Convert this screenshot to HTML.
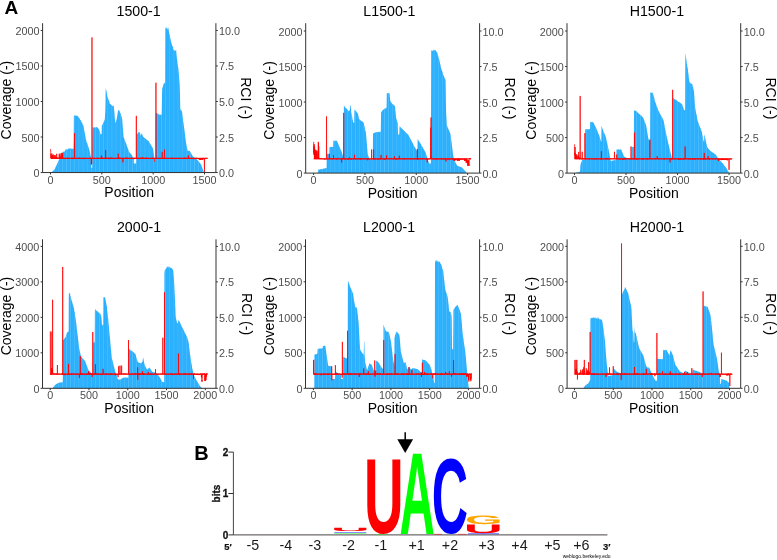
<!DOCTYPE html>
<html lang="en"><head><meta charset="utf-8"><title>Coverage and RCI profiles</title>
<style>html,body{margin:0;padding:0;background:#fff}svg{display:block;will-change:transform}text{font-family:"Liberation Sans",Arial,Helvetica,sans-serif}</style></head>
<body>
<svg width="777" height="560" viewBox="0 0 777 560">
<defs><pattern id="stripe" width="4.13" height="8" patternUnits="userSpaceOnUse"><rect x="0" y="0" width="0.7" height="8" fill="#fff" opacity="0.24"/><rect x="1.15" y="0" width="0.3" height="8" fill="#fff" opacity="0.08"/><rect x="2.1" y="0" width="0.6" height="8" fill="#fff" opacity="0.16"/><rect x="3.2" y="0" width="0.35" height="8" fill="#fff" opacity="0.1"/></pattern></defs>
<rect width="777" height="560" fill="#fff"/>
<text x="4.6" y="13.7" font-size="19" font-weight="bold">A</text>
<text x="194.2" y="459.8" font-size="20" font-weight="bold">B</text>
<g>
<path d="M51.3 172.6L51.3 172.6L51.5 172.3L51.7 172.1L51.9 172L52.1 171.7L52.3 171.5L52.6 171.3L52.8 171.2L53 171L53.2 170.7L53.4 170.6L53.6 170.3L53.8 170.2L54 169.9L54.2 169.7L54.4 169.6L54.6 169.4L54.8 168.9L55 168.5L55.2 168L55.4 167.5L55.6 167.1L55.8 166.7L56 166.2L56.2 165.8L56.5 165.3L56.7 164.9L56.9 164.4L57.1 164L57.3 163.5L57.5 163.1L57.7 162.7L57.9 162.2L58.1 161.7L58.3 161.3L58.5 160.9L58.7 160.3L58.9 160.1L59.1 159.6L59.3 159.1L59.5 158.7L59.7 158.3L59.9 157.8L60.2 157.5L60.4 156.9L60.6 156.7L60.8 156.3L61 155.7L61.2 155.5L61.4 154.8L61.6 154.6L61.8 154.2L62 153.8L62.2 153.4L62.4 152.9L62.6 152.4L62.8 152.2L63 151.7L63.2 151.8L63.4 151.8L63.6 151.7L63.8 151.6L64.1 151.5L64.3 151.4L64.5 151.5L64.7 151.4L64.9 151.2L65.1 150.7L65.3 150.1L65.5 149.9L65.7 149.5L65.9 148.7L66.1 148.9L66.3 149.1L66.5 148.9L66.7 149.4L66.9 149.4L67.1 149.8L67.3 149.7L67.5 149.8L67.7 149.3L68 149L68.2 149L68.4 148.4L68.6 148.3L68.8 148.4L69 148.4L69.2 148.4L69.4 148.5L69.6 148.6L69.8 148.7L70 148.5L70.2 148.3L70.4 148.6L70.6 148.3L70.8 148.6L71 148.6L71.2 148.6L71.4 148.6L71.6 148.9L71.9 148.8L72.1 148.8L72.3 149L72.5 148.7L72.7 148.7L72.9 148.8L73.1 148.7L73.3 148.7L73.5 148.7L73.7 137.7L73.9 115.7L74.1 115.3L74.3 115.5L74.5 115.7L74.7 115.5L74.9 115.8L75.1 115L75.3 115.3L75.6 116.1L75.8 115.6L76 116L76.2 115L76.4 116L76.6 115.9L76.8 115.7L77 116.1L77.2 115.4L77.4 115.9L77.6 115.9L77.8 116.1L78 117L78.2 117.1L78.4 116.6L78.6 116.9L78.8 117.8L79 117.7L79.2 118.3L79.5 118.2L79.7 118.4L79.9 118.9L80.1 119.7L80.3 119.9L80.5 119.9L80.7 120.6L80.9 120.3L81.1 121.3L81.3 121.8L81.5 121.8L81.7 122.3L81.9 122.8L82.1 122.5L82.3 123.5L82.5 123.7L82.7 124.2L82.9 124.7L83.1 125.2L83.4 125.3L83.6 126.9L83.8 127.6L84 129L84.2 130L84.4 131.2L84.6 132L84.8 133.5L85 133.9L85.2 135.6L85.4 136.4L85.6 137.4L85.8 139L86 139.7L86.2 140.5L86.4 141.4L86.6 141.7L86.8 142.5L87 143L87.3 143.3L87.5 144.1L87.7 144.8L87.9 145.5L88.1 146.2L88.3 146.7L88.5 147.3L88.7 147.8L88.9 148.6L89.1 149L89.3 149.8L89.5 150.4L89.7 151.3L89.9 152.2L90.1 153.4L90.3 154.3L90.5 155.6L90.7 156.6L91 157.6L91.2 161.6L91.4 168.1L91.6 168.1L91.8 168.1L92 168.2L92.2 168.1L92.4 140.9L92.6 127.6L92.8 127.3L93 127.5L93.2 127.4L93.4 127.1L93.6 127.1L93.8 127.8L94 127.4L94.2 127.5L94.4 127.3L94.6 127.5L94.9 127.3L95.1 127.8L95.3 127.3L95.5 127.6L95.7 127.3L95.9 127.5L96.1 127.2L96.3 127.1L96.5 127.6L96.7 126.7L96.9 127.3L97.1 127.4L97.3 127.5L97.5 127.8L97.7 127.6L97.9 127.8L98.1 127.9L98.3 128.6L98.5 129L98.8 129.1L99 129.6L99.2 130L99.4 130.2L99.6 131L99.8 131.3L100 132L100.2 133.3L100.4 133.6L100.6 134.2L100.8 134.2L101 134.5L101.2 134.4L101.4 134L101.6 134L101.8 125.8L102 125.9L102.2 124.8L102.4 124.8L102.7 124.4L102.9 123.7L103.1 123.1L103.3 122.9L103.5 122.6L103.7 121.9L103.9 121.1L104.1 121.5L104.3 120.8L104.5 119.7L104.7 119.9L104.9 117.7L105.1 113.9L105.3 111.6L105.5 103.1L105.7 87.7L105.9 88.9L106.1 89.8L106.4 90.7L106.6 91.3L106.8 93.1L107 94L107.2 95.9L107.4 96.8L107.6 96.8L107.8 97.3L108 99.1L108.2 98.6L108.4 99.6L108.6 99.9L108.8 100.4L109 100.2L109.2 101L109.4 102.1L109.6 103.1L109.8 103.8L110 104.1L110.3 104L110.5 104.4L110.7 104.8L110.9 104.1L111.1 105.1L111.3 104.6L111.5 105.4L111.7 105.1L111.9 105.6L112.1 105.4L112.3 105.9L112.5 106.3L112.7 105.7L112.9 106.1L113.1 106.1L113.3 105.2L113.5 105.2L113.7 105.9L113.9 108.2L114.2 110L114.4 112.7L114.6 114.5L114.8 117.6L115 120.2L115.2 123.4L115.4 122.8L115.6 122L115.8 121.4L116 121.3L116.2 120.6L116.4 119.7L116.6 119.6L116.8 118.4L117 117.1L117.2 116L117.4 115.2L117.6 113.4L117.8 111.9L118.1 111.1L118.3 110L118.5 109.8L118.7 109.9L118.9 110.2L119.1 110.5L119.3 110.7L119.5 111L119.7 111.2L119.9 112.2L120.1 112.9L120.3 112.9L120.5 112.8L120.7 113.2L120.9 115.2L121.1 115.3L121.3 116.1L121.5 116.7L121.8 117.4L122 118.6L122.2 119.4L122.4 121.9L122.6 124.3L122.8 127.4L123 129.6L123.2 132.2L123.4 134.5L123.6 137L123.8 137.6L124 138L124.2 138.7L124.4 139L124.6 139.8L124.8 140.3L125 141L125.2 141.4L125.4 141.8L125.7 142.5L125.9 143.1L126.1 143.5L126.3 144L126.5 144.8L126.7 145.2L126.9 146.1L127.1 146.3L127.3 147.1L127.5 147.4L127.7 148.3L127.9 148.6L128.1 149.3L128.3 149.7L128.5 150.3L128.7 150.5L128.9 151.3L129.1 152L129.3 152.1L129.6 152.5L129.8 152.8L130 152.8L130.2 153.3L130.4 153.4L130.6 153.6L130.8 153.8L131 154.2L131.2 154.3L131.4 154.6L131.6 154.9L131.8 155.1L132 155.4L132.2 155.8L132.4 156.3L132.6 156.9L132.8 156.8L133 157L133.2 157.2L133.5 157.2L133.7 157.3L133.9 163.5L134.1 163.5L134.3 163.5L134.5 163.4L134.7 163.5L134.9 163.4L135.1 163.6L135.3 163.4L135.5 163.5L135.7 163.5L135.9 163.4L136.1 163.5L136.3 153.8L136.5 144L136.7 134.2L136.9 134.4L137.2 133.8L137.4 133.9L137.6 133.8L137.8 133L138 133.2L138.2 132.8L138.4 132.4L138.6 132L138.8 132.1L139 132L139.2 131.8L139.4 131.8L139.6 132.2L139.8 133.3L140 133.5L140.2 133.8L140.4 134.4L140.6 135.4L140.8 135.4L141.1 134.9L141.3 134.4L141.5 133.7L141.7 132.9L141.9 133.4L142.1 133.7L142.3 134.6L142.5 135.3L142.7 135.8L142.9 136.2L143.1 137.1L143.3 136.7L143.5 137.1L143.7 137.1L143.9 137.3L144.1 137.6L144.3 137.8L144.5 138.1L144.7 138.2L145 138.3L145.2 138.3L145.4 138.4L145.6 138.5L145.8 139.1L146 139.1L146.2 139.2L146.4 139.4L146.6 139.4L146.8 139.8L147 139.7L147.2 140.1L147.4 140.3L147.6 140.7L147.8 140.5L148 140.5L148.2 140.8L148.4 141.1L148.6 141.1L148.9 141.5L149.1 141.6L149.3 142.4L149.5 142.5L149.7 143.1L149.9 143.2L150.1 143.7L150.3 143.9L150.5 144.1L150.7 144.6L150.9 144.9L151.1 145.3L151.3 145.5L151.5 145.8L151.7 146.5L151.9 146.5L152.1 146.9L152.3 147.2L152.6 147.7L152.8 148.2L153 148.3L153.2 149.7L153.4 150.9L153.6 152.5L153.8 153.5L154 154.8L154.2 156.5L154.4 158.8L154.6 161.1L154.8 162.2L155 162.3L155.2 162L155.4 162.1L155.6 162.2L155.8 113.2L156 113L156.2 112.9L156.5 113.1L156.7 113.1L156.9 113L157.1 113.6L157.3 113.5L157.5 113.6L157.7 113.6L157.9 113.6L158.1 114.4L158.3 113.9L158.5 113.5L158.7 114.2L158.9 114.4L159.1 114.5L159.3 114.1L159.5 114.9L159.7 114.4L159.9 115.5L160.1 114.2L160.4 114.8L160.6 114.4L160.8 115.1L161 114.9L161.2 114.4L161.4 115.5L161.6 115L161.8 109.4L162 96.4L162.2 88.2L162.4 87.9L162.6 87.6L162.8 86.8L163 86.5L163.2 85.6L163.4 84.8L163.6 84.1L163.8 84L164 83.1L164.3 82.8L164.5 82.7L164.7 83L164.9 83.8L165.1 82.5L165.3 27.8L165.5 28.9L165.7 27.2L165.9 27.8L166.1 28.8L166.3 27.3L166.5 27.4L166.7 27.1L166.9 28.9L167.1 27.7L167.3 28.7L167.5 30.3L167.7 28.6L168 28.5L168.2 26.7L168.4 29L168.6 29.1L168.8 31.4L169 31.3L169.2 33.7L169.4 33L169.6 35.6L169.8 34.7L170 36.6L170.2 37.9L170.4 39.1L170.6 38.7L170.8 40.8L171 40.9L171.2 42.4L171.4 42.8L171.6 43.6L171.9 44.6L172.1 45.5L172.3 46.3L172.5 45.8L172.7 46.6L172.9 46.2L173.1 47.9L173.3 49.7L173.5 48.4L173.7 50.6L173.9 49.8L174.1 50.6L174.3 49.8L174.5 50.5L174.7 51L174.9 51L175.1 51.1L175.3 51L175.5 49.3L175.8 50.5L176 50.5L176.2 49.9L176.4 53.4L176.6 55.3L176.8 57.4L177 59.5L177.2 59.5L177.4 62.1L177.6 64L177.8 64.9L178 66.5L178.2 68.1L178.4 68.6L178.6 71.3L178.8 73.1L179 75.4L179.2 77.9L179.4 81.3L179.7 85L179.9 90.9L180.1 99.5L180.3 108.6L180.5 109.5L180.7 110.2L180.9 109.9L181.1 109.6L181.3 110.4L181.5 111.1L181.7 111.2L181.9 111.1L182.1 112.1L182.3 113.9L182.5 115.4L182.7 117.2L182.9 118.7L183.1 120.7L183.4 122.3L183.6 123.7L183.8 125.3L184 127L184.2 128.2L184.4 129.8L184.6 131.2L184.8 133.1L185 134.8L185.2 136.4L185.4 138.2L185.6 139.4L185.8 141.2L186 142.4L186.2 143.5L186.4 144.5L186.6 145.5L186.8 146.7L187 147.7L187.3 148.8L187.5 149.8L187.7 150.8L187.9 151.1L188.1 151.1L188.3 151L188.5 150.9L188.7 150.9L188.9 150.5L189.1 150.7L189.3 150.5L189.5 150.8L189.7 150.9L189.9 151.2L190.1 151.5L190.3 152L190.5 152.2L190.7 152.8L190.9 153L191.2 153.4L191.4 153.5L191.6 154L191.8 154.2L192 154.9L192.2 155.2L192.4 155.4L192.6 155.9L192.8 156.1L193 156.6L193.2 156.6L193.4 156.9L193.6 157L193.8 157L194 157.3L194.2 157.4L194.4 157.6L194.6 157.7L194.8 157.7L195.1 158L195.3 158.2L195.5 158.3L195.7 158.6L195.9 158.6L196.1 158.8L196.3 158.9L196.5 159L196.7 159.2L196.9 159.5L197.1 159.6L197.3 159.8L197.5 159.9L197.7 160.2L197.9 160.4L198.1 160.7L198.3 160.9L198.5 161.3L198.8 161.7L199 161.8L199.2 162.1L199.4 162.3L199.6 162.7L199.8 163L200 163.1L200.2 163.4L200.4 163.7L200.6 164L200.8 164.3L201 164.5L201.2 164.9L201.4 165.4L201.6 166L201.8 166.6L202 167.2L202.2 167.8L202.4 168.3L202.7 168.9L202.9 169.4L203.1 170L203.3 170.6L203.5 171.2L203.7 171.7L203.9 172.3L203.9 172.6Z" fill="#1FACFE"/>
<path d="M51.3 172.6L51.3 172.6L51.5 172.3L51.7 172.1L51.9 172L52.1 171.7L52.3 171.5L52.6 171.3L52.8 171.2L53 171L53.2 170.7L53.4 170.6L53.6 170.3L53.8 170.2L54 169.9L54.2 169.7L54.4 169.6L54.6 169.4L54.8 168.9L55 168.5L55.2 168L55.4 167.5L55.6 167.1L55.8 166.7L56 166.2L56.2 165.8L56.5 165.3L56.7 164.9L56.9 164.4L57.1 164L57.3 163.5L57.5 163.1L57.7 162.7L57.9 162.2L58.1 161.7L58.3 161.3L58.5 160.9L58.7 160.3L58.9 160.1L59.1 159.6L59.3 159.1L59.5 158.7L59.7 158.3L59.9 157.8L60.2 157.5L60.4 156.9L60.6 156.7L60.8 156.3L61 155.7L61.2 155.5L61.4 154.8L61.6 154.6L61.8 154.2L62 153.8L62.2 153.4L62.4 152.9L62.6 152.4L62.8 152.2L63 151.7L63.2 151.8L63.4 151.8L63.6 151.7L63.8 151.6L64.1 151.5L64.3 151.4L64.5 151.5L64.7 151.4L64.9 151.2L65.1 150.7L65.3 150.1L65.5 149.9L65.7 149.5L65.9 148.7L66.1 148.9L66.3 149.1L66.5 148.9L66.7 149.4L66.9 149.4L67.1 149.8L67.3 149.7L67.5 149.8L67.7 149.3L68 149L68.2 149L68.4 148.4L68.6 148.3L68.8 148.4L69 148.4L69.2 148.4L69.4 148.5L69.6 148.6L69.8 148.7L70 148.5L70.2 148.3L70.4 148.6L70.6 148.3L70.8 148.6L71 148.6L71.2 148.6L71.4 148.6L71.6 148.9L71.9 148.8L72.1 148.8L72.3 149L72.5 148.7L72.7 148.7L72.9 148.8L73.1 148.7L73.3 148.7L73.5 148.7L73.7 137.7L73.9 115.7L74.1 115.3L74.3 115.5L74.5 115.7L74.7 115.5L74.9 115.8L75.1 115L75.3 115.3L75.6 116.1L75.8 115.6L76 116L76.2 115L76.4 116L76.6 115.9L76.8 115.7L77 116.1L77.2 115.4L77.4 115.9L77.6 115.9L77.8 116.1L78 117L78.2 117.1L78.4 116.6L78.6 116.9L78.8 117.8L79 117.7L79.2 118.3L79.5 118.2L79.7 118.4L79.9 118.9L80.1 119.7L80.3 119.9L80.5 119.9L80.7 120.6L80.9 120.3L81.1 121.3L81.3 121.8L81.5 121.8L81.7 122.3L81.9 122.8L82.1 122.5L82.3 123.5L82.5 123.7L82.7 124.2L82.9 124.7L83.1 125.2L83.4 125.3L83.6 126.9L83.8 127.6L84 129L84.2 130L84.4 131.2L84.6 132L84.8 133.5L85 133.9L85.2 135.6L85.4 136.4L85.6 137.4L85.8 139L86 139.7L86.2 140.5L86.4 141.4L86.6 141.7L86.8 142.5L87 143L87.3 143.3L87.5 144.1L87.7 144.8L87.9 145.5L88.1 146.2L88.3 146.7L88.5 147.3L88.7 147.8L88.9 148.6L89.1 149L89.3 149.8L89.5 150.4L89.7 151.3L89.9 152.2L90.1 153.4L90.3 154.3L90.5 155.6L90.7 156.6L91 157.6L91.2 161.6L91.4 168.1L91.6 168.1L91.8 168.1L92 168.2L92.2 168.1L92.4 140.9L92.6 127.6L92.8 127.3L93 127.5L93.2 127.4L93.4 127.1L93.6 127.1L93.8 127.8L94 127.4L94.2 127.5L94.4 127.3L94.6 127.5L94.9 127.3L95.1 127.8L95.3 127.3L95.5 127.6L95.7 127.3L95.9 127.5L96.1 127.2L96.3 127.1L96.5 127.6L96.7 126.7L96.9 127.3L97.1 127.4L97.3 127.5L97.5 127.8L97.7 127.6L97.9 127.8L98.1 127.9L98.3 128.6L98.5 129L98.8 129.1L99 129.6L99.2 130L99.4 130.2L99.6 131L99.8 131.3L100 132L100.2 133.3L100.4 133.6L100.6 134.2L100.8 134.2L101 134.5L101.2 134.4L101.4 134L101.6 134L101.8 125.8L102 125.9L102.2 124.8L102.4 124.8L102.7 124.4L102.9 123.7L103.1 123.1L103.3 122.9L103.5 122.6L103.7 121.9L103.9 121.1L104.1 121.5L104.3 120.8L104.5 119.7L104.7 119.9L104.9 117.7L105.1 113.9L105.3 111.6L105.5 103.1L105.7 87.7L105.9 88.9L106.1 89.8L106.4 90.7L106.6 91.3L106.8 93.1L107 94L107.2 95.9L107.4 96.8L107.6 96.8L107.8 97.3L108 99.1L108.2 98.6L108.4 99.6L108.6 99.9L108.8 100.4L109 100.2L109.2 101L109.4 102.1L109.6 103.1L109.8 103.8L110 104.1L110.3 104L110.5 104.4L110.7 104.8L110.9 104.1L111.1 105.1L111.3 104.6L111.5 105.4L111.7 105.1L111.9 105.6L112.1 105.4L112.3 105.9L112.5 106.3L112.7 105.7L112.9 106.1L113.1 106.1L113.3 105.2L113.5 105.2L113.7 105.9L113.9 108.2L114.2 110L114.4 112.7L114.6 114.5L114.8 117.6L115 120.2L115.2 123.4L115.4 122.8L115.6 122L115.8 121.4L116 121.3L116.2 120.6L116.4 119.7L116.6 119.6L116.8 118.4L117 117.1L117.2 116L117.4 115.2L117.6 113.4L117.8 111.9L118.1 111.1L118.3 110L118.5 109.8L118.7 109.9L118.9 110.2L119.1 110.5L119.3 110.7L119.5 111L119.7 111.2L119.9 112.2L120.1 112.9L120.3 112.9L120.5 112.8L120.7 113.2L120.9 115.2L121.1 115.3L121.3 116.1L121.5 116.7L121.8 117.4L122 118.6L122.2 119.4L122.4 121.9L122.6 124.3L122.8 127.4L123 129.6L123.2 132.2L123.4 134.5L123.6 137L123.8 137.6L124 138L124.2 138.7L124.4 139L124.6 139.8L124.8 140.3L125 141L125.2 141.4L125.4 141.8L125.7 142.5L125.9 143.1L126.1 143.5L126.3 144L126.5 144.8L126.7 145.2L126.9 146.1L127.1 146.3L127.3 147.1L127.5 147.4L127.7 148.3L127.9 148.6L128.1 149.3L128.3 149.7L128.5 150.3L128.7 150.5L128.9 151.3L129.1 152L129.3 152.1L129.6 152.5L129.8 152.8L130 152.8L130.2 153.3L130.4 153.4L130.6 153.6L130.8 153.8L131 154.2L131.2 154.3L131.4 154.6L131.6 154.9L131.8 155.1L132 155.4L132.2 155.8L132.4 156.3L132.6 156.9L132.8 156.8L133 157L133.2 157.2L133.5 157.2L133.7 157.3L133.9 163.5L134.1 163.5L134.3 163.5L134.5 163.4L134.7 163.5L134.9 163.4L135.1 163.6L135.3 163.4L135.5 163.5L135.7 163.5L135.9 163.4L136.1 163.5L136.3 153.8L136.5 144L136.7 134.2L136.9 134.4L137.2 133.8L137.4 133.9L137.6 133.8L137.8 133L138 133.2L138.2 132.8L138.4 132.4L138.6 132L138.8 132.1L139 132L139.2 131.8L139.4 131.8L139.6 132.2L139.8 133.3L140 133.5L140.2 133.8L140.4 134.4L140.6 135.4L140.8 135.4L141.1 134.9L141.3 134.4L141.5 133.7L141.7 132.9L141.9 133.4L142.1 133.7L142.3 134.6L142.5 135.3L142.7 135.8L142.9 136.2L143.1 137.1L143.3 136.7L143.5 137.1L143.7 137.1L143.9 137.3L144.1 137.6L144.3 137.8L144.5 138.1L144.7 138.2L145 138.3L145.2 138.3L145.4 138.4L145.6 138.5L145.8 139.1L146 139.1L146.2 139.2L146.4 139.4L146.6 139.4L146.8 139.8L147 139.7L147.2 140.1L147.4 140.3L147.6 140.7L147.8 140.5L148 140.5L148.2 140.8L148.4 141.1L148.6 141.1L148.9 141.5L149.1 141.6L149.3 142.4L149.5 142.5L149.7 143.1L149.9 143.2L150.1 143.7L150.3 143.9L150.5 144.1L150.7 144.6L150.9 144.9L151.1 145.3L151.3 145.5L151.5 145.8L151.7 146.5L151.9 146.5L152.1 146.9L152.3 147.2L152.6 147.7L152.8 148.2L153 148.3L153.2 149.7L153.4 150.9L153.6 152.5L153.8 153.5L154 154.8L154.2 156.5L154.4 158.8L154.6 161.1L154.8 162.2L155 162.3L155.2 162L155.4 162.1L155.6 162.2L155.8 113.2L156 113L156.2 112.9L156.5 113.1L156.7 113.1L156.9 113L157.1 113.6L157.3 113.5L157.5 113.6L157.7 113.6L157.9 113.6L158.1 114.4L158.3 113.9L158.5 113.5L158.7 114.2L158.9 114.4L159.1 114.5L159.3 114.1L159.5 114.9L159.7 114.4L159.9 115.5L160.1 114.2L160.4 114.8L160.6 114.4L160.8 115.1L161 114.9L161.2 114.4L161.4 115.5L161.6 115L161.8 109.4L162 96.4L162.2 88.2L162.4 87.9L162.6 87.6L162.8 86.8L163 86.5L163.2 85.6L163.4 84.8L163.6 84.1L163.8 84L164 83.1L164.3 82.8L164.5 82.7L164.7 83L164.9 83.8L165.1 82.5L165.3 27.8L165.5 28.9L165.7 27.2L165.9 27.8L166.1 28.8L166.3 27.3L166.5 27.4L166.7 27.1L166.9 28.9L167.1 27.7L167.3 28.7L167.5 30.3L167.7 28.6L168 28.5L168.2 26.7L168.4 29L168.6 29.1L168.8 31.4L169 31.3L169.2 33.7L169.4 33L169.6 35.6L169.8 34.7L170 36.6L170.2 37.9L170.4 39.1L170.6 38.7L170.8 40.8L171 40.9L171.2 42.4L171.4 42.8L171.6 43.6L171.9 44.6L172.1 45.5L172.3 46.3L172.5 45.8L172.7 46.6L172.9 46.2L173.1 47.9L173.3 49.7L173.5 48.4L173.7 50.6L173.9 49.8L174.1 50.6L174.3 49.8L174.5 50.5L174.7 51L174.9 51L175.1 51.1L175.3 51L175.5 49.3L175.8 50.5L176 50.5L176.2 49.9L176.4 53.4L176.6 55.3L176.8 57.4L177 59.5L177.2 59.5L177.4 62.1L177.6 64L177.8 64.9L178 66.5L178.2 68.1L178.4 68.6L178.6 71.3L178.8 73.1L179 75.4L179.2 77.9L179.4 81.3L179.7 85L179.9 90.9L180.1 99.5L180.3 108.6L180.5 109.5L180.7 110.2L180.9 109.9L181.1 109.6L181.3 110.4L181.5 111.1L181.7 111.2L181.9 111.1L182.1 112.1L182.3 113.9L182.5 115.4L182.7 117.2L182.9 118.7L183.1 120.7L183.4 122.3L183.6 123.7L183.8 125.3L184 127L184.2 128.2L184.4 129.8L184.6 131.2L184.8 133.1L185 134.8L185.2 136.4L185.4 138.2L185.6 139.4L185.8 141.2L186 142.4L186.2 143.5L186.4 144.5L186.6 145.5L186.8 146.7L187 147.7L187.3 148.8L187.5 149.8L187.7 150.8L187.9 151.1L188.1 151.1L188.3 151L188.5 150.9L188.7 150.9L188.9 150.5L189.1 150.7L189.3 150.5L189.5 150.8L189.7 150.9L189.9 151.2L190.1 151.5L190.3 152L190.5 152.2L190.7 152.8L190.9 153L191.2 153.4L191.4 153.5L191.6 154L191.8 154.2L192 154.9L192.2 155.2L192.4 155.4L192.6 155.9L192.8 156.1L193 156.6L193.2 156.6L193.4 156.9L193.6 157L193.8 157L194 157.3L194.2 157.4L194.4 157.6L194.6 157.7L194.8 157.7L195.1 158L195.3 158.2L195.5 158.3L195.7 158.6L195.9 158.6L196.1 158.8L196.3 158.9L196.5 159L196.7 159.2L196.9 159.5L197.1 159.6L197.3 159.8L197.5 159.9L197.7 160.2L197.9 160.4L198.1 160.7L198.3 160.9L198.5 161.3L198.8 161.7L199 161.8L199.2 162.1L199.4 162.3L199.6 162.7L199.8 163L200 163.1L200.2 163.4L200.4 163.7L200.6 164L200.8 164.3L201 164.5L201.2 164.9L201.4 165.4L201.6 166L201.8 166.6L202 167.2L202.2 167.8L202.4 168.3L202.7 168.9L202.9 169.4L203.1 170L203.3 170.6L203.5 171.2L203.7 171.7L203.9 172.3L203.9 172.6Z" fill="url(#stripe)"/>
<polyline points="50.6,148.96 50.71,152.46 50.81,158.01 50.91,156.06 51.01,155.05 51.12,153.78 51.22,158.34 51.32,158.34 51.42,156.62 51.53,158.21 51.63,158.34 51.73,156.44 51.83,153.52 51.94,156.95 52.04,156.22 52.14,158.34 52.25,158.34 52.35,157.83 52.45,158.34 52.55,154.97 52.66,158.34 52.76,158.34 52.86,158.33 52.96,156.47 53.07,158.34 53.17,157.94 53.27,154.51 53.37,158.34 53.89,158.34 53.99,158.16 54.09,157.54 54.2,158.47 54.3,158.34 54.61,158.34 54.71,155.09 54.81,158.34 55.02,158.34 55.12,158.88 55.22,155.33 55.33,158.34 55.43,158.08 55.53,158.34 55.63,158.34 55.74,158.85 55.84,158.34 55.94,158.34 56.04,157.26 56.15,158.46 56.25,158.34 56.35,158.34 56.45,158.72 56.56,156.73 56.66,153.79 56.76,158.28 56.87,158.34 56.97,157.89 57.07,158.35 57.17,158.34 57.28,158.64 57.38,158.34 57.48,157.57 57.58,158.19 57.69,158.34 57.79,157.96 57.89,158.34 57.99,158.6 58.1,158.34 58.2,158.34 58.3,158.1 58.41,158.14 58.51,158.35 58.61,157.82 58.71,158.34 58.92,158.34 59.02,158.19 59.12,158.34 59.23,154.08 59.33,158.17 59.43,158.34 59.64,158.34 59.74,155.34 59.84,155.54 59.95,158.34 60.05,153.32 60.15,158.34 60.25,157.07 60.36,158.34 60.87,158.34 60.97,158.94 61.07,158.34 61.18,158.34 61.28,158.24 61.38,158.34 61.59,158.34 61.69,152.85 61.79,158.34 61.9,158.34 62,158.39 62.1,158.29 62.2,158.34 62.31,154.45 62.41,158.34 62.51,158.34 62.61,152.94 62.72,158.34 64.46,158.34 64.57,158.49 64.67,158.26 64.77,158.79 64.87,158.34 64.98,158.85 65.08,158.34 65.8,158.34 65.9,158.59 66,158.28 66.11,158.34 67.23,158.34 67.34,157.73 67.44,158.16 67.54,158.34 68.57,158.34 68.67,157.92 68.77,158.75 68.88,158.34 69.29,158.34 69.39,158.4 69.49,158.34 69.7,158.34 69.8,158.39 69.9,158.34 70.01,158.82 70.11,158.34 70.62,158.34 70.73,158.38 70.83,158.53 70.93,158.34 71.96,158.34 72.06,157.61 72.16,158.34 72.37,158.34 72.47,158.53 72.57,158.32 72.68,159 72.78,158.34 72.88,158.34 72.98,158.51 73.09,159.11 73.19,158.34 73.5,158.34 73.6,158.11 73.7,157.91 73.81,158.84 73.91,158.34 74.01,158.45 74.11,158.23 74.22,158.34 74.32,158.34 74.42,157.94 74.52,133.19 74.63,154.57 74.73,158.72 74.83,158.12 74.93,158.34 75.65,158.34 75.76,158.86 75.86,158.34 75.96,158.49 76.06,158.34 76.27,158.34 76.37,158.26 76.47,158.34 76.58,158.09 76.68,158.34 77.4,158.34 77.5,158.54 77.6,158.34 78.01,158.34 78.12,158.49 78.22,158.34 78.73,158.34 78.84,157.95 78.94,158.34 79.04,157.9 79.14,158.34 79.25,158.34 79.35,157.81 79.45,158.33 79.55,157.79 79.66,158.34 79.86,158.34 79.97,158.59 80.07,158.34 80.17,158.49 80.27,158.34 80.68,158.34 80.79,158.59 80.89,158.34 80.99,158.47 81.09,158.3 81.2,158.94 81.3,158.34 81.4,158.34 81.51,158.65 81.61,158.34 82.63,158.34 82.74,158.34 82.84,158.34 83.05,158.34 83.15,158.79 83.25,157.95 83.35,158.34 83.46,158.34 83.56,159.11 83.66,158.64 83.76,158.34 83.87,158.34 83.97,157.82 84.07,158.34 84.17,158.34 84.28,158.14 84.38,158.34 84.59,158.34 84.69,158.26 84.79,158.07 84.89,158.34 85,158.02 85.1,158.34 85.51,158.34 85.61,158.53 85.71,158.34 85.82,158.43 85.92,158.54 86.02,158.34 86.13,158.34 86.23,158.02 86.33,158.34 87.15,158.34 87.25,158.66 87.36,158.34 87.46,158.23 87.56,158.34 88.08,158.34 88.18,158.85 88.28,158.65 88.38,158.27 88.49,158.02 88.59,158.34 89,158.34 89.1,158.62 89.21,158.34 89.62,158.34 89.72,158.37 89.82,158.64 89.92,158.6 90.03,158.34 90.13,158.32 90.23,157.96 90.33,158.34 90.44,157.67 90.54,158.34 90.64,158.34 90.75,158.33 90.85,158.34 91.26,158.34 91.36,164.59 91.46,158.67 91.57,159.08 91.67,164.02 91.77,158.75 91.87,158.34 91.98,37.41 92.08,140.2 92.18,158.34 92.7,158.34 92.8,157.98 92.9,158.25 93,158.34 93.11,158.22 93.21,158.34 93.31,158.34 93.41,158.65 93.52,158.34 93.72,158.34 93.83,158.43 93.93,158.18 94.03,158.34 94.13,158.24 94.24,158.24 94.34,158.34 94.44,158.2 94.54,158.34 94.85,158.34 94.95,158.02 95.06,158.87 95.16,158.34 95.26,158.34 95.37,158.42 95.47,158.67 95.57,158.34 95.78,158.34 95.88,158.19 95.98,158.34 96.08,158.51 96.19,158.34 96.8,158.34 96.91,158.36 97.01,158.34 97.11,157.85 97.21,158.34 97.32,158.55 97.42,158.34 97.73,158.34 97.83,158.09 97.93,158.54 98.03,158.4 98.14,158.34 98.34,158.34 98.45,158.26 98.55,157.97 98.65,158.64 98.75,158.34 98.86,158.97 98.96,158.34 99.06,158.61 99.16,158.34 99.27,159.06 99.37,158.34 100.19,158.34 100.29,157.76 100.4,157.93 100.5,158.34 100.81,158.34 100.91,157.97 101.01,158.34 101.32,158.34 101.42,155.5 101.53,158.34 101.63,157.97 101.73,158.12 101.83,158.34 101.94,158.34 102.04,158.07 102.14,158.34 102.24,158.65 102.35,158.34 102.45,157.37 102.55,158.04 102.65,158.34 102.76,158.6 102.86,158.34 103.37,158.34 103.48,158.62 103.58,158.34 103.68,158.32 103.78,158.43 103.89,158.34 103.99,158.34 104.09,157.88 104.19,158.2 104.3,158.34 105.02,158.34 105.12,158.16 105.22,158.34 105.43,158.34 105.53,158.83 105.63,150.1 105.73,158.34 106.04,158.34 106.15,157.6 106.25,158.34 106.35,158.05 106.45,158.34 106.66,158.34 106.76,158.83 106.86,158.34 106.97,158.34 107.07,158.32 107.17,158.34 107.69,158.34 107.79,158.05 107.89,158.34 107.99,158.34 108.1,158.01 108.2,158.34 108.3,158.34 108.4,158.56 108.51,158.43 108.61,158.11 108.71,157.61 108.81,158.34 109.02,158.34 109.12,158.89 109.23,159.19 109.33,158.34 109.43,158.34 109.53,158.22 109.64,158.34 109.74,158.61 109.84,158.61 109.94,158.34 110.05,158.94 110.15,158.34 110.25,158.34 110.35,158.63 110.46,158.34 110.56,158.34 110.66,158.11 110.77,157.91 110.87,158.34 110.97,157.87 111.07,158.34 111.18,157.61 111.28,158.34 111.79,158.34 111.89,158.23 112,157.74 112.1,158.34 112.92,158.34 113.02,158.65 113.13,158.34 113.23,158.34 113.33,158.31 113.43,158.34 113.95,158.34 114.05,158.18 114.15,158.1 114.26,158.34 114.46,158.34 114.56,158.66 114.67,158.34 115.18,158.34 115.28,158.56 115.39,158.45 115.49,158.34 116.62,158.34 116.72,157.94 116.82,158.34 117.03,158.34 117.13,158.22 117.23,158.34 117.44,158.34 117.54,158.15 117.64,157.94 117.75,158.34 118.16,158.34 118.26,153.65 118.36,158.34 118.47,157.68 118.57,158.34 118.67,158.34 118.77,158.71 118.88,158.62 118.98,158.34 119.08,158.53 119.18,158.34 119.29,158.37 119.39,158.34 119.7,158.34 119.8,157.62 119.9,158.34 120.42,158.34 120.52,158.28 120.62,158.34 120.72,158.34 120.83,158.69 120.93,158.34 121.03,158.74 121.13,158.34 121.34,158.34 121.44,157.91 121.55,158.34 121.75,158.34 121.85,158.11 121.96,158.34 122.78,158.34 122.88,162.32 122.98,158.34 123.29,158.34 123.39,158.53 123.5,158.34 123.8,158.34 123.91,158.45 124.01,158.34 125.96,158.34 126.06,157.56 126.17,158.34 126.78,158.34 126.88,158.65 126.99,158.34 127.09,158.34 127.19,157.9 127.29,158.34 127.6,158.34 127.71,158.01 127.81,158.27 127.91,158.3 128.01,158.54 128.12,158.34 128.22,158.34 128.32,158.69 128.42,158.34 128.63,158.34 128.73,157.95 128.83,158.34 128.94,158.34 129.04,158.93 129.14,158.34 129.35,158.34 129.45,158.03 129.55,158.34 129.66,158.19 129.76,158.02 129.86,158.12 129.96,158.34 130.37,158.34 130.48,158.73 130.58,158.34 130.68,158.34 130.79,158.21 130.89,158.34 131.3,158.34 131.4,158.78 131.5,158.34 131.81,158.34 131.91,157.76 132.02,158.34 132.63,158.34 132.74,158.05 132.84,158.34 133.45,158.34 133.56,158.23 133.66,158.34 133.76,158.15 133.87,158.34 133.97,158.34 134.07,159.19 134.17,158.34 134.28,158.34 134.38,158.3 134.48,158.5 134.58,158.03 134.69,158.34 134.79,158.34 134.89,157.78 134.99,158.29 135.1,158.14 135.2,158.34 135.51,158.34 135.61,158.07 135.71,158.34 136.12,158.34 136.23,158.97 136.33,115.85 136.43,151.97 136.53,158.34 136.64,158.81 136.74,158.34 137.25,158.34 137.36,158.88 137.46,158.38 137.56,158.34 138.18,158.34 138.28,157.99 138.38,158.34 138.9,158.34 139,159.04 139.1,158.34 139.2,158.34 139.31,158.39 139.41,158.13 139.51,158.34 139.82,158.34 139.92,158 140.03,158.34 140.33,158.34 140.44,157.78 140.54,158.34 140.95,158.34 141.05,158.27 141.15,158.6 141.26,158.34 141.36,158.34 141.46,158.39 141.57,158.34 141.67,158.34 141.77,158.3 141.87,158.34 141.98,159.03 142.08,158.34 142.28,158.34 142.39,157.27 142.49,158.34 142.59,158.34 142.69,158.02 142.8,158.34 142.9,158.34 143,157.67 143.11,158.34 143.52,158.34 143.62,158.52 143.72,158.34 143.82,158.57 143.93,158.34 144.34,158.34 144.44,157.99 144.54,158.78 144.65,158.34 144.85,158.34 144.95,158.09 145.06,158.34 145.16,158.09 145.26,158.72 145.36,158.34 145.47,158.19 145.57,158.34 146.08,158.34 146.19,159.02 146.29,158.34 146.39,157.46 146.49,158.58 146.6,158.34 146.7,158.44 146.8,158.41 146.9,157.96 147.01,158.34 147.11,158.69 147.21,158.34 147.52,158.34 147.62,158.02 147.73,158.34 148.03,158.34 148.14,158.43 148.24,158.34 148.34,158.34 148.44,158.96 148.55,158.35 148.65,158.34 148.75,158.34 148.85,158.16 148.96,158.34 149.16,158.34 149.27,158.1 149.37,158.55 149.47,158.34 150.29,158.34 150.39,158.77 150.5,158.34 150.6,158.34 150.7,158.48 150.81,158.69 150.91,158.34 151.01,158.34 151.11,158.14 151.22,158.34 151.32,158.51 151.42,158.52 151.52,158.52 151.63,158.34 151.73,158.34 151.83,158.43 151.93,158.34 152.04,158.34 152.14,158.66 152.24,158.34 152.45,158.34 152.55,157.66 152.65,158.34 152.76,158.34 152.86,158.64 152.96,158.34 153.47,158.34 153.58,158.38 153.68,158.34 153.89,158.34 153.99,158.26 154.09,158.34 154.19,158.7 154.3,158.34 154.71,158.34 154.81,157.99 154.91,162.03 155.01,158.34 155.32,158.34 155.43,157.96 155.53,158.14 155.63,158.34 155.84,158.34 155.94,82.74 156.04,147 156.14,158.34 156.35,158.34 156.45,158.4 156.55,158.34 157.17,158.34 157.27,158.37 157.38,158.34 157.58,158.34 157.68,158.29 157.79,158.34 158.09,158.34 158.2,157.93 158.3,158.34 158.51,158.34 158.61,158.67 158.71,158.44 158.81,158.17 158.92,158.34 159.02,158.34 159.12,158.66 159.22,158.34 159.84,158.34 159.94,157.89 160.05,158.34 160.35,158.34 160.46,158.2 160.56,158.34 160.76,158.34 160.87,157.98 160.97,158.34 161.17,158.34 161.28,158 161.38,158.14 161.48,158.34 161.59,158.1 161.69,158.34 162.1,158.34 162.2,151.8 162.3,158.34 162.61,158.34 162.71,158.23 162.82,158.34 162.92,158.34 163.02,158.13 163.13,158.34 163.23,158.4 163.33,158.49 163.43,158.34 163.54,158.34 163.64,158.23 163.74,158.34 164.25,158.34 164.36,158.09 164.46,158.34 164.56,149.53 164.67,158.34 165.08,158.34 165.18,158.05 165.28,158.34 165.69,158.34 165.79,158.48 165.9,158.34 166,158.34 166.1,158.13 166.21,158.34 166.51,158.34 166.62,158.21 166.72,158.34 167.03,158.34 167.13,158.51 167.23,158.34 168.46,158.34 168.57,158.03 168.67,158.34 168.77,158.45 168.87,158.34 169.18,158.34 169.29,158.64 169.39,158.5 169.49,158.34 170.31,158.34 170.41,158.28 170.52,158.04 170.62,158.26 170.72,158.59 170.83,158.34 170.93,158.7 171.03,158.34 172.26,158.34 172.37,157.85 172.47,158.71 172.57,158.34 172.78,158.34 172.88,158.17 172.98,157.88 173.08,158.34 173.19,158.12 173.29,158.34 173.8,158.34 173.91,157.99 174.01,158.34 174.11,158.12 174.21,158.33 174.32,158.34 174.62,158.34 174.73,158.8 174.83,158.34 175.86,158.34 175.96,158.21 176.06,158.52 176.16,158.34 176.27,157.92 176.37,158.34 176.47,158.73 176.57,158.34 176.68,158.34 176.78,158.65 176.88,158.34 176.99,158.34 177.09,158.5 177.19,158.34 177.6,158.34 177.7,158.12 177.81,158.34 177.91,158.27 178.01,157.97 178.11,158.34 178.22,158.34 178.32,158.55 178.42,158.23 178.53,158.34 178.73,158.34 178.83,158.53 178.94,158.34 179.04,158.34 179.14,158.14 179.24,158.34 179.35,158.34 179.45,157.9 179.55,158.34 179.65,158.34 179.76,158.01 179.86,158.34 181.3,158.34 181.4,158.37 181.5,158.34 181.61,158.7 181.71,158.34 182.43,158.34 182.53,158.75 182.63,158.34 182.73,158.34 182.84,158.3 182.94,158.34 183.56,158.34 183.66,158.15 183.76,158.34 183.86,157.98 183.97,158.34 184.07,158.21 184.17,157.67 184.27,158.34 184.48,158.34 184.58,157.89 184.69,158.34 185.61,158.34 185.71,158.31 185.81,158.53 185.92,158.71 186.02,158.34 186.12,158.65 186.23,158.34 186.43,158.34 186.53,158.12 186.64,157.78 186.74,158.34 187.15,158.34 187.25,158.26 187.35,158.34 187.66,158.34 187.77,158.39 187.87,158.28 187.97,158.34 188.28,158.34 188.38,155.5 188.48,158.25 188.59,158.34 188.79,158.34 188.89,158.14 189,158.34 189.1,157.89 189.2,158.61 189.31,158.34 189.41,158.34 189.51,158.09 189.61,158.34 189.72,158.34 189.82,159.06 189.92,158.34 190.13,158.34 190.23,158.73 190.33,158.34 190.64,158.34 190.74,158.75 190.85,158.34 190.95,158.38 191.05,158.34 191.15,158.16 191.26,158.34 191.46,158.34 191.56,157.89 191.67,158.41 191.77,158.34 191.87,158.38 191.97,158.53 192.08,158.28 192.18,158.34 192.8,158.34 192.9,158.1 193,158.34 193.1,158.17 193.21,158.34 193.93,158.34 194.03,159.26 194.13,158.34 194.23,158.34 194.34,158.75 194.44,158.34 195.05,158.34 195.16,158.32 195.26,158.46 195.36,158.34 195.77,158.34 195.88,158.15 195.98,158.34 196.08,157.69 196.18,158.34 197.01,158.34 197.11,158.86 197.21,158.81 197.31,158.34 197.52,158.34 197.62,158.43 197.72,158.34 198.24,158.34 198.34,158.88 198.44,158.34 198.55,158.34 198.65,159.27 198.75,159.16 198.85,158.59 198.96,158.4 199.06,158.82 199.16,158.43 199.26,158.34 199.37,158.97 199.47,158.34 199.67,158.34 199.78,160.04 199.88,158.34 199.98,158.34 200.09,159.71 200.19,158.51 200.29,158.34 200.39,158.34 200.5,159.89 200.6,158.36 200.7,159.52 200.8,158.34 200.91,158.08 201.01,159.54 201.11,158.57 201.21,158.73 201.32,158.34 201.42,158.34 201.52,159.29 201.63,158.68 201.73,159.52 201.83,158.34 201.93,157.93 202.04,158.93 202.14,158.63 202.24,158.34 202.45,158.34 202.55,159.86 202.65,158.87 202.75,158.35 202.86,158.34 202.96,159.53 203.06,159.04 203.17,157.86 203.27,158.34 203.47,158.34 203.58,158.18 203.68,158.41 203.78,158.34 204.19,158.34 204.29,158.22 204.4,172.55 204.5,171.13 204.6,158.34 204.81,158.34 204.91,158.42 205.01,158.34 205.22,158.34 205.32,158.2 205.42,157.97 205.53,158.34 205.63,158.34 205.73,158.38 205.83,158.34 207.07,158.34 207.17,157.94 207.27,158.34 207.48,158.34 207.58,158.29" fill="none" stroke="#FF0000" stroke-width="0.75" stroke-linejoin="miter" stroke-miterlimit="2"/>
<path d="M50.6 158.34H207.58" fill="none" stroke="#FF0000" stroke-width="1.0"/>
<path d="M42.6 23.2V172.55H215.9V23.2M42.6 172.55h-1.9M42.6 137.03h-1.9M42.6 101.5h-1.9M42.6 65.97h-1.9M42.6 30.45h-1.9M215.9 172.55h1.9M215.9 137.03h1.9M215.9 101.5h1.9M215.9 65.97h1.9M215.9 30.45h1.9M50.5 172.55v1.9M101.83 172.55v1.9M153.17 172.55v1.9M204.5 172.55v1.9" fill="none" stroke="#333333" stroke-width="1"/>
<g font-size="10.8" fill="#4D4D4D"><text x="39.5" y="177.05" text-anchor="end">0</text><text x="39.5" y="141.53" text-anchor="end">500</text><text x="39.5" y="106" text-anchor="end">1000</text><text x="39.5" y="70.47" text-anchor="end">1500</text><text x="39.5" y="34.95" text-anchor="end">2000</text><text x="218.9" y="177.05">0.0</text><text x="218.9" y="141.53">2.5</text><text x="218.9" y="106">5.0</text><text x="218.9" y="70.47">7.5</text><text x="218.9" y="34.95">10.0</text><text x="50.5" y="183.55" text-anchor="middle">0</text><text x="101.83" y="183.55" text-anchor="middle">500</text><text x="153.17" y="183.55" text-anchor="middle">1000</text><text x="204.5" y="183.55" text-anchor="middle">1500</text></g>
<text x="116.56" y="15.9" font-size="14.2">1500-1</text>
<text x="129.25" y="197.25" font-size="14.0" text-anchor="middle">Position</text>
<text transform="translate(11.1 100.08) rotate(-90)" font-size="14.0" text-anchor="middle">Coverage (-)</text>
<text transform="translate(241.4 98.17) rotate(90)" font-size="14.0" text-anchor="middle">RCI (-)</text>
</g>
<g>
<path d="M317.8 173.1L317.8 173.1L318 169.8L318.2 169.8L318.4 169.7L318.6 169.7L318.8 169.6L319 169.6L319.2 169.5L319.5 169.5L319.7 169.4L319.9 169.4L320.1 169.4L320.3 169.3L320.5 169.3L320.7 169.3L320.9 169.2L321.1 169.2L321.3 169.1L321.5 169L321.7 169L321.9 169L322.1 168.9L322.3 168.9L322.5 168.9L322.7 168.8L322.9 168.8L323.1 168.7L323.4 168.7L323.6 168.6L323.8 168.6L324 168.5L324.2 168.5L324.4 168.5L324.6 168.4L324.8 168.4L325 168.3L325.2 168.3L325.4 168.2L325.6 168.2L325.8 168.1L326 168.1L326.2 168L326.4 167.9L326.6 167.8L326.8 154L327 154.1L327.3 154L327.5 153.9L327.7 153.7L327.9 154L328.1 153.9L328.3 153.8L328.5 153.7L328.7 153.7L328.9 153.6L329.1 153.5L329.3 153.7L329.5 146.9L329.7 147.3L329.9 147L330.1 147.1L330.3 146.8L330.5 147.1L330.7 147L331 146.9L331.2 146.9L331.4 147L331.6 146.7L331.8 147.1L332 147L332.2 146.9L332.4 147L332.6 147.1L332.8 146.7L333 146.7L333.2 147.1L333.4 140.6L333.6 140.6L333.8 140.9L334 140.6L334.2 141L334.4 140.9L334.6 140.8L334.9 140.7L335.1 140.7L335.3 140.7L335.5 140.9L335.7 140.5L335.9 140.7L336.1 140.9L336.3 140.9L336.5 140.5L336.7 140.7L336.9 140.9L337.1 141.3L337.3 141.6L337.5 142.5L337.7 142.8L337.9 143.1L338.1 143.8L338.3 143.9L338.5 144.8L338.8 145.3L339 145.7L339.2 146L339.4 146.6L339.6 147.1L339.8 147.5L340 148.1L340.2 148.4L340.4 148.8L340.6 149.4L340.8 150L341 150.3L341.2 150.8L341.4 151.2L341.6 151.7L341.8 152.3L342 152.7L342.2 153.5L342.4 154.2L342.7 155.2L342.9 155.9L343.1 156.8L343.3 157.8L343.5 158.4L343.7 141.3L343.9 105.2L344.1 106L344.3 105.6L344.5 106.3L344.7 107.1L344.9 106.9L345.1 107.2L345.3 107.2L345.5 108.2L345.7 108L345.9 108.3L346.1 108.3L346.4 108.5L346.6 108.7L346.8 108.8L347 109.3L347.2 109.2L347.4 109.8L347.6 110.1L347.8 110.1L348 110.3L348.2 110.9L348.4 110.2L348.6 111.4L348.8 111.5L349 110.5L349.2 110.6L349.4 110.6L349.6 110.8L349.8 109.9L350 107.3L350.3 105L350.5 104.8L350.7 106.5L350.9 107.9L351.1 110.4L351.3 112.4L351.5 113.4L351.7 114.9L351.9 116.3L352.1 116.2L352.3 117.7L352.5 119L352.7 120L352.9 120.6L353.1 121.9L353.3 122.5L353.5 122.6L353.7 123L353.9 122.8L354.2 123L354.4 108.7L354.6 109.9L354.8 110.3L355 110.6L355.2 110.1L355.4 111.1L355.6 110.6L355.8 110.9L356 111.3L356.2 110.7L356.4 111.9L356.6 111.8L356.8 112.6L357 112.7L357.2 112.5L357.4 113.2L357.6 113.2L357.8 113.2L358.1 114.4L358.3 115.5L358.5 116.3L358.7 117.9L358.9 118.3L359.1 119L359.3 118.9L359.5 119.4L359.7 119.7L359.9 119.8L360.1 120.2L360.3 119.9L360.5 120.1L360.7 120.6L360.9 121L361.1 120.7L361.3 120.6L361.5 121.2L361.8 121.2L362 121.3L362.2 121.3L362.4 121.6L362.6 122.1L362.8 121.8L363 122.3L363.2 122.3L363.4 122.3L363.6 123.1L363.8 123L364 124.4L364.2 125.3L364.4 125.8L364.6 126.8L364.8 128.2L365 129.2L365.2 130.2L365.4 131L365.7 131.5L365.9 132.7L366.1 134.7L366.3 137L366.5 139.6L366.7 141.9L366.9 144.2L367.1 146.9L367.3 149.1L367.5 151.5L367.7 154L367.9 154.7L368.1 155.2L368.3 155.9L368.5 156.5L368.7 156.8L368.9 157.6L369.1 158.1L369.3 158.6L369.6 158.9L369.8 158.9L370 158.9L370.2 158.9L370.4 159L370.6 159.1L370.8 159.3L371 159.2L371.2 159.3L371.4 159.3L371.6 159.3L371.8 159.2L372 159.3L372.2 159.4L372.4 159.6L372.6 159.5L372.8 159.6L373 133.8L373.2 133.5L373.5 133.5L373.7 133.3L373.9 133.1L374.1 133L374.3 132.8L374.5 133.3L374.7 132.8L374.9 132.5L375.1 132.5L375.3 132.5L375.5 132.8L375.7 132.1L375.9 132.3L376.1 132.4L376.3 131.8L376.5 132.3L376.7 132L376.9 132.1L377.2 132L377.4 132.5L377.6 132.1L377.8 132.2L378 131.9L378.2 131.5L378.4 131.7L378.6 131.8L378.8 132.3L379 132L379.2 132L379.4 132.3L379.6 131.9L379.8 131.8L380 131.9L380.2 131.7L380.4 131.6L380.6 132L380.8 131.5L381.1 112.5L381.3 112.1L381.5 111.8L381.7 111.7L381.9 111.8L382.1 110.8L382.3 110.3L382.5 110.4L382.7 110.3L382.9 110.2L383.1 109.7L383.3 109.5L383.5 109.5L383.7 109.4L383.9 109.7L384.1 108.8L384.3 108.2L384.5 108.6L384.7 109L385 108.7L385.2 108.8L385.4 108.9L385.6 107.7L385.8 108L386 107.8L386.2 108.6L386.4 107.6L386.6 107.5L386.8 92.6L387 93.6L387.2 93.7L387.4 92.7L387.6 93L387.8 93.4L388 93L388.2 92.6L388.4 93.2L388.6 93.2L388.9 93L389.1 93.1L389.3 93.5L389.5 93.4L389.7 94.3L389.9 97.6L390.1 99.8L390.3 101.3L390.5 101.9L390.7 101.1L390.9 101.2L391.1 102.6L391.3 102.4L391.5 102.7L391.7 103L391.9 103.5L392.1 103.7L392.3 103.9L392.6 103.8L392.8 104.3L393 104.3L393.2 104.4L393.4 104.7L393.6 105L393.8 105.3L394 105.2L394.2 105.3L394.4 105.9L394.6 105.8L394.8 105.4L395 106.2L395.2 108.1L395.4 110.8L395.6 112.2L395.8 114.4L396 116.9L396.2 118.4L396.5 119L396.7 119.8L396.9 120.6L397.1 120.8L397.3 121.9L397.5 122.3L397.7 122.7L397.9 129.1L398.1 134.4L398.3 134.4L398.5 134.8L398.7 134.5L398.9 134.4L399.1 134.6L399.3 134.2L399.5 128.6L399.7 126L399.9 126.1L400.1 126.9L400.4 126.7L400.6 127.1L400.8 127.7L401 127.8L401.2 127.9L401.4 128.4L401.6 128.2L401.8 128.4L402 128L402.2 128.8L402.4 128.7L402.6 129.1L402.8 129.6L403 129.9L403.2 130L403.4 130.2L403.6 130L403.8 130.2L404 130.8L404.3 131L404.5 131.3L404.7 131.4L404.9 131.5L405.1 131.8L405.3 131.9L405.5 132.3L405.7 132.1L405.9 132.5L406.1 132.9L406.3 132.7L406.5 133.5L406.7 133.4L406.9 133.3L407.1 133.5L407.3 133.8L407.5 134.2L407.7 134.2L408 134.5L408.2 134.6L408.4 135.2L408.6 135.2L408.8 136L409 136.4L409.2 136.6L409.4 137L409.6 137.1L409.8 137.8L410 138.1L410.2 138.7L410.4 139.1L410.6 139.3L410.8 139.6L411 139.6L411.2 140.6L411.4 140.5L411.6 141.2L411.9 141.4L412.1 142.2L412.3 142.3L412.5 142.7L412.7 143.2L412.9 143.6L413.1 143.9L413.3 144.3L413.5 144.9L413.7 145.2L413.9 145.6L414.1 146.2L414.3 146.4L414.5 146.5L414.7 146.9L414.9 147.4L415.1 147.6L415.3 148.1L415.5 148.5L415.8 148.7L416 149L416.2 149.6L416.4 149.8L416.6 150.2L416.8 150.6L417 150.9L417.2 151.1L417.4 151.2L417.6 139.1L417.8 139.5L418 139.8L418.2 139.8L418.4 140.1L418.6 141L418.8 141.3L419 141.4L419.2 141.5L419.4 141.8L419.7 142.2L419.9 142.8L420.1 142.5L420.3 143.2L420.5 143.4L420.7 143.8L420.9 144.2L421.1 144.4L421.3 144.7L421.5 145.5L421.7 146L421.9 146.1L422.1 146.3L422.3 146.7L422.5 147.1L422.7 147.3L422.9 147.7L423.1 148.3L423.4 148.8L423.6 149L423.8 149.2L424 149.8L424.2 149.9L424.4 150.3L424.6 150.5L424.8 151.2L425 151.8L425.2 151.7L425.4 152.3L425.6 152.6L425.8 152.8L426 153.7L426.2 154.5L426.4 155.1L426.6 155.7L426.8 156.5L427 157L427.3 158L427.5 158.6L427.7 159.4L427.9 159.8L428.1 160.6L428.3 161.3L428.5 161.9L428.7 162.5L428.9 162.8L429.1 163.4L429.3 163.4L429.5 163.5L429.7 163.4L429.9 163.4L430.1 163.5L430.3 163.5L430.5 163.4L430.7 163.5L430.9 163.4L431.2 50.7L431.4 50.4L431.6 50.5L431.8 50.4L432 49.9L432.2 51L432.4 50.6L432.6 51.1L432.8 50.6L433 50.9L433.2 50.2L433.4 50L433.6 49.2L433.8 50.7L434 49.6L434.2 50.7L434.4 50.8L434.6 50.1L434.8 49.8L435.1 49.8L435.3 50.2L435.5 50.4L435.7 49.4L435.9 51L436.1 51.5L436.3 51.6L436.5 52.2L436.7 52.1L436.9 51L437.1 53.2L437.3 51.4L437.5 54.2L437.7 53.5L437.9 56.5L438.1 54.7L438.3 57L438.5 57.3L438.8 58.2L439 59.2L439.2 59L439.4 60.1L439.6 61.6L439.8 62.2L440 62.8L440.2 64.4L440.4 64.6L440.6 65.4L440.8 67.1L441 68.1L441.2 68.1L441.4 69.4L441.6 69.5L441.8 70.5L442 70.6L442.2 71.4L442.4 71.5L442.7 72.6L442.9 73.6L443.1 74.7L443.3 75.4L443.5 75.1L443.7 75.3L443.9 76L444.1 77L444.3 77.7L444.5 77.3L444.7 78L444.9 79.2L445.1 77.9L445.3 80L445.5 79.5L445.7 86.9L445.9 101.5L446.1 111.6L446.3 116.3L446.6 120.7L446.8 125L447 125.8L447.2 125.7L447.4 126.6L447.6 127.2L447.8 127.7L448 128.2L448.2 128.4L448.4 129L448.6 129.5L448.8 130L449 130L449.2 131.2L449.4 131.4L449.6 131.7L449.8 132.2L450 132.7L450.2 133L450.5 134.1L450.7 135.7L450.9 137.4L451.1 138.6L451.3 140.4L451.5 142.1L451.7 143.1L451.9 145L452.1 146.7L452.3 148.4L452.5 150.1L452.7 151.8L452.9 153.5L453.1 155.2L453.3 156.1L453.5 157L453.7 157.8L453.9 158.8L454.2 159.8L454.4 160.5L454.6 160.8L454.8 161.2L455 161.6L455.2 161.9L455.4 162.3L455.6 162.7L455.8 163.1L456 163.5L456.2 163.8L456.4 164.3L456.6 164.6L456.8 165L457 165.3L457.2 165.7L457.4 165.7L457.6 165.8L457.8 165.9L458.1 166L458.3 166.1L458.5 166.2L458.7 166.3L458.9 166.3L459.1 166.4L459.3 166.5L459.5 166.5L459.7 166.6L459.9 166.7L460.1 166.7L460.3 166.9L460.5 166.9L460.7 167L460.9 167.1L461.1 167.2L461.3 167.1L461.5 167.3L461.7 167.4L462 167.6L462.2 167.8L462.4 168L462.6 168.2L462.8 168.4L463 168.6L463.2 168.9L463.4 169.1L463.6 169.3L463.8 169.5L464 169.7L464.2 170L464.4 170.2L464.6 170.4L464.8 170.6L465 170.9L465.2 171.1L465.4 171.3L465.6 171.5L465.9 171.8L466.1 172L466.3 172.2L466.5 172.4L466.7 172.7L466.9 172.9L467.1 173.1L467.1 173.1Z" fill="#1FACFE"/>
<path d="M317.8 173.1L317.8 173.1L318 169.8L318.2 169.8L318.4 169.7L318.6 169.7L318.8 169.6L319 169.6L319.2 169.5L319.5 169.5L319.7 169.4L319.9 169.4L320.1 169.4L320.3 169.3L320.5 169.3L320.7 169.3L320.9 169.2L321.1 169.2L321.3 169.1L321.5 169L321.7 169L321.9 169L322.1 168.9L322.3 168.9L322.5 168.9L322.7 168.8L322.9 168.8L323.1 168.7L323.4 168.7L323.6 168.6L323.8 168.6L324 168.5L324.2 168.5L324.4 168.5L324.6 168.4L324.8 168.4L325 168.3L325.2 168.3L325.4 168.2L325.6 168.2L325.8 168.1L326 168.1L326.2 168L326.4 167.9L326.6 167.8L326.8 154L327 154.1L327.3 154L327.5 153.9L327.7 153.7L327.9 154L328.1 153.9L328.3 153.8L328.5 153.7L328.7 153.7L328.9 153.6L329.1 153.5L329.3 153.7L329.5 146.9L329.7 147.3L329.9 147L330.1 147.1L330.3 146.8L330.5 147.1L330.7 147L331 146.9L331.2 146.9L331.4 147L331.6 146.7L331.8 147.1L332 147L332.2 146.9L332.4 147L332.6 147.1L332.8 146.7L333 146.7L333.2 147.1L333.4 140.6L333.6 140.6L333.8 140.9L334 140.6L334.2 141L334.4 140.9L334.6 140.8L334.9 140.7L335.1 140.7L335.3 140.7L335.5 140.9L335.7 140.5L335.9 140.7L336.1 140.9L336.3 140.9L336.5 140.5L336.7 140.7L336.9 140.9L337.1 141.3L337.3 141.6L337.5 142.5L337.7 142.8L337.9 143.1L338.1 143.8L338.3 143.9L338.5 144.8L338.8 145.3L339 145.7L339.2 146L339.4 146.6L339.6 147.1L339.8 147.5L340 148.1L340.2 148.4L340.4 148.8L340.6 149.4L340.8 150L341 150.3L341.2 150.8L341.4 151.2L341.6 151.7L341.8 152.3L342 152.7L342.2 153.5L342.4 154.2L342.7 155.2L342.9 155.9L343.1 156.8L343.3 157.8L343.5 158.4L343.7 141.3L343.9 105.2L344.1 106L344.3 105.6L344.5 106.3L344.7 107.1L344.9 106.9L345.1 107.2L345.3 107.2L345.5 108.2L345.7 108L345.9 108.3L346.1 108.3L346.4 108.5L346.6 108.7L346.8 108.8L347 109.3L347.2 109.2L347.4 109.8L347.6 110.1L347.8 110.1L348 110.3L348.2 110.9L348.4 110.2L348.6 111.4L348.8 111.5L349 110.5L349.2 110.6L349.4 110.6L349.6 110.8L349.8 109.9L350 107.3L350.3 105L350.5 104.8L350.7 106.5L350.9 107.9L351.1 110.4L351.3 112.4L351.5 113.4L351.7 114.9L351.9 116.3L352.1 116.2L352.3 117.7L352.5 119L352.7 120L352.9 120.6L353.1 121.9L353.3 122.5L353.5 122.6L353.7 123L353.9 122.8L354.2 123L354.4 108.7L354.6 109.9L354.8 110.3L355 110.6L355.2 110.1L355.4 111.1L355.6 110.6L355.8 110.9L356 111.3L356.2 110.7L356.4 111.9L356.6 111.8L356.8 112.6L357 112.7L357.2 112.5L357.4 113.2L357.6 113.2L357.8 113.2L358.1 114.4L358.3 115.5L358.5 116.3L358.7 117.9L358.9 118.3L359.1 119L359.3 118.9L359.5 119.4L359.7 119.7L359.9 119.8L360.1 120.2L360.3 119.9L360.5 120.1L360.7 120.6L360.9 121L361.1 120.7L361.3 120.6L361.5 121.2L361.8 121.2L362 121.3L362.2 121.3L362.4 121.6L362.6 122.1L362.8 121.8L363 122.3L363.2 122.3L363.4 122.3L363.6 123.1L363.8 123L364 124.4L364.2 125.3L364.4 125.8L364.6 126.8L364.8 128.2L365 129.2L365.2 130.2L365.4 131L365.7 131.5L365.9 132.7L366.1 134.7L366.3 137L366.5 139.6L366.7 141.9L366.9 144.2L367.1 146.9L367.3 149.1L367.5 151.5L367.7 154L367.9 154.7L368.1 155.2L368.3 155.9L368.5 156.5L368.7 156.8L368.9 157.6L369.1 158.1L369.3 158.6L369.6 158.9L369.8 158.9L370 158.9L370.2 158.9L370.4 159L370.6 159.1L370.8 159.3L371 159.2L371.2 159.3L371.4 159.3L371.6 159.3L371.8 159.2L372 159.3L372.2 159.4L372.4 159.6L372.6 159.5L372.8 159.6L373 133.8L373.2 133.5L373.5 133.5L373.7 133.3L373.9 133.1L374.1 133L374.3 132.8L374.5 133.3L374.7 132.8L374.9 132.5L375.1 132.5L375.3 132.5L375.5 132.8L375.7 132.1L375.9 132.3L376.1 132.4L376.3 131.8L376.5 132.3L376.7 132L376.9 132.1L377.2 132L377.4 132.5L377.6 132.1L377.8 132.2L378 131.9L378.2 131.5L378.4 131.7L378.6 131.8L378.8 132.3L379 132L379.2 132L379.4 132.3L379.6 131.9L379.8 131.8L380 131.9L380.2 131.7L380.4 131.6L380.6 132L380.8 131.5L381.1 112.5L381.3 112.1L381.5 111.8L381.7 111.7L381.9 111.8L382.1 110.8L382.3 110.3L382.5 110.4L382.7 110.3L382.9 110.2L383.1 109.7L383.3 109.5L383.5 109.5L383.7 109.4L383.9 109.7L384.1 108.8L384.3 108.2L384.5 108.6L384.7 109L385 108.7L385.2 108.8L385.4 108.9L385.6 107.7L385.8 108L386 107.8L386.2 108.6L386.4 107.6L386.6 107.5L386.8 92.6L387 93.6L387.2 93.7L387.4 92.7L387.6 93L387.8 93.4L388 93L388.2 92.6L388.4 93.2L388.6 93.2L388.9 93L389.1 93.1L389.3 93.5L389.5 93.4L389.7 94.3L389.9 97.6L390.1 99.8L390.3 101.3L390.5 101.9L390.7 101.1L390.9 101.2L391.1 102.6L391.3 102.4L391.5 102.7L391.7 103L391.9 103.5L392.1 103.7L392.3 103.9L392.6 103.8L392.8 104.3L393 104.3L393.2 104.4L393.4 104.7L393.6 105L393.8 105.3L394 105.2L394.2 105.3L394.4 105.9L394.6 105.8L394.8 105.4L395 106.2L395.2 108.1L395.4 110.8L395.6 112.2L395.8 114.4L396 116.9L396.2 118.4L396.5 119L396.7 119.8L396.9 120.6L397.1 120.8L397.3 121.9L397.5 122.3L397.7 122.7L397.9 129.1L398.1 134.4L398.3 134.4L398.5 134.8L398.7 134.5L398.9 134.4L399.1 134.6L399.3 134.2L399.5 128.6L399.7 126L399.9 126.1L400.1 126.9L400.4 126.7L400.6 127.1L400.8 127.7L401 127.8L401.2 127.9L401.4 128.4L401.6 128.2L401.8 128.4L402 128L402.2 128.8L402.4 128.7L402.6 129.1L402.8 129.6L403 129.9L403.2 130L403.4 130.2L403.6 130L403.8 130.2L404 130.8L404.3 131L404.5 131.3L404.7 131.4L404.9 131.5L405.1 131.8L405.3 131.9L405.5 132.3L405.7 132.1L405.9 132.5L406.1 132.9L406.3 132.7L406.5 133.5L406.7 133.4L406.9 133.3L407.1 133.5L407.3 133.8L407.5 134.2L407.7 134.2L408 134.5L408.2 134.6L408.4 135.2L408.6 135.2L408.8 136L409 136.4L409.2 136.6L409.4 137L409.6 137.1L409.8 137.8L410 138.1L410.2 138.7L410.4 139.1L410.6 139.3L410.8 139.6L411 139.6L411.2 140.6L411.4 140.5L411.6 141.2L411.9 141.4L412.1 142.2L412.3 142.3L412.5 142.7L412.7 143.2L412.9 143.6L413.1 143.9L413.3 144.3L413.5 144.9L413.7 145.2L413.9 145.6L414.1 146.2L414.3 146.4L414.5 146.5L414.7 146.9L414.9 147.4L415.1 147.6L415.3 148.1L415.5 148.5L415.8 148.7L416 149L416.2 149.6L416.4 149.8L416.6 150.2L416.8 150.6L417 150.9L417.2 151.1L417.4 151.2L417.6 139.1L417.8 139.5L418 139.8L418.2 139.8L418.4 140.1L418.6 141L418.8 141.3L419 141.4L419.2 141.5L419.4 141.8L419.7 142.2L419.9 142.8L420.1 142.5L420.3 143.2L420.5 143.4L420.7 143.8L420.9 144.2L421.1 144.4L421.3 144.7L421.5 145.5L421.7 146L421.9 146.1L422.1 146.3L422.3 146.7L422.5 147.1L422.7 147.3L422.9 147.7L423.1 148.3L423.4 148.8L423.6 149L423.8 149.2L424 149.8L424.2 149.9L424.4 150.3L424.6 150.5L424.8 151.2L425 151.8L425.2 151.7L425.4 152.3L425.6 152.6L425.8 152.8L426 153.7L426.2 154.5L426.4 155.1L426.6 155.7L426.8 156.5L427 157L427.3 158L427.5 158.6L427.7 159.4L427.9 159.8L428.1 160.6L428.3 161.3L428.5 161.9L428.7 162.5L428.9 162.8L429.1 163.4L429.3 163.4L429.5 163.5L429.7 163.4L429.9 163.4L430.1 163.5L430.3 163.5L430.5 163.4L430.7 163.5L430.9 163.4L431.2 50.7L431.4 50.4L431.6 50.5L431.8 50.4L432 49.9L432.2 51L432.4 50.6L432.6 51.1L432.8 50.6L433 50.9L433.2 50.2L433.4 50L433.6 49.2L433.8 50.7L434 49.6L434.2 50.7L434.4 50.8L434.6 50.1L434.8 49.8L435.1 49.8L435.3 50.2L435.5 50.4L435.7 49.4L435.9 51L436.1 51.5L436.3 51.6L436.5 52.2L436.7 52.1L436.9 51L437.1 53.2L437.3 51.4L437.5 54.2L437.7 53.5L437.9 56.5L438.1 54.7L438.3 57L438.5 57.3L438.8 58.2L439 59.2L439.2 59L439.4 60.1L439.6 61.6L439.8 62.2L440 62.8L440.2 64.4L440.4 64.6L440.6 65.4L440.8 67.1L441 68.1L441.2 68.1L441.4 69.4L441.6 69.5L441.8 70.5L442 70.6L442.2 71.4L442.4 71.5L442.7 72.6L442.9 73.6L443.1 74.7L443.3 75.4L443.5 75.1L443.7 75.3L443.9 76L444.1 77L444.3 77.7L444.5 77.3L444.7 78L444.9 79.2L445.1 77.9L445.3 80L445.5 79.5L445.7 86.9L445.9 101.5L446.1 111.6L446.3 116.3L446.6 120.7L446.8 125L447 125.8L447.2 125.7L447.4 126.6L447.6 127.2L447.8 127.7L448 128.2L448.2 128.4L448.4 129L448.6 129.5L448.8 130L449 130L449.2 131.2L449.4 131.4L449.6 131.7L449.8 132.2L450 132.7L450.2 133L450.5 134.1L450.7 135.7L450.9 137.4L451.1 138.6L451.3 140.4L451.5 142.1L451.7 143.1L451.9 145L452.1 146.7L452.3 148.4L452.5 150.1L452.7 151.8L452.9 153.5L453.1 155.2L453.3 156.1L453.5 157L453.7 157.8L453.9 158.8L454.2 159.8L454.4 160.5L454.6 160.8L454.8 161.2L455 161.6L455.2 161.9L455.4 162.3L455.6 162.7L455.8 163.1L456 163.5L456.2 163.8L456.4 164.3L456.6 164.6L456.8 165L457 165.3L457.2 165.7L457.4 165.7L457.6 165.8L457.8 165.9L458.1 166L458.3 166.1L458.5 166.2L458.7 166.3L458.9 166.3L459.1 166.4L459.3 166.5L459.5 166.5L459.7 166.6L459.9 166.7L460.1 166.7L460.3 166.9L460.5 166.9L460.7 167L460.9 167.1L461.1 167.2L461.3 167.1L461.5 167.3L461.7 167.4L462 167.6L462.2 167.8L462.4 168L462.6 168.2L462.8 168.4L463 168.6L463.2 168.9L463.4 169.1L463.6 169.3L463.8 169.5L464 169.7L464.2 170L464.4 170.2L464.6 170.4L464.8 170.6L465 170.9L465.2 171.1L465.4 171.3L465.6 171.5L465.9 171.8L466.1 172L466.3 172.2L466.5 172.4L466.7 172.7L466.9 172.9L467.1 173.1L467.1 173.1Z" fill="url(#stripe)"/>
<polyline points="313.7,141.84 313.81,154.67 313.91,146.45 314.01,152.66 314.11,144.08 314.22,152.24 314.32,151.9 314.42,158.89 314.52,146.16 314.63,148.18 314.73,150.25 314.83,153.72 314.93,158.89 315.04,151.2 315.14,150.81 315.24,156.76 315.35,149.68 315.45,158.89 315.55,155.08 315.65,154.48 315.76,158.89 315.86,152.73 315.96,151.94 316.06,152.06 316.17,158.89 316.47,158.89 316.58,150.39 316.68,156.02 316.78,152.81 316.89,158.89 316.99,157.48 317.09,150.92 317.19,152.2 317.3,156.02 317.4,158.89 317.5,158.89 317.6,156.92 317.71,158.62 317.81,158.89 317.91,158.89 318.01,158.55 318.12,158.89 318.22,158.89 318.32,141.84 318.43,158.89 318.53,143.26 318.63,158.16 318.73,146.1 318.84,158.89 319.14,158.89 319.25,157.93 319.35,158.89 319.45,158.52 319.55,158.89 319.76,158.89 319.86,158.71 319.97,158.89 320.38,158.89 320.48,158.56 320.58,158.89 320.99,158.89 321.09,157.95 321.2,158.89 321.92,158.89 322.02,158.89 322.12,158.89 322.63,158.89 322.74,158.49 322.84,158.89 322.94,158.89 323.05,158.8 323.15,158.89 324.48,158.89 324.59,159.27 324.69,158.89 324.79,159.58 324.89,158.89 325.71,158.89 325.82,159.35 325.92,158.89 326.43,158.89 326.54,116.4 326.64,152.52 326.74,158.89 327.25,158.89 327.36,159.26 327.46,158.89 327.77,158.89 327.87,158.83 327.97,158.89 328.38,158.89 328.49,159.04 328.59,158.89 329.1,158.89 329.21,159.22 329.31,158.89 329.41,154.2 329.51,158.89 329.62,158.89 329.72,158.97 329.82,158.89 329.92,158.89 330.03,157.95 330.13,158.89 330.95,158.89 331.05,158.71 331.16,158.89 331.46,158.89 331.57,158.56 331.67,158.89 331.77,158.89 331.87,159.05 331.98,158.89 332.29,158.89 332.39,159.16 332.49,158.89 332.9,158.89 333,159.34 333.11,158.89 333.21,158.89 333.31,158.63 333.41,158.46 333.52,155.34 333.62,158.89 333.72,158.89 333.83,158.97 333.93,158.8 334.03,158.89 334.54,158.89 334.65,158.36 334.75,158.5 334.85,158.49 334.95,158.89 335.06,158.32 335.16,158.89 336.39,158.89 336.49,158.89 336.6,159.55 336.7,158.89 337.83,158.89 337.93,157.83 338.03,158.89 338.14,158.78 338.24,158.89 338.75,158.89 338.86,158.74 338.96,158.89 339.06,158.89 339.16,158.48 339.27,158.89 339.37,158.89 339.47,159.16 339.57,158.89 339.68,159 339.78,158.89 340.19,158.89 340.29,158.89 340.4,158.89 340.5,158.81 340.6,158.89 340.91,158.89 341.01,158.99 341.11,158.7 341.22,158.89 341.53,158.89 341.63,162.44 341.73,158.89 341.94,158.89 342.04,157.95 342.14,158.89 342.24,158.89 342.35,159.27 342.45,158.49 342.55,158.89 343.58,158.89 343.68,112.85 343.78,151.98 343.89,158.84 343.99,158.89 344.5,158.89 344.61,158.94 344.71,158.89 344.81,159.4 344.91,158.89 345.12,158.89 345.22,159.26 345.32,158.89 345.43,158.89 345.53,159.08 345.63,158.89 347.38,158.89 347.48,159.11 347.58,158.68 347.69,158.89 347.79,158.66 347.89,159.31 347.99,158.89 348.2,158.89 348.3,159.69 348.4,158.89 348.51,158.89 348.61,158.84 348.71,158.89 349.12,158.89 349.23,158.72 349.33,158.89 349.43,157.47 349.53,158.89 349.94,158.89 350.05,159.32 350.15,158.89 350.25,158.89 350.35,158.81 350.46,158.89 350.56,158.87 350.66,159.32 350.77,158.89 350.87,158.84 350.97,158.56 351.07,158.89 351.18,158.84 351.28,158.52 351.38,158.89 351.48,159.45 351.59,158.89 351.79,158.89 351.89,158.9 352,158.89 352.1,158.89 352.2,158.89 352.31,158.89 352.41,158.89 352.51,158.81 352.61,158.99 352.72,158.89 352.82,158.98 352.92,158.89 353.02,158.89 353.13,158.91 353.23,158.89 353.54,158.89 353.64,159.39 353.74,158.75 353.85,158.89 353.95,158.89 354.05,158.59 354.15,158.89 354.46,158.89 354.56,154.77 354.67,158.89 354.77,158.79 354.87,158.89 354.97,158.93 355.08,158.89 355.49,158.89 355.59,159.48 355.69,158.89 356.21,158.89 356.31,158.93 356.41,158.89 356.72,158.89 356.82,158.69 356.93,158.89 357.13,158.89 357.23,159.16 357.34,158.89 357.44,158.89 357.54,158.87 357.64,158.89 357.85,158.89 357.95,158.33 358.05,158.89 358.47,158.89 358.57,158.9 358.67,159 358.77,158.89 358.88,158.46 358.98,158.89 359.08,158.89 359.18,158.59 359.29,158.27 359.39,158.89 359.49,158.32 359.59,159.35 359.7,158.89 360.21,158.89 360.31,159.59 360.42,158.89 360.72,158.89 360.83,158.66 360.93,158.89 361.03,158.39 361.13,158.89 361.24,158.89 361.34,158.06 361.44,158.89 361.65,158.89 361.75,159.25 361.85,159.08 361.96,158.88 362.06,158.89 362.16,159.04 362.26,158.89 362.67,158.89 362.78,158.66 362.88,158.89 364.93,158.89 365.04,159.12 365.14,158.89 365.55,158.89 365.65,158.32 365.75,158.89 366.78,158.89 366.88,158.65 366.99,158.89 367.19,158.89 367.29,159.35 367.4,158.89 367.5,158.92 367.6,159.05 367.71,160.31 367.81,158.89 368.94,158.89 369.04,159.05 369.14,158.85 369.25,158.74 369.35,159.39 369.45,158.89 370.07,158.89 370.17,158.89 370.27,158.89 371.4,158.89 371.5,158.56 371.61,149.51 371.71,158.89 371.91,158.89 372.02,159.32 372.12,158.89 372.43,158.89 372.53,158.68 372.63,158.89 372.84,158.89 372.94,158.49 373.04,158.89 373.15,158.86 373.25,159.34 373.35,158.89 373.45,158.78 373.56,149.51 373.66,158.66 373.76,158.89 373.87,158.89 373.97,158.35 374.07,159.28 374.17,158.89 374.28,158.89 374.38,158.69 374.48,158.89 374.58,159.18 374.69,158.95 374.79,158.89 375.51,158.89 375.61,159.2 375.71,158.89 375.92,158.89 376.02,159.26 376.12,158.89 376.23,158.89 376.33,158.73 376.43,158.89 376.74,158.89 376.84,159 376.95,158.89 377.05,158.89 377.15,158.96 377.25,158.89 377.36,159.27 377.46,158.89 378.18,158.89 378.28,159.27 378.38,159.52 378.49,158.89 379.2,158.89 379.31,159.27 379.41,158.89 379.61,158.89 379.72,158.76 379.82,158.89 380.13,158.89 380.23,159.33 380.33,158.89 380.44,159.04 380.54,158.78 380.64,159.03 380.74,158.89 380.95,158.89 381.05,154.91 381.15,158.89 381.98,158.89 382.08,158.43 382.18,158.64 382.28,158.89 383.21,158.89 383.31,158.97 383.41,158.67 383.52,158.89 383.93,158.89 384.03,159.36 384.13,158.89 384.44,158.89 384.54,158.88 384.65,159.29 384.75,158.89 384.85,159.52 384.95,158.89 385.06,158.93 385.16,158.99 385.26,158.89 385.47,158.89 385.57,158.46 385.67,158.89 385.77,158.79 385.88,158.89 385.98,158.89 386.08,158.8 386.19,158.89 386.49,158.89 386.6,155.34 386.7,158.89 386.8,158.96 386.9,158.89 387.83,158.89 387.93,158.76 388.03,158.89 388.55,158.89 388.65,158.52 388.75,158.89 388.85,158.89 388.96,158.36 389.06,158.89 389.27,158.89 389.37,159.03 389.47,159.03 389.57,158.89 390.29,158.89 390.39,158.39 390.5,158.89 390.6,158.89 390.7,158.88 390.81,158.34 390.91,158.89 391.01,158.89 391.11,158.89 391.32,158.89 391.42,158.56 391.52,158.48 391.63,158.89 391.83,158.89 391.93,158.91 392.04,158.89 392.14,158.85 392.24,158.89 393.47,158.89 393.58,159.13 393.68,158.89 394.19,158.89 394.3,158.68 394.4,156.33 394.5,156.76 394.6,158.89 394.71,158.89 394.81,158.97 394.91,158.89 395.01,158.89 395.12,158.33 395.22,159.11 395.32,158.89 395.63,158.89 395.73,158.8 395.84,158.89 395.94,158.89 396.04,159.7 396.14,158.89 396.45,158.89 396.55,158.86 396.66,158.89 396.76,159.39 396.86,158.89 397.58,158.89 397.68,158.55 397.79,158.89 398.2,158.89 398.3,158.17 398.4,158.89 398.61,158.89 398.71,159.19 398.81,158.89 399.22,158.89 399.33,155.76 399.43,158.89 399.53,158.89 399.63,158.67 399.74,159.06 399.84,159.26 399.94,158.89 400.25,158.89 400.35,158.62 400.46,158.89 400.66,158.89 400.76,158.82 400.87,159.07 400.97,158.89 401.59,158.89 401.69,158.99 401.79,158.89 401.89,158.89 402,158.54 402.1,158.89 402.61,158.89 402.71,158.71 402.82,158.89 402.92,158.41 403.02,158.89 403.13,158.89 403.23,158.89 403.43,158.89 403.54,159.06 403.64,158.76 403.74,158.89 404.15,158.89 404.25,158.98 404.36,158.89 404.46,159.59 404.56,158.89 404.67,158.78 404.77,158.74 404.87,158.89 404.97,158.89 405.08,158.56 405.18,158.89 405.28,158.89 405.38,159.14 405.49,158.55 405.59,158.89 406.31,158.89 406.41,158.8 406.51,158.89 406.92,158.89 407.03,159.03 407.13,158.89 407.23,158.89 407.33,159.16 407.44,158.89 408.36,158.89 408.46,158.8 408.57,158.89 408.67,158.99 408.77,158.89 408.87,159.05 408.98,158.33 409.08,158.89 409.7,158.89 409.8,158.34 409.9,158.89 410.31,158.89 410.41,159.22 410.52,159.15 410.62,158.89 410.72,158.13 410.83,158.89 411.24,158.89 411.34,158.89 411.44,159.17 411.54,158.89 411.65,158.89 411.75,159.06 411.85,158.89 412.06,158.89 412.16,158.74 412.26,158.89 413.39,158.89 413.49,159.23 413.6,158.89 413.7,158.89 413.8,158.75 413.91,158.89 414.01,159.03 414.11,158.89 414.42,158.89 414.52,158.66 414.62,158.89 414.93,158.89 415.03,158.61 415.14,159.2 415.24,158.89 415.34,158.91 415.45,158.89 415.55,158.5 415.65,158.89 415.75,158.5 415.86,158.89 415.96,158.89 416.06,158.51 416.16,158.98 416.27,158.89 417.19,158.89 417.29,159.23 417.4,148.94 417.5,158.89 417.6,159.65 417.7,158.89 418.01,158.89 418.11,158.53 418.22,159.19 418.32,158.89 418.53,158.89 418.63,158.45 418.73,158.61 418.83,159.23 418.94,158.89 419.65,158.89 419.76,158.7 419.86,158.89 419.96,158.89 420.07,158.97 420.17,158.89 420.27,159.11 420.37,158.74 420.48,158.89 420.68,158.89 420.78,157.98 420.89,158.89 420.99,158.89 421.09,158.14 421.19,158.44 421.3,158.89 421.4,158.95 421.5,158.89 421.61,158.75 421.71,158.89 422.02,158.89 422.12,158.44 422.22,158.43 422.32,159.15 422.43,158.89 422.53,158.89 422.63,159.2 422.73,158.89 423.25,158.89 423.35,158.73 423.45,158.89 424.07,158.89 424.17,158.68 424.27,158.84 424.38,158.89 424.48,158.89 424.58,158.69 424.69,158.89 424.79,158.86 424.89,159.2 424.99,158.89 425.1,158.89 425.2,158.79 425.3,158.89 426.64,158.89 426.74,158.78 426.84,159.35 426.94,158.89 427.05,159.35 427.15,158.89 427.25,162.44 427.35,158.89 427.56,158.89 427.66,158.82 427.77,158.89 427.87,158.87 427.97,158.89 428.07,159.61 428.18,158.89 428.79,158.89 428.89,159.07 429,158.89 429.2,158.89 429.31,158.86 429.41,158.89 429.92,158.89 430.02,159.12 430.13,158.59 430.23,158.89 430.64,158.89 430.74,127.63 430.85,154.2 430.95,158.88 431.05,117.54 431.15,152.69 431.26,158.39 431.36,158.89 431.46,158.89 431.56,158.69 431.67,158.89 432.08,158.89 432.18,158.69 432.28,158.89 432.8,158.89 432.9,158.8 433,159.17 433.1,158.89 433.21,158.32 433.31,158.89 433.41,158.76 433.51,158.89 433.62,158.48 433.72,158.89 434.44,158.89 434.54,159.28 434.64,158.89 435.05,158.89 435.16,158.88 435.26,159.36 435.36,159.09 435.47,158.82 435.57,158.89 435.67,158.89 435.77,158.89 435.88,158.89 436.18,158.89 436.29,158.68 436.39,159.43 436.49,158.89 437.93,158.89 438.03,158.56 438.13,158.89 438.24,159.38 438.34,159.09 438.44,158.89 438.65,158.89 438.75,159.16 438.85,159.19 438.96,158.89 440.7,158.89 440.8,158.97 440.91,158.89 441.01,158.24 441.11,159.26 441.21,158.8 441.32,158.89 442.14,158.89 442.24,159.24 442.34,158.89 442.55,158.89 442.65,158.89 442.75,158.89 443.17,158.89 443.27,158.62 443.37,158.89 443.47,158.89 443.58,159.37 443.68,158.89 444.19,158.89 444.29,158.45 444.4,158.5 444.5,158.99 444.6,158.89 444.81,158.89 444.91,159.34 445.01,158.89 445.12,158.92 445.22,158.89 445.32,158.89 445.42,159.19 445.53,158.79 445.63,158.89 445.94,158.89 446.04,161.45 446.14,158.89 446.25,158.89 446.35,158.77 446.45,158.89 446.76,158.89 446.86,158.9 446.96,158.89 447.17,158.89 447.27,159.71 447.37,158.89 447.68,158.89 447.79,158.68 447.89,158.89 448.3,158.89 448.4,158.79 448.5,158.44 448.61,159.28 448.71,158.97 448.81,158.97 448.91,158.89 449.22,158.89 449.33,159.14 449.43,159.66 449.53,158.89 449.63,159.06 449.74,158.89 449.84,158.89 449.94,159.14 450.04,159.36 450.15,158.89 450.25,158.67 450.35,158.89 450.45,158.89 450.56,158.89 450.66,158.89 450.97,158.89 451.07,159.07 451.17,158.89 451.48,158.89 451.58,159.15 451.69,158.89 452.1,158.89 452.2,158.84 452.3,158.89 452.41,158.89 452.51,159.56 452.61,158.89 452.71,158.47 452.82,158.89 453.02,158.89 453.12,158.79 453.23,158.89 453.43,158.89 453.53,158.74 453.64,158.84 453.74,158.89 453.84,160.52 453.95,159.15 454.05,158.89 454.15,158.89 454.25,158.99 454.36,161.01 454.46,160.68 454.56,158.89 454.87,158.89 454.97,158.52 455.07,158.89 455.28,158.89 455.38,159.87 455.49,158.89 455.59,158.89 455.69,160.32 455.79,159.49 455.9,158.89 456,158.89 456.1,159.51 456.2,158.89 456.51,158.89 456.61,159.5 456.72,158.89 456.82,158.85 456.92,158.89 457.03,158.83 457.13,158.89 457.23,158.89 457.33,160.88 457.44,158.89 457.74,158.89 457.85,158.92 457.95,160.72 458.05,158.11 458.15,159.02 458.26,158.89 458.36,160.19 458.46,158.89 458.98,158.89 459.08,160.75 459.18,158.89 459.28,158.95 459.39,160.89 459.49,158.89 459.59,158.88 459.69,159.69 459.8,158.89 459.9,158.72 460,159.14 460.11,159.4 460.21,158.89 460.31,159.22 460.41,158.86 460.52,158.89 460.62,158.89 460.72,159.97 460.82,158.89 461.03,158.89 461.13,159.08 461.23,159.01 461.34,158.89 461.54,158.89 461.65,159.02 461.75,158.89 461.95,158.89 462.06,159.69 462.16,158.45 462.26,159.03 462.36,158.91 462.47,158.89 462.67,158.89 462.77,159.24 462.88,158.89 462.98,158.89 463.08,159.71 463.19,159.18 463.29,158.89 463.9,158.89 464.01,159.16 464.11,158.89 464.42,158.89 464.52,158.75 464.62,160.99 464.73,158.89 464.83,158.89 464.93,160.95 465.03,159.62 465.14,158.78 465.24,158.89 465.34,158.89 465.44,159.06 465.55,159.17 465.65,158.89 465.75,160.49 465.85,158.89 465.96,159.65 466.06,162.26 466.16,162.62 466.27,158.61 466.37,160.93 466.47,159.81 466.57,161.62 466.68,163.07 466.78,162.3 466.88,158.89 466.98,159.7 467.09,162.23 467.19,162.33 467.29,162.13 467.39,161.25 467.5,160.89 467.6,165.86 467.7,165.81 467.81,165.77 467.91,160.37 468.01,162.23 468.11,160.22 468.22,165.07 468.32,164.8 468.42,163.52 468.52,164.76 468.63,164.2 468.73,160.51 468.83,165.94 468.93,164.44 469.04,165.56 469.14,158.89 469.24,158.3 469.35,158.89 469.65,158.89 469.76,158.91 469.86,158.89 469.96,158.89 470.06,158.94 470.17,158.89 470.37,158.89 470.47,157.99 470.58,158.89 471.09,158.89" fill="none" stroke="#FF0000" stroke-width="0.75" stroke-linejoin="miter" stroke-miterlimit="2"/>
<path d="M313.7 158.89H471.09" fill="none" stroke="#FF0000" stroke-width="1.0"/>
<path d="M305.7 23.2V173.1H479.6V23.2M305.7 173.1h-1.9M305.7 137.57h-1.9M305.7 102.05h-1.9M305.7 66.52h-1.9M305.7 31h-1.9M479.6 173.1h1.9M479.6 137.57h1.9M479.6 102.05h1.9M479.6 66.53h1.9M479.6 31h1.9M313.6 173.1v1.9M364.93 173.1v1.9M416.27 173.1v1.9M467.6 173.1v1.9" fill="none" stroke="#333333" stroke-width="1"/>
<g font-size="10.8" fill="#4D4D4D"><text x="302.6" y="177.6" text-anchor="end">0</text><text x="302.6" y="142.07" text-anchor="end">500</text><text x="302.6" y="106.55" text-anchor="end">1000</text><text x="302.6" y="71.02" text-anchor="end">1500</text><text x="302.6" y="35.5" text-anchor="end">2000</text><text x="482.6" y="177.6">0.0</text><text x="482.6" y="142.07">2.5</text><text x="482.6" y="106.55">5.0</text><text x="482.6" y="71.03">7.5</text><text x="482.6" y="35.5">10.0</text><text x="313.6" y="184.1" text-anchor="middle">0</text><text x="364.93" y="184.1" text-anchor="middle">500</text><text x="416.27" y="184.1" text-anchor="middle">1000</text><text x="467.6" y="184.1" text-anchor="middle">1500</text></g>
<text x="363.36" y="15.9" font-size="14.2">L1500-1</text>
<text x="392.65" y="197.8" font-size="14.0" text-anchor="middle">Position</text>
<text transform="translate(274.2 100.35) rotate(-90)" font-size="14.0" text-anchor="middle">Coverage (-)</text>
<text transform="translate(505.1 98.45) rotate(90)" font-size="14.0" text-anchor="middle">RCI (-)</text>
</g>
<g>
<path d="M574.7 173.1L574.7 173.1L574.9 173L575.1 173L575.3 172.9L575.5 172.9L575.7 172.8L575.9 172.8L576.1 172.7L576.4 172.7L576.6 172.6L576.8 172.5L577 172.5L577.2 172.4L577.4 172.4L577.6 172.3L577.8 172.3L578 172.2L578.2 172.2L578.4 172.1L578.6 172L578.8 172L579 171.9L579.2 171.9L579.4 171.8L579.6 171.8L579.9 171.7L580.1 170.3L580.3 167.4L580.5 164.5L580.7 164L580.9 163.5L581.1 162.9L581.3 162.3L581.5 161.7L581.7 161.3L581.9 160.8L582.1 160.3L582.3 159.8L582.5 159.9L582.7 159.9L582.9 159.8L583.2 159.9L583.4 159.8L583.6 159.8L583.8 159.7L584 159.7L584.2 159.6L584.4 159.7L584.6 159.7L584.8 159.6L585 159.5L585.2 129.4L585.4 129.5L585.6 129.1L585.8 129.2L586 129.1L586.2 129.4L586.4 128.9L586.7 129.4L586.9 128.8L587.1 129.2L587.3 129.1L587.5 129.2L587.7 129.6L587.9 129.5L588.1 129.4L588.3 129.2L588.5 129.1L588.7 129.2L588.9 129.2L589.1 128.9L589.3 128.8L589.5 129L589.7 129.3L590 129.2L590.2 121.3L590.4 122.1L590.6 122L590.8 121.7L591 121.7L591.2 121.9L591.4 121.9L591.6 121.9L591.8 122.2L592 122.3L592.2 121.8L592.4 121.9L592.6 122L592.8 122.5L593 122.3L593.2 122.2L593.5 122.9L593.7 123L593.9 123L594.1 124.1L594.3 124.4L594.5 124.8L594.7 125.3L594.9 125.5L595.1 126.1L595.3 126.3L595.5 126.8L595.7 126.9L595.9 127.4L596.1 128.1L596.3 128.4L596.5 128.7L596.7 129.2L597 130.5L597.2 130.5L597.4 131.1L597.6 131.5L597.8 132.1L598 132.7L598.2 133.4L598.4 133.5L598.6 133.9L598.8 134.7L599 135.1L599.2 135.8L599.4 136.3L599.6 136.6L599.8 137.4L600 138.4L600.2 138.9L600.5 139.6L600.7 140.5L600.9 141.2L601.1 141.5L601.3 141.7L601.5 126L601.7 126.2L601.9 126.6L602.1 127.7L602.3 128.2L602.5 129L602.7 129.1L602.9 129.8L603.1 130.3L603.3 130.6L603.5 131.4L603.8 132.6L604 132.3L604.2 133L604.4 133.8L604.6 134L604.8 134.3L605 134.9L605.2 135.4L605.4 135.8L605.6 136.6L605.8 137.3L606 137.7L606.2 138.7L606.4 140.1L606.6 140.5L606.8 141.9L607 142.4L607.3 143.5L607.5 144.5L607.7 145.4L607.9 146.6L608.1 147.6L608.3 148.3L608.5 149.3L608.7 150.3L608.9 151.3L609.1 152.3L609.3 153.2L609.5 154.1L609.7 155.4L609.9 156.5L610.1 157.6L610.3 158.9L610.5 160L610.8 161.1L611 161.1L611.2 160.9L611.4 160.9L611.6 160.8L611.8 160.8L612 160.6L612.2 160.7L612.4 160.7L612.6 160.6L612.8 160.4L613 160.4L613.2 160.4L613.4 160.3L613.6 160.3L613.8 160.2L614.1 160.3L614.3 160.2L614.5 160.2L614.7 160.2L614.9 160.3L615.1 160.2L615.3 160.2L615.5 160L615.7 160.1L615.9 160L616.1 160L616.3 160L616.5 149.5L616.7 149.6L616.9 149.5L617.1 149.5L617.3 149.6L617.6 149.6L617.8 149.5L618 149.8L618.2 149.3L618.4 149.3L618.6 149.5L618.8 149.6L619 149.5L619.2 149.4L619.4 149.4L619.6 149.7L619.8 149.5L620 149.5L620.2 149.4L620.4 149.6L620.6 149.5L620.9 149.6L621.1 149.6L621.3 149.8L621.5 150.2L621.7 150.6L621.9 151.4L622.1 151.9L622.3 152.3L622.5 152.7L622.7 153.3L622.9 153.6L623.1 154.5L623.3 154.7L623.5 155.2L623.7 155.8L623.9 156.2L624.1 156.4L624.4 156.7L624.6 156.8L624.8 156.9L625 157.1L625.2 157L625.4 157.2L625.6 157.4L625.8 157.5L626 157.5L626.2 157.8L626.4 157.8L626.6 157.8L626.8 158L627 158L627.2 158L627.4 158.2L627.6 158.1L627.9 158.2L628.1 158.3L628.3 158.2L628.5 158.3L628.7 158.3L628.9 158.4L629.1 158.3L629.3 158.5L629.5 158.5L629.7 158.7L629.9 158.6L630.1 158.7L630.3 158.7L630.5 158.8L630.7 158.8L630.9 158.8L631.1 158.9L631.4 159L631.6 158.9L631.8 147.3L632 147.2L632.2 147.1L632.4 147L632.6 146.9L632.8 146.7L633 147.1L633.2 146.9L633.4 146.8L633.6 146.9L633.8 146.7L634 111.1L634.2 110.6L634.4 110L634.7 110.9L634.9 111L635.1 110.6L635.3 110.7L635.5 110.5L635.7 110.6L635.9 111L636.1 110.6L636.3 111.8L636.5 111.5L636.7 111.2L636.9 111.8L637.1 111.9L637.3 111.9L637.5 112.3L637.7 112.5L637.9 112.7L638.2 113.1L638.4 113.2L638.6 112.9L638.8 113.8L639 113.7L639.2 114L639.4 113.9L639.6 114.3L639.8 114.2L640 114.8L640.2 114.7L640.4 115.3L640.6 115.4L640.8 115.2L641 115.3L641.2 115.1L641.5 116L641.7 116L641.9 116.4L642.1 116.6L642.3 117L642.5 117L642.7 117.2L642.9 117.1L643.1 117.5L643.3 117.7L643.5 118.8L643.7 119L643.9 119.6L644.1 120.1L644.3 120.4L644.5 121L644.7 121.8L645 122.7L645.2 122.7L645.4 123.5L645.6 124L645.8 124.4L646 124.9L646.2 126L646.4 127.1L646.6 127.9L646.8 129.5L647 130.4L647.2 131.4L647.4 133.1L647.6 134L647.8 135.5L648 136.5L648.2 137.8L648.5 139L648.7 139.4L648.9 139.7L649.1 140.1L649.3 140.5L649.5 140.4L649.7 141.1L649.9 141.1L650.1 141.7L650.3 92.5L650.5 92.1L650.7 92.2L650.9 93.1L651.1 92.9L651.3 93.1L651.5 92L651.8 92.7L652 92.5L652.2 93.2L652.4 92.3L652.6 93.2L652.8 92.3L653 93.7L653.2 93.9L653.4 94.5L653.6 95.9L653.8 96.6L654 97.5L654.2 97.5L654.4 98.4L654.6 99.7L654.8 100.8L655 101.5L655.3 101.8L655.5 102.9L655.7 103.3L655.9 103.5L656.1 103.6L656.3 105.1L656.5 106.1L656.7 106L656.9 107.1L657.1 107.3L657.3 107.6L657.5 108.1L657.7 108.5L657.9 108.8L658.1 109.6L658.3 110.7L658.5 110.7L658.8 111.2L659 111.9L659.2 111.6L659.4 112.5L659.6 113L659.8 113.4L660 113.7L660.2 114L660.4 114.7L660.6 114.7L660.8 115.1L661 115.7L661.2 115.9L661.4 116.2L661.6 116.6L661.8 117.4L662 117.6L662.3 117.7L662.5 118.1L662.7 118.9L662.9 119.5L663.1 119.5L663.3 120.1L663.5 120.3L663.7 121.1L663.9 122.2L664.1 123.3L664.3 124.3L664.5 124.9L664.7 126.9L664.9 128L665.1 128.8L665.3 129.9L665.6 130.6L665.8 132.6L666 133.1L666.2 134.1L666.4 134.9L666.6 136.2L666.8 136.7L667 137.5L667.2 138.7L667.4 139.1L667.6 140.4L667.8 141.2L668 142L668.2 142.9L668.4 144.1L668.6 144.7L668.8 145.5L669.1 146.4L669.3 147.4L669.5 148.2L669.7 149.2L669.9 149.9L670.1 150.7L670.3 151.4L670.5 152.5L670.7 153.3L670.9 154.3L671.1 155.1L671.3 155.8L671.5 156.7L671.7 157.7L671.9 157.9L672.1 158.3L672.4 158.5L672.6 158.8L672.8 97.8L673 98.4L673.2 98.1L673.4 97.9L673.6 98.3L673.8 98.5L674 98.8L674.2 99.1L674.4 98.7L674.6 99.2L674.8 99.3L675 99.7L675.2 99L675.4 99.7L675.6 100L675.9 99.6L676.1 100.3L676.3 99.4L676.5 99.8L676.7 100.4L676.9 100.8L677.1 101L677.3 100.9L677.5 100.7L677.7 101.3L677.9 101.2L678.1 101.8L678.3 101.4L678.5 102.1L678.7 101.9L678.9 102.3L679.1 102.4L679.4 102.1L679.6 102.1L679.8 102.6L680 101.9L680.2 102.9L680.4 103.1L680.6 102.8L680.8 103.5L681 103.8L681.2 103.4L681.4 104L681.6 103.5L681.8 103.9L682 104.1L682.2 104.2L682.4 105.3L682.6 106L682.9 106.5L683.1 107L683.3 108.1L683.5 108.3L683.7 109L683.9 109.7L684.1 110.3L684.3 110.2L684.5 109.9L684.7 110L684.9 110.2L685.1 109.6L685.3 53.3L685.5 54.4L685.7 55.6L685.9 57.6L686.2 58.5L686.4 60.3L686.6 61L686.8 63.9L687 63.6L687.2 65L687.4 68.2L687.6 67L687.8 68.3L688 71.2L688.2 73L688.4 73.2L688.6 75.6L688.8 77.7L689 79.1L689.2 80.4L689.4 80.9L689.7 82.6L689.9 82.9L690.1 82.8L690.3 82.7L690.5 83.6L690.7 82.4L690.9 83.5L691.1 83.8L691.3 83.8L691.5 83.8L691.7 84.3L691.9 83.5L692.1 84.8L692.3 83.4L692.5 84.5L692.7 87.1L693 86.7L693.2 87.4L693.4 89.3L693.6 89.6L693.8 91.1L694 91.5L694.2 94.2L694.4 97L694.6 99.8L694.8 103.2L695 105.6L695.2 107.8L695.4 109L695.6 110.1L695.8 111.3L696 112.4L696.2 113.7L696.5 114.3L696.7 115.4L696.9 116.6L697.1 117.8L697.3 119.1L697.5 120.4L697.7 121L697.9 121.8L698.1 122.5L698.3 122.2L698.5 123.4L698.7 123.3L698.9 124.4L699.1 124.8L699.3 125.8L699.5 125.7L699.7 126.3L700 127.2L700.2 127.6L700.4 128.1L700.6 128.3L700.8 129L701 129.7L701.2 130L701.4 130.9L701.6 131.1L701.8 131.8L702 132.8L702.2 134.1L702.4 134.8L702.6 136.1L702.8 136.9L703 138.1L703.2 139.6L703.5 140.3L703.7 141.4L703.9 141.4L704.1 142L704.3 134.2L704.5 135.1L704.7 135.5L704.9 136.8L705.1 137L705.3 138.8L705.5 139.6L705.7 140.6L705.9 141.6L706.1 142.2L706.3 143.4L706.5 144.1L706.8 145L707 146.2L707.2 147.1L707.4 147.3L707.6 147.6L707.8 147.7L708 148.2L708.2 148.3L708.4 148.8L708.6 148.9L708.8 149.1L709 149.5L709.2 149.7L709.4 149.8L709.6 150.1L709.8 150.1L710 150.7L710.3 150.9L710.5 150.9L710.7 151L710.9 151.3L711.1 151.3L711.3 151.6L711.5 151.7L711.7 151.7L711.9 152L712.1 152.2L712.3 152.3L712.5 152.4L712.7 152.3L712.9 152.6L713.1 152.8L713.3 153L713.5 153.1L713.8 153.2L714 153.4L714.2 153.4L714.4 153.6L714.6 153.9L714.8 154L715 154L715.2 154.1L715.4 154.4L715.6 154.5L715.8 154.7L716 154.9L716.2 155.3L716.4 155.6L716.6 156.1L716.8 156.4L717.1 156.7L717.3 157.1L717.5 157.5L717.7 157.8L717.9 158.3L718.1 158.6L718.3 158.9L718.5 159.2L718.7 159.3L718.9 159.5L719.1 159.7L719.3 159.9L719.5 160.2L719.7 160.3L719.9 160.6L720.1 160.8L720.3 160.9L720.6 161.2L720.8 161.3L721 161.5L721.2 161.8L721.4 162L721.6 162.2L721.8 162.4L722 162.7L722.2 162.9L722.4 163L722.6 163.2L722.8 163.4L723 163.6L723.2 164L723.4 164.2L723.6 164.6L723.9 164.8L724.1 165.1L724.3 165.4L724.5 165.7L724.7 165.9L724.9 166.2L725.1 166.5L725.3 166.7L725.5 167L725.7 167.4L725.9 167.5L726.1 167.9L726.3 168.1L726.5 168.5L726.7 168.9L726.9 169.1L727.1 169.6L727.4 169.9L727.6 170.3L727.8 170.6L728 171L728.2 171.3L728.4 171.7L728.6 172L728.8 172.4L729 172.7L729.2 173.1L729.2 173.1Z" fill="#1FACFE"/>
<path d="M574.7 173.1L574.7 173.1L574.9 173L575.1 173L575.3 172.9L575.5 172.9L575.7 172.8L575.9 172.8L576.1 172.7L576.4 172.7L576.6 172.6L576.8 172.5L577 172.5L577.2 172.4L577.4 172.4L577.6 172.3L577.8 172.3L578 172.2L578.2 172.2L578.4 172.1L578.6 172L578.8 172L579 171.9L579.2 171.9L579.4 171.8L579.6 171.8L579.9 171.7L580.1 170.3L580.3 167.4L580.5 164.5L580.7 164L580.9 163.5L581.1 162.9L581.3 162.3L581.5 161.7L581.7 161.3L581.9 160.8L582.1 160.3L582.3 159.8L582.5 159.9L582.7 159.9L582.9 159.8L583.2 159.9L583.4 159.8L583.6 159.8L583.8 159.7L584 159.7L584.2 159.6L584.4 159.7L584.6 159.7L584.8 159.6L585 159.5L585.2 129.4L585.4 129.5L585.6 129.1L585.8 129.2L586 129.1L586.2 129.4L586.4 128.9L586.7 129.4L586.9 128.8L587.1 129.2L587.3 129.1L587.5 129.2L587.7 129.6L587.9 129.5L588.1 129.4L588.3 129.2L588.5 129.1L588.7 129.2L588.9 129.2L589.1 128.9L589.3 128.8L589.5 129L589.7 129.3L590 129.2L590.2 121.3L590.4 122.1L590.6 122L590.8 121.7L591 121.7L591.2 121.9L591.4 121.9L591.6 121.9L591.8 122.2L592 122.3L592.2 121.8L592.4 121.9L592.6 122L592.8 122.5L593 122.3L593.2 122.2L593.5 122.9L593.7 123L593.9 123L594.1 124.1L594.3 124.4L594.5 124.8L594.7 125.3L594.9 125.5L595.1 126.1L595.3 126.3L595.5 126.8L595.7 126.9L595.9 127.4L596.1 128.1L596.3 128.4L596.5 128.7L596.7 129.2L597 130.5L597.2 130.5L597.4 131.1L597.6 131.5L597.8 132.1L598 132.7L598.2 133.4L598.4 133.5L598.6 133.9L598.8 134.7L599 135.1L599.2 135.8L599.4 136.3L599.6 136.6L599.8 137.4L600 138.4L600.2 138.9L600.5 139.6L600.7 140.5L600.9 141.2L601.1 141.5L601.3 141.7L601.5 126L601.7 126.2L601.9 126.6L602.1 127.7L602.3 128.2L602.5 129L602.7 129.1L602.9 129.8L603.1 130.3L603.3 130.6L603.5 131.4L603.8 132.6L604 132.3L604.2 133L604.4 133.8L604.6 134L604.8 134.3L605 134.9L605.2 135.4L605.4 135.8L605.6 136.6L605.8 137.3L606 137.7L606.2 138.7L606.4 140.1L606.6 140.5L606.8 141.9L607 142.4L607.3 143.5L607.5 144.5L607.7 145.4L607.9 146.6L608.1 147.6L608.3 148.3L608.5 149.3L608.7 150.3L608.9 151.3L609.1 152.3L609.3 153.2L609.5 154.1L609.7 155.4L609.9 156.5L610.1 157.6L610.3 158.9L610.5 160L610.8 161.1L611 161.1L611.2 160.9L611.4 160.9L611.6 160.8L611.8 160.8L612 160.6L612.2 160.7L612.4 160.7L612.6 160.6L612.8 160.4L613 160.4L613.2 160.4L613.4 160.3L613.6 160.3L613.8 160.2L614.1 160.3L614.3 160.2L614.5 160.2L614.7 160.2L614.9 160.3L615.1 160.2L615.3 160.2L615.5 160L615.7 160.1L615.9 160L616.1 160L616.3 160L616.5 149.5L616.7 149.6L616.9 149.5L617.1 149.5L617.3 149.6L617.6 149.6L617.8 149.5L618 149.8L618.2 149.3L618.4 149.3L618.6 149.5L618.8 149.6L619 149.5L619.2 149.4L619.4 149.4L619.6 149.7L619.8 149.5L620 149.5L620.2 149.4L620.4 149.6L620.6 149.5L620.9 149.6L621.1 149.6L621.3 149.8L621.5 150.2L621.7 150.6L621.9 151.4L622.1 151.9L622.3 152.3L622.5 152.7L622.7 153.3L622.9 153.6L623.1 154.5L623.3 154.7L623.5 155.2L623.7 155.8L623.9 156.2L624.1 156.4L624.4 156.7L624.6 156.8L624.8 156.9L625 157.1L625.2 157L625.4 157.2L625.6 157.4L625.8 157.5L626 157.5L626.2 157.8L626.4 157.8L626.6 157.8L626.8 158L627 158L627.2 158L627.4 158.2L627.6 158.1L627.9 158.2L628.1 158.3L628.3 158.2L628.5 158.3L628.7 158.3L628.9 158.4L629.1 158.3L629.3 158.5L629.5 158.5L629.7 158.7L629.9 158.6L630.1 158.7L630.3 158.7L630.5 158.8L630.7 158.8L630.9 158.8L631.1 158.9L631.4 159L631.6 158.9L631.8 147.3L632 147.2L632.2 147.1L632.4 147L632.6 146.9L632.8 146.7L633 147.1L633.2 146.9L633.4 146.8L633.6 146.9L633.8 146.7L634 111.1L634.2 110.6L634.4 110L634.7 110.9L634.9 111L635.1 110.6L635.3 110.7L635.5 110.5L635.7 110.6L635.9 111L636.1 110.6L636.3 111.8L636.5 111.5L636.7 111.2L636.9 111.8L637.1 111.9L637.3 111.9L637.5 112.3L637.7 112.5L637.9 112.7L638.2 113.1L638.4 113.2L638.6 112.9L638.8 113.8L639 113.7L639.2 114L639.4 113.9L639.6 114.3L639.8 114.2L640 114.8L640.2 114.7L640.4 115.3L640.6 115.4L640.8 115.2L641 115.3L641.2 115.1L641.5 116L641.7 116L641.9 116.4L642.1 116.6L642.3 117L642.5 117L642.7 117.2L642.9 117.1L643.1 117.5L643.3 117.7L643.5 118.8L643.7 119L643.9 119.6L644.1 120.1L644.3 120.4L644.5 121L644.7 121.8L645 122.7L645.2 122.7L645.4 123.5L645.6 124L645.8 124.4L646 124.9L646.2 126L646.4 127.1L646.6 127.9L646.8 129.5L647 130.4L647.2 131.4L647.4 133.1L647.6 134L647.8 135.5L648 136.5L648.2 137.8L648.5 139L648.7 139.4L648.9 139.7L649.1 140.1L649.3 140.5L649.5 140.4L649.7 141.1L649.9 141.1L650.1 141.7L650.3 92.5L650.5 92.1L650.7 92.2L650.9 93.1L651.1 92.9L651.3 93.1L651.5 92L651.8 92.7L652 92.5L652.2 93.2L652.4 92.3L652.6 93.2L652.8 92.3L653 93.7L653.2 93.9L653.4 94.5L653.6 95.9L653.8 96.6L654 97.5L654.2 97.5L654.4 98.4L654.6 99.7L654.8 100.8L655 101.5L655.3 101.8L655.5 102.9L655.7 103.3L655.9 103.5L656.1 103.6L656.3 105.1L656.5 106.1L656.7 106L656.9 107.1L657.1 107.3L657.3 107.6L657.5 108.1L657.7 108.5L657.9 108.8L658.1 109.6L658.3 110.7L658.5 110.7L658.8 111.2L659 111.9L659.2 111.6L659.4 112.5L659.6 113L659.8 113.4L660 113.7L660.2 114L660.4 114.7L660.6 114.7L660.8 115.1L661 115.7L661.2 115.9L661.4 116.2L661.6 116.6L661.8 117.4L662 117.6L662.3 117.7L662.5 118.1L662.7 118.9L662.9 119.5L663.1 119.5L663.3 120.1L663.5 120.3L663.7 121.1L663.9 122.2L664.1 123.3L664.3 124.3L664.5 124.9L664.7 126.9L664.9 128L665.1 128.8L665.3 129.9L665.6 130.6L665.8 132.6L666 133.1L666.2 134.1L666.4 134.9L666.6 136.2L666.8 136.7L667 137.5L667.2 138.7L667.4 139.1L667.6 140.4L667.8 141.2L668 142L668.2 142.9L668.4 144.1L668.6 144.7L668.8 145.5L669.1 146.4L669.3 147.4L669.5 148.2L669.7 149.2L669.9 149.9L670.1 150.7L670.3 151.4L670.5 152.5L670.7 153.3L670.9 154.3L671.1 155.1L671.3 155.8L671.5 156.7L671.7 157.7L671.9 157.9L672.1 158.3L672.4 158.5L672.6 158.8L672.8 97.8L673 98.4L673.2 98.1L673.4 97.9L673.6 98.3L673.8 98.5L674 98.8L674.2 99.1L674.4 98.7L674.6 99.2L674.8 99.3L675 99.7L675.2 99L675.4 99.7L675.6 100L675.9 99.6L676.1 100.3L676.3 99.4L676.5 99.8L676.7 100.4L676.9 100.8L677.1 101L677.3 100.9L677.5 100.7L677.7 101.3L677.9 101.2L678.1 101.8L678.3 101.4L678.5 102.1L678.7 101.9L678.9 102.3L679.1 102.4L679.4 102.1L679.6 102.1L679.8 102.6L680 101.9L680.2 102.9L680.4 103.1L680.6 102.8L680.8 103.5L681 103.8L681.2 103.4L681.4 104L681.6 103.5L681.8 103.9L682 104.1L682.2 104.2L682.4 105.3L682.6 106L682.9 106.5L683.1 107L683.3 108.1L683.5 108.3L683.7 109L683.9 109.7L684.1 110.3L684.3 110.2L684.5 109.9L684.7 110L684.9 110.2L685.1 109.6L685.3 53.3L685.5 54.4L685.7 55.6L685.9 57.6L686.2 58.5L686.4 60.3L686.6 61L686.8 63.9L687 63.6L687.2 65L687.4 68.2L687.6 67L687.8 68.3L688 71.2L688.2 73L688.4 73.2L688.6 75.6L688.8 77.7L689 79.1L689.2 80.4L689.4 80.9L689.7 82.6L689.9 82.9L690.1 82.8L690.3 82.7L690.5 83.6L690.7 82.4L690.9 83.5L691.1 83.8L691.3 83.8L691.5 83.8L691.7 84.3L691.9 83.5L692.1 84.8L692.3 83.4L692.5 84.5L692.7 87.1L693 86.7L693.2 87.4L693.4 89.3L693.6 89.6L693.8 91.1L694 91.5L694.2 94.2L694.4 97L694.6 99.8L694.8 103.2L695 105.6L695.2 107.8L695.4 109L695.6 110.1L695.8 111.3L696 112.4L696.2 113.7L696.5 114.3L696.7 115.4L696.9 116.6L697.1 117.8L697.3 119.1L697.5 120.4L697.7 121L697.9 121.8L698.1 122.5L698.3 122.2L698.5 123.4L698.7 123.3L698.9 124.4L699.1 124.8L699.3 125.8L699.5 125.7L699.7 126.3L700 127.2L700.2 127.6L700.4 128.1L700.6 128.3L700.8 129L701 129.7L701.2 130L701.4 130.9L701.6 131.1L701.8 131.8L702 132.8L702.2 134.1L702.4 134.8L702.6 136.1L702.8 136.9L703 138.1L703.2 139.6L703.5 140.3L703.7 141.4L703.9 141.4L704.1 142L704.3 134.2L704.5 135.1L704.7 135.5L704.9 136.8L705.1 137L705.3 138.8L705.5 139.6L705.7 140.6L705.9 141.6L706.1 142.2L706.3 143.4L706.5 144.1L706.8 145L707 146.2L707.2 147.1L707.4 147.3L707.6 147.6L707.8 147.7L708 148.2L708.2 148.3L708.4 148.8L708.6 148.9L708.8 149.1L709 149.5L709.2 149.7L709.4 149.8L709.6 150.1L709.8 150.1L710 150.7L710.3 150.9L710.5 150.9L710.7 151L710.9 151.3L711.1 151.3L711.3 151.6L711.5 151.7L711.7 151.7L711.9 152L712.1 152.2L712.3 152.3L712.5 152.4L712.7 152.3L712.9 152.6L713.1 152.8L713.3 153L713.5 153.1L713.8 153.2L714 153.4L714.2 153.4L714.4 153.6L714.6 153.9L714.8 154L715 154L715.2 154.1L715.4 154.4L715.6 154.5L715.8 154.7L716 154.9L716.2 155.3L716.4 155.6L716.6 156.1L716.8 156.4L717.1 156.7L717.3 157.1L717.5 157.5L717.7 157.8L717.9 158.3L718.1 158.6L718.3 158.9L718.5 159.2L718.7 159.3L718.9 159.5L719.1 159.7L719.3 159.9L719.5 160.2L719.7 160.3L719.9 160.6L720.1 160.8L720.3 160.9L720.6 161.2L720.8 161.3L721 161.5L721.2 161.8L721.4 162L721.6 162.2L721.8 162.4L722 162.7L722.2 162.9L722.4 163L722.6 163.2L722.8 163.4L723 163.6L723.2 164L723.4 164.2L723.6 164.6L723.9 164.8L724.1 165.1L724.3 165.4L724.5 165.7L724.7 165.9L724.9 166.2L725.1 166.5L725.3 166.7L725.5 167L725.7 167.4L725.9 167.5L726.1 167.9L726.3 168.1L726.5 168.5L726.7 168.9L726.9 169.1L727.1 169.6L727.4 169.9L727.6 170.3L727.8 170.6L728 171L728.2 171.3L728.4 171.7L728.6 172L728.8 172.4L729 172.7L729.2 173.1L729.2 173.1Z" fill="url(#stripe)"/>
<polyline points="574.6,144.25 574.71,154.78 574.81,152.65 574.91,158.89 575.01,158.46 575.12,147.02 575.22,158.84 575.32,157.05 575.43,153.81 575.53,158.89 575.74,158.89 575.84,158.5 575.94,155.64 576.04,158.89 576.15,154.5 576.25,158.89 576.46,158.89 576.56,158.47 576.66,154.55 576.77,158.89 576.97,158.89 577.08,158.87 577.18,158.89 577.28,158.98 577.38,157.31 577.49,156.97 577.59,156.6 577.69,157.6 577.8,158.89 577.9,158.69 578,156.47 578.11,156.7 578.21,154.86 578.31,156.28 578.41,158.89 578.52,158.37 578.62,158.89 578.72,151.89 578.83,158.89 578.93,156.81 579.03,157.56 579.13,157.15 579.24,158.89 579.44,158.89 579.55,159.29 579.65,158.89 580.06,158.89 580.16,95.94 580.27,149.45 580.37,158.72 580.47,158.89 580.68,158.89 580.78,158.32 580.89,158.89 581.09,158.89 581.2,158.73 581.3,158.89 581.92,158.89 582.02,159.53 582.12,156.82 582.23,151.78 582.33,158.8 582.43,158.61 582.53,158.89 582.74,158.89 582.84,159.03 582.95,158.89 583.05,158.89 583.15,159.25 583.25,158.47 583.36,158.89 583.56,158.89 583.67,158.79 583.77,158.89 583.87,158.7 583.98,158.89 584.28,158.89 584.39,159.41 584.49,158.89 584.8,158.89 584.9,133.17 585.01,155.03 585.11,158.89 585.93,158.89 586.04,159.16 586.14,158.89 586.24,158.89 586.35,158.86 586.45,158.89 586.55,158.38 586.65,158.89 586.96,158.89 587.07,158.99 587.17,158.89 587.27,158.89 587.38,158.31 587.48,158.89 587.99,158.89 588.1,158.71 588.2,158.89 588.3,158.89 588.4,158.6 588.51,158.89 588.61,159.04 588.71,158.89 589.13,158.89 589.23,159.44 589.33,158.89 589.43,158.87 589.54,158.89 589.95,158.89 590.05,158.45 590.16,158.89 590.67,158.89 590.77,159.01 590.88,158.89 590.98,158.74 591.08,158.89 592.11,158.89 592.22,159.14 592.32,158.89 592.42,159.13 592.52,158.89 592.63,158.89 592.73,158.88 592.83,159.03 592.94,158.91 593.04,158.89 593.35,158.89 593.45,158.83 593.55,158.89 594.17,158.89 594.28,158.68 594.38,159.1 594.48,159.25 594.59,158.89 594.89,158.89 595,158.55 595.1,158.89 595.31,158.89 595.41,159.06 595.51,158.89 595.62,159.49 595.72,158.89 595.92,158.89 596.03,158.8 596.13,158.89 596.44,158.89 596.54,159.05 596.64,158.8 596.75,158.89 596.95,158.89 597.06,158.78 597.16,158.89 597.78,158.89 597.88,158.56 597.98,158.89 598.09,158.51 598.19,158.89 598.29,159.23 598.4,158.89 598.5,159 598.6,158.65 598.71,158.89 600.15,158.89 600.25,159.18 600.35,158.89 600.66,158.89 600.76,159.28 600.87,158.89 600.97,158.54 601.07,158.51 601.18,158.89 601.28,158.89 601.38,151.22 601.49,159.47 601.59,158.54 601.69,158.89 601.79,159.15 601.9,159.16 602,158.89 602.62,158.89 602.72,158.98 602.83,158.89 603.55,158.89 603.65,158.86 603.75,158.89 603.86,158.89 603.96,158.8 604.06,158.89 604.27,158.89 604.37,158.92 604.47,158.89 604.68,158.89 604.78,158.14 604.88,158.89 605.19,158.89 605.3,158.32 605.4,158.89 605.5,158.89 605.61,158.94 605.71,159.16 605.81,159 605.91,158.55 606.02,158.89 606.12,159.22 606.22,158.89 606.95,158.89 607.05,158.65 607.15,158.11 607.25,158.89 607.36,158.89 607.46,158.47 607.56,159.25 607.67,157.92 607.77,158.89 608.18,158.89 608.28,158.89 608.39,159.16 608.49,158.89 609,158.89 609.11,158.97 609.21,159.15 609.31,158.89 610.14,158.89 610.24,158.42 610.34,158.89 610.55,158.89 610.65,158.6 610.76,158.89 611.07,158.89 611.17,158.76 611.27,158.89 611.99,158.89 612.1,159 612.2,158.89 612.82,158.89 612.92,158.61 613.02,158.89 613.33,158.89 613.43,158.65 613.54,158.89 614.36,158.89 614.46,151.78 614.57,158.89 614.98,158.89 615.08,158.85 615.18,158.89 615.29,158.89 615.39,159.04 615.49,158.89 615.8,158.89 615.91,158.66 616.01,159.36 616.11,159.27 616.22,159.29 616.32,158.89 616.63,158.89 616.73,154.63 616.83,158.89 616.94,158.89 617.04,158.8 617.14,158.89 617.25,158.53 617.35,158.89 617.45,158.46 617.55,158.89 617.66,158.89 617.76,159.26 617.86,158.89 619.2,158.89 619.3,159.31 619.41,158.89 619.51,159.04 619.61,158.89 619.72,158.89 619.82,158.59 619.92,158.89 620.03,159.11 620.13,158.89 620.23,158.89 620.34,158.8 620.44,158.89 620.54,159.3 620.64,158.89 621.16,158.89 621.26,158.51 621.37,158.89 621.78,158.89 621.88,159.09 621.98,158.81 622.09,159.08 622.19,158.83 622.29,158.89 622.6,158.89 622.7,159.22 622.81,158.89 622.91,158.89 623.01,159.47 623.12,158.89 623.42,158.89 623.53,159.38 623.63,158.89 623.94,158.89 624.04,158.91 624.15,158.89 624.56,158.89 624.66,158.79 624.76,159.42 624.87,158.69 624.97,159.07 625.07,158.89 625.18,158.89 625.28,159.1 625.38,158.41 625.49,158.89 625.59,158.85 625.69,158.89 626.82,158.89 626.93,158.43 627.03,158.89 627.13,158.2 627.24,158.89 627.44,158.89 627.54,158.61 627.65,158.89 627.85,158.89 627.96,158.42 628.06,158.94 628.16,158.58 628.27,158.89 628.68,158.89 628.78,158.4 628.88,158.89 628.99,158.47 629.09,158.89 629.19,158.89 629.3,158.74 629.4,159.12 629.5,158.89 630.12,158.89 630.22,159.2 630.33,158.89 630.94,158.89 631.05,146.53 631.15,158.89 631.36,158.89 631.46,159.01 631.56,158.89 631.66,159.47 631.77,158.89 631.87,158.89 631.97,159.03 632.08,158.89 632.18,158.51 632.28,158.89 633.11,158.89 633.21,158.56 633.31,158.42 633.42,158.89 633.52,158.89 633.62,158.29 633.73,158.89 634.14,158.89 634.24,159.33 634.34,159.56 634.45,158.89 634.55,132.6 634.65,154.95 634.75,158.89 635.17,158.89 635.27,158.86 635.37,158.89 635.48,158.89 635.58,158.95 635.68,158.89 636.2,158.89 636.3,159.07 636.4,159.67 636.51,158.57 636.61,158.89 636.71,158.94 636.82,158.89 637.02,158.89 637.12,158.86 637.23,158.89 637.43,158.89 637.54,159.25 637.64,158.89 638.26,158.89 638.36,159.25 638.46,158.93 638.57,158.89 638.67,158.89 638.77,158.37 638.88,158.89 639.08,158.89 639.18,158.77 639.29,158.89 639.6,158.89 639.7,158.85 639.8,158.89 639.9,158.89 640.01,159.02 640.11,158.89 640.42,158.89 640.52,158.53 640.63,158.76 640.73,158.52 640.83,158.89 641.86,158.89 641.97,159.17 642.07,158.94 642.17,158.89 642.79,158.89 642.89,159.49 643,158.89 643.1,158.89 643.2,159.35 643.3,158.89 643.82,158.89 643.92,159.02 644.02,158.19 644.13,158.89 644.85,158.89 644.95,158.61 645.05,158.89 645.67,158.89 645.78,159.26 645.88,158.89 647.01,158.89 647.12,159.34 647.22,158.89 647.32,159.28 647.42,158.67 647.53,158.89 647.63,158.85 647.73,158.89 647.84,158 647.94,158.89 648.04,158.32 648.14,158.66 648.25,158.89 648.35,158.99 648.45,158.9 648.56,158.89 648.66,158.89 648.76,159.32 648.87,158.89 649.79,158.89 649.9,139.56 650,158.89 650.51,158.89 650.62,159.02 650.72,158.88 650.82,158.89 651.24,158.89 651.34,158.92 651.44,158.89 652.88,158.89 652.99,158.78 653.09,158.89 653.19,158.58 653.29,158.89 653.4,158.89 653.5,158.62 653.6,158.68 653.71,158.89 653.81,158.89 653.91,159.08 654.02,158.9 654.12,158.89 654.53,158.89 654.63,158.82 654.74,158.49 654.84,158.89 655.25,158.89 655.36,158.99 655.46,158.06 655.56,158.65 655.66,158.89 655.77,158.89 655.87,159.08 655.97,158.89 656.49,158.89 656.59,158.97 656.69,158.89 656.8,158.89 656.9,158.64 657,158.89 657.11,158.89 657.21,156.05 657.31,158.74 657.41,158.89 657.52,158.47 657.62,158.89 657.83,158.89 657.93,159.24 658.03,158.89 658.14,158.76 658.24,158.89 658.55,158.89 658.65,158.59 658.75,158.83 658.86,158.89 659.17,158.89 659.27,158.33 659.37,159.1 659.48,159.05 659.58,158.89 661.84,158.89 661.95,158.8 662.05,158.89 662.26,158.89 662.36,158.75 662.46,158.79 662.57,158.89 663.18,158.89 663.29,158.93 663.39,158.81 663.49,158.89 663.8,158.89 663.9,159.24 664.01,158.58 664.11,158.89 664.42,158.89 664.52,159.39 664.62,158.89 664.83,158.89 664.93,158.9 665.04,158.86 665.14,158.89 665.24,158.89 665.35,159 665.45,158.89 665.76,158.89 665.86,158.61 665.96,158.89 666.58,158.89 666.68,158.79 666.79,158.89 667.1,158.89 667.2,158.73 667.3,158.89 668.54,158.89 668.64,158.52 668.75,158.89 668.85,158.89 668.95,158.78 669.05,158.89 669.36,158.89 669.47,158.99 669.57,158.89 669.88,158.89 669.98,162.44 670.08,158.89 670.19,159.23 670.29,158.89 670.39,159.13 670.5,159.38 670.6,158.89 671.11,158.89 671.22,158.76 671.32,158.89 671.42,158.76 671.53,158.89 671.63,158.97 671.73,158.89 671.84,159.71 671.94,158.89 672.56,158.89 672.66,89.83 672.76,148.53 672.87,158.89 673.48,158.89 673.59,159.08 673.69,158.89 674,158.89 674.1,158.79 674.2,158.89 674.41,158.89 674.51,158.89 674.62,159.23 674.72,158.89 674.82,158.91 674.92,158.89 675.34,158.89 675.44,159.29 675.54,158.89 676.06,158.89 676.16,158.65 676.26,158.94 676.37,158.89 676.57,158.89 676.68,158.37 676.78,158.89 676.88,159.03 676.99,158.09 677.09,158.42 677.19,158.89 678.12,158.89 678.22,158.64 678.32,159 678.43,159.8 678.53,158.4 678.63,158.89 678.74,158.89 678.84,159.24 678.94,158.89 679.15,158.89 679.25,159.14 679.35,158.89 679.46,159.09 679.56,158.89 679.66,159.64 679.77,159.17 679.87,159.34 679.97,158.36 680.08,158.37 680.18,158.89 680.69,158.89 680.8,159.35 680.9,158.89 681,158.38 681.11,158.6 681.21,158.89 681.31,159.29 681.41,158.89 681.83,158.89 681.93,159.04 682.03,158.89 682.13,158.89 682.24,158.85 682.34,158.37 682.44,158.89 682.55,159.26 682.65,158.89 683.58,158.89 683.68,158.66 683.78,159.75 683.89,158.89 684.81,158.89 684.92,159.25 685.02,158.89 685.12,146.53 685.23,158.89 685.33,158.89 685.43,159.11 685.53,158.89 685.64,158.53 685.74,158.89 685.84,158.89 685.95,158.65 686.05,158.89 686.15,158.89 686.25,158.37 686.36,158.74 686.46,158.89 686.67,158.89 686.77,158.62 686.87,158.89 687.08,158.89 687.18,158.63 687.28,158.89 687.39,159.16 687.49,158.89 687.59,158.5 687.7,158.89 688.42,158.89 688.52,158.63 688.62,158.89 688.73,158.89 688.83,159.3 688.93,158.89 689.04,158.89 689.14,159.21 689.24,158.89 689.35,158.43 689.45,159.07 689.55,158.89 689.65,158.54 689.76,158.72 689.86,158.32 689.96,159.11 690.07,158.89 690.27,158.89 690.38,159.37 690.48,158.89 691.2,158.89 691.3,158.96 691.4,158.89 691.51,159.12 691.61,158.89 691.71,158.89 691.82,159.01 691.92,158.89 692.02,158.89 692.13,158.83 692.23,158.89 692.43,158.89 692.54,158.67 692.64,159.65 692.74,159.06 692.85,158.89 693.16,158.89 693.26,159.47 693.36,158.89 694.29,158.89 694.39,158.82 694.5,159.27 694.6,158.55 694.7,158.28 694.8,158.89 694.91,158.89 695.01,158.67 695.11,158.89 695.22,159.51 695.32,159.63 695.42,158.89 695.73,158.89 695.83,158.81 695.94,158.89 696.04,158.89 696.14,158.69 696.25,158.89 696.35,158.89 696.45,158.88 696.55,158.89 696.76,158.89 696.86,158.64 696.97,158.85 697.07,158.89 697.48,158.89 697.59,158.8 697.69,159.55 697.79,158.89 697.89,158.89 698,158.44 698.1,158.89 698.82,158.89 698.92,158.65 699.03,158.89 699.34,158.89 699.44,158.41 699.54,158.89 699.95,158.89 700.06,158.86 700.16,158.89 700.26,158.89 700.37,158.67 700.47,158.89 700.57,159.5 700.67,158.89 700.88,158.89 700.98,159.03 701.09,158.89 701.29,158.89 701.4,158.68 701.5,159.17 701.6,158.89 701.71,158.97 701.81,158.89 702.22,158.89 702.32,158.75 702.43,158.89 702.53,158.9 702.63,158.89 702.74,159.28 702.84,158.89 702.94,158.68 703.04,158.89 703.25,158.89 703.35,159.68 703.46,158.89 703.56,158.89 703.66,158.56 703.76,158.89 703.97,158.89 704.07,159.64 704.18,158.89 704.28,152.92 704.38,158.89 704.59,158.89 704.69,158.51 704.79,158.89 704.9,158.89 705,159.03 705.1,158.89 705.21,159.13 705.31,158.89 705.41,158.48 705.52,159.18 705.62,158.89 705.72,159.34 705.83,158.89 705.93,158.89 706.03,158.45 706.13,158.89 706.24,158.86 706.34,158.89 706.86,158.89 706.96,158.51 707.06,158.89 707.16,158.92 707.27,158.89 707.37,158.92 707.47,158.89 707.99,158.89 708.09,156.05 708.19,158.89 708.5,158.89 708.61,158.27 708.71,158.89 709.02,158.89 709.12,159.42 709.22,159.22 709.33,158.7 709.43,158.38 709.53,159.51 709.64,158.89 709.74,158.89 709.84,159.13 709.94,158.89 711.08,158.89 711.18,158.6 711.28,158.89 711.39,158.91 711.49,158.99 711.59,158.89 712.21,158.89 712.31,158.69 712.42,158.89 712.62,158.89 712.73,159.09 712.83,158.89 712.93,159.33 713.03,158.64 713.14,158.89 713.55,158.89 713.65,158.91 713.76,158.89 714.68,158.89 714.79,158.7 714.89,158.89 714.99,159.25 715.1,158.89 715.61,158.89 715.71,158.75 715.82,158.89 715.92,158.89 716.02,158.91 716.12,158.89 716.23,159.07 716.33,158.89 716.95,158.89 717.05,159.14 717.15,158.89 717.98,158.89 718.08,159.11 718.18,158.89 718.29,158.89 718.39,161.02 718.49,158.89 718.6,158.38 718.7,158.74 718.8,158.89 718.91,159.93 719.01,159.83 719.11,160.22 719.22,158.89 719.32,159.21 719.42,158.89 719.52,159.22 719.63,158.96 719.73,159.12 719.83,159.53 719.94,158.89 720.04,159.13 720.14,158.89 720.66,158.89 720.76,159.07 720.86,158.88 720.97,159.88 721.07,158.89 721.17,159.26 721.27,160.2 721.38,159.2 721.48,158.89 721.58,158.89 721.69,158.89 721.79,159.96 721.89,158.89 722.1,158.89 722.2,159.72 722.3,158.89 722.41,159.58 722.51,159.2 722.61,159.92 722.72,158.89 722.82,158.31 722.92,159.06 723.03,159.2 723.13,158.89 723.23,158.67 723.34,158.89 723.64,158.89 723.75,159.69 723.85,158.89 724.06,158.89 724.16,159.93 724.26,158.89 724.37,160.05 724.47,159.26 724.57,158.94 724.67,158.89 724.78,159.97 724.88,159.46 724.98,158.89 725.09,158.89 725.19,159.28 725.29,158.89 725.39,159.73 725.5,158.6 725.6,158.89 726.01,158.89 726.12,159.02 726.22,158.89 726.32,158.77 726.42,160.11 726.53,158.89 727.04,158.89 727.15,158.89 727.25,158.89 727.35,158.89 727.45,160.23 727.56,158.89 727.66,158.89 727.76,160.19 727.87,158.89 727.97,158.89 728.07,158.96 728.18,158.89 728.28,158.98 728.38,158.89 728.79,158.89 728.9,159.61 729,169.83 729.1,168.41 729.21,158.89 729.51,158.89 729.62,159.42 729.72,158.89 730.96,158.89 731.06,159.3 731.16,158.89 731.68,158.89 731.78,158.82 731.88,158.6 731.99,158.89 732.09,158.89" fill="none" stroke="#FF0000" stroke-width="0.75" stroke-linejoin="miter" stroke-miterlimit="2"/>
<path d="M574.6 158.89H732.09" fill="none" stroke="#FF0000" stroke-width="1.0"/>
<path d="M567 23.2V173.1H740.7V23.2M567 173.1h-1.9M567 137.57h-1.9M567 102.05h-1.9M567 66.52h-1.9M567 31h-1.9M740.7 173.1h1.9M740.7 137.57h1.9M740.7 102.05h1.9M740.7 66.53h1.9M740.7 31h1.9M574.5 173.1v1.9M626 173.1v1.9M677.5 173.1v1.9M729 173.1v1.9" fill="none" stroke="#333333" stroke-width="1"/>
<g font-size="10.8" fill="#4D4D4D"><text x="563.9" y="177.6" text-anchor="end">0</text><text x="563.9" y="142.07" text-anchor="end">500</text><text x="563.9" y="106.55" text-anchor="end">1000</text><text x="563.9" y="71.02" text-anchor="end">1500</text><text x="563.9" y="35.5" text-anchor="end">2000</text><text x="743.7" y="177.6">0.0</text><text x="743.7" y="142.07">2.5</text><text x="743.7" y="106.55">5.0</text><text x="743.7" y="71.03">7.5</text><text x="743.7" y="35.5">10.0</text><text x="574.5" y="184.1" text-anchor="middle">0</text><text x="626" y="184.1" text-anchor="middle">500</text><text x="677.5" y="184.1" text-anchor="middle">1000</text><text x="729" y="184.1" text-anchor="middle">1500</text></g>
<text x="629.66" y="15.9" font-size="14.2">H1500-1</text>
<text x="653.85" y="197.8" font-size="14.0" text-anchor="middle">Position</text>
<text transform="translate(535.5 100.35) rotate(-90)" font-size="14.0" text-anchor="middle">Coverage (-)</text>
<text transform="translate(766.2 98.45) rotate(90)" font-size="14.0" text-anchor="middle">RCI (-)</text>
</g>
<g>
<path d="M53 388.3L53 388.3L53.1 387.2L53.3 387L53.5 386.8L53.6 386.7L53.8 386.5L53.9 386.3L54.1 386.2L54.2 386L54.4 385.9L54.5 385.7L54.7 385.5L54.9 385.3L55 385.2L55.2 385.1L55.3 384.9L55.5 384.7L55.6 384.5L55.8 384.4L55.9 384.2L56.1 384.1L56.2 384.1L56.4 384L56.6 383.9L56.7 383.8L56.9 383.8L57 383.7L57.2 383.6L57.3 383.5L57.5 383.5L57.6 383.4L57.8 383.3L58 383.2L58.1 383.2L58.3 383L58.4 383L58.6 382.9L58.7 382.8L58.9 382.8L59 382.7L59.2 382.6L59.4 382.5L59.5 382.4L59.7 382.5L59.8 382.5L60 382.4L60.1 382.4L60.3 382.4L60.4 382.4L60.6 382.5L60.7 382.4L60.9 382.4L61.1 382.4L61.2 382.4L61.4 382.4L61.5 382.3L61.7 382.4L61.8 382.3L62 382.4L62.1 382.3L62.3 382.3L62.5 382.3L62.6 382.3L62.8 382.3L62.9 340.5L63.1 340.1L63.2 340.1L63.4 339.6L63.5 339.8L63.7 339.4L63.8 339.4L64 338.9L64.2 338.8L64.3 338.8L64.5 338.5L64.6 337.8L64.8 337.9L64.9 338.2L65.1 337.8L65.2 337.4L65.4 337.3L65.6 336.8L65.7 337L65.9 336.4L66 335.8L66.2 335L66.3 335.1L66.5 334.2L66.6 334.1L66.8 332.9L67 332.5L67.1 332.5L67.3 332.2L67.4 332.8L67.6 332.1L67.7 332.3L67.9 331.6L68 331.8L68.2 331.3L68.3 331.2L68.5 331.8L68.7 331.7L68.8 294.4L69 293.4L69.1 292.5L69.3 293.2L69.4 292.5L69.6 293.8L69.7 292.9L69.9 293.9L70.1 293.1L70.2 295.4L70.4 295.7L70.5 296.5L70.7 296.6L70.8 297.3L71 297.4L71.1 298.4L71.3 299.1L71.4 299.9L71.6 300.2L71.8 300.9L71.9 301.3L72.1 301.9L72.2 301.9L72.4 302.2L72.5 303.7L72.7 303.6L72.8 304.2L73 305.4L73.2 306L73.3 305.3L73.5 306L73.6 307.8L73.8 307.9L73.9 308L74.1 309L74.2 310.4L74.4 310.7L74.6 312L74.7 312.1L74.9 313.1L75 315.2L75.2 315.7L75.3 316.8L75.5 318.3L75.6 318.8L75.8 319.4L75.9 321.3L76.1 322.1L76.3 323.6L76.4 325.1L76.6 325.9L76.7 328.1L76.9 329.4L77 330.2L77.2 331.7L77.3 332.8L77.5 334.4L77.7 335.4L77.8 336.3L78 338.3L78.1 339.5L78.3 340.4L78.4 341.8L78.6 343.3L78.7 344.5L78.9 345.8L79 346.9L79.2 348.2L79.4 349.3L79.5 349.8L79.7 350.7L79.8 351.3L80 352.1L80.1 352.5L80.3 353.3L80.4 353.7L80.6 354.8L80.8 355.4L80.9 356.7L81.1 356.6L81.2 356.9L81.4 356.5L81.5 356.9L81.7 357.1L81.8 357.6L82 357.9L82.2 357.8L82.3 357.9L82.5 358.6L82.6 358.4L82.8 358.6L82.9 358.9L83.1 358.7L83.2 359L83.4 359.3L83.5 359.3L83.7 359.5L83.9 359.7L84 359.9L84.2 360L84.3 360.5L84.5 360.2L84.6 360.6L84.8 360.8L84.9 360.8L85.1 361.3L85.3 361.5L85.4 362L85.6 362.3L85.7 363L85.9 363.4L86 363.7L86.2 364.2L86.3 364.5L86.5 364.9L86.6 365.2L86.8 365.8L87 366.3L87.1 366.6L87.3 366.8L87.4 367.5L87.6 367.7L87.7 368.2L87.9 368.7L88 368.9L88.2 369.4L88.4 369.9L88.5 370.1L88.7 370.7L88.8 370.7L89 370.8L89.1 371L89.3 371.2L89.4 371.2L89.6 371.5L89.8 371.5L89.9 371.9L90.1 371.9L90.2 372.1L90.4 372.1L90.5 372.3L90.7 372.5L90.8 372.8L91 372.8L91.1 373.1L91.3 373.2L91.5 373.2L91.6 373.7L91.8 373.5L91.9 373.7L92.1 374L92.2 373.9L92.4 374L92.5 374.1L92.7 374L92.9 374L93 374.1L93.2 342.5L93.3 342.2L93.5 342.1L93.6 342.4L93.8 342.4L93.9 342.3L94.1 342.1L94.2 342.6L94.4 342.5L94.6 342.5L94.7 342.2L94.9 310.7L95 309.7L95.2 309.5L95.3 309.7L95.5 309.4L95.6 309.3L95.8 309.8L96 309.7L96.1 310.9L96.3 309.9L96.4 311.5L96.6 310.6L96.7 310.2L96.9 311.3L97 310.9L97.2 311.7L97.4 310.9L97.5 311.3L97.7 311L97.8 311.4L98 311.7L98.1 311.8L98.3 312.8L98.4 311.5L98.6 312.5L98.7 312.2L98.9 313.1L99.1 312.8L99.2 313.1L99.4 312.7L99.5 313.5L99.7 313.2L99.8 313.6L100 313.8L100.1 313.7L100.3 314L100.5 313.7L100.6 314L100.8 314.9L100.9 316L101.1 316.1L101.2 316.7L101.4 317.3L101.5 319L101.7 321L101.8 323.2L102 324.5L102.2 325.4L102.3 325.3L102.5 324.6L102.6 325.3L102.8 325.5L102.9 324.8L103.1 324.8L103.2 325.2L103.4 297.1L103.6 297.2L103.7 297L103.9 297.4L104 297.1L104.2 297.1L104.3 297.4L104.5 297L104.6 297.7L104.8 297.6L105 296.9L105.1 297.4L105.3 298.3L105.4 299.3L105.6 299.9L105.7 300.3L105.9 301.9L106 302.3L106.2 303.1L106.3 304.2L106.5 304.8L106.7 305.4L106.8 306L107 308L107.1 309.4L107.3 311L107.4 312.1L107.6 314.1L107.7 315L107.9 316.6L108.1 318.1L108.2 318.6L108.4 320.7L108.5 322.7L108.7 324.4L108.8 326.1L109 327.4L109.1 329.3L109.3 331.3L109.4 332.6L109.6 335.1L109.8 336.1L109.9 337.6L110.1 339.3L110.2 341.2L110.4 343.3L110.5 344.9L110.7 346.3L110.8 348L111 349.8L111.2 351.3L111.3 353.1L111.5 354.9L111.6 356.6L111.8 357.7L111.9 358.7L112.1 358.9L112.2 359.7L112.4 360.2L112.6 360.7L112.7 361.6L112.9 362.1L113 362.7L113.2 363.2L113.3 364.2L113.5 364.6L113.6 365.2L113.8 365.9L113.9 366.5L114.1 367.1L114.3 367.8L114.4 368.4L114.6 369L114.7 369.6L114.9 370.3L115 370.9L115.2 371.4L115.3 372.1L115.5 372.4L115.7 372.8L115.8 373.3L116 373.8L116.1 374.1L116.3 374.7L116.4 375.1L116.6 375.6L116.7 376L116.9 376.5L117 376.9L117.2 377.5L117.4 377.8L117.5 378.4L117.7 378.7L117.8 379.1L118 379.2L118.1 379.4L118.3 379.4L118.4 379.4L118.6 379.5L118.8 379.4L118.9 379.4L119.1 379.4L119.2 379.4L119.4 379.4L119.5 379.4L119.7 379.5L119.8 379.5L120 379.4L120.2 379.4L120.3 379.4L120.5 379.4L120.6 379.5L120.8 379.2L120.9 379.2L121.1 379.1L121.2 379L121.4 378.9L121.5 378.8L121.7 378.6L121.9 378.5L122 378.5L122.2 378.4L122.3 378.3L122.5 378.1L122.6 378.2L122.8 378.1L122.9 378L123.1 377.7L123.3 377.7L123.4 377.5L123.6 377.5L123.7 377.7L123.9 377.7L124 377.7L124.2 377.6L124.3 377.6L124.5 377.6L124.6 377.6L124.8 377.6L125 377.6L125.1 377.6L125.3 377.6L125.4 377.7L125.6 377.6L125.7 377.6L125.9 377.6L126 377.7L126.2 377.6L126.4 377.6L126.5 377.6L126.7 377.7L126.8 377.6L127 377.7L127.1 377.7L127.3 377.7L127.4 377.8L127.6 377.6L127.8 377.7L127.9 377.6L128.1 377.6L128.2 377.7L128.4 377.6L128.5 349L128.7 348.8L128.8 349L129 349L129.1 349L129.3 349L129.5 349.5L129.6 349.5L129.8 349.8L129.9 349.7L130.1 349.6L130.2 349.7L130.4 350.4L130.5 349.8L130.7 350.5L130.9 350.3L131 350.4L131.2 350.8L131.3 351L131.5 350.7L131.6 350.7L131.8 350.9L131.9 351.3L132.1 351.2L132.2 351.1L132.4 351.3L132.6 351.6L132.7 351.4L132.9 351.8L133 352.1L133.2 352.1L133.3 352.3L133.5 352.2L133.6 352.3L133.8 352.3L134 352.5L134.1 353.1L134.3 352.9L134.4 353.1L134.6 353.3L134.7 353.5L134.9 353.6L135 353.9L135.2 353.8L135.3 353.9L135.5 353.9L135.7 354.7L135.8 355.4L136 356L136.1 356.6L136.3 357.1L136.4 357.7L136.6 358.3L136.7 358.5L136.9 359.6L137.1 359.8L137.2 360.3L137.4 360.4L137.5 361L137.7 361.5L137.8 361.9L138 362L138.1 362.3L138.3 362.5L138.5 362.5L138.6 362.6L138.8 362.5L138.9 362.9L139.1 362.8L139.2 362.6L139.4 362.6L139.5 362.9L139.7 363L139.8 363L140 363.1L140.2 363.3L140.3 363.2L140.5 363.4L140.6 363.2L140.8 363.6L140.9 363.1L141.1 363.2L141.2 362.7L141.4 363L141.6 362.7L141.7 362.4L141.9 362.4L142 362L142.2 362.1L142.3 361.8L142.5 361.7L142.6 360.8L142.8 359.5L142.9 358.4L143.1 357.6L143.3 358.2L143.4 359L143.6 359.6L143.7 360.6L143.9 361.3L144 362L144.2 362.8L144.3 363.6L144.5 364.3L144.7 364.7L144.8 365.5L145 365.7L145.1 366L145.3 366.4L145.4 366.9L145.6 367L145.7 367.1L145.9 367.5L146.1 367.7L146.2 368L146.4 368.2L146.5 368.6L146.7 368.9L146.8 369.1L147 369.4L147.1 369.7L147.3 369.6L147.4 369.5L147.6 369.2L147.8 369L147.9 368.9L148.1 368.7L148.2 368.5L148.4 368.5L148.5 368.4L148.7 368.1L148.8 368L149 367.8L149.2 367.7L149.3 367.5L149.5 367.5L149.6 367.7L149.8 367.9L149.9 368.2L150.1 368.4L150.2 368.6L150.4 368.8L150.5 368.9L150.7 369.2L150.9 369.5L151 369.9L151.2 370L151.3 370.3L151.5 370.7L151.6 371L151.8 371L151.9 371.4L152.1 371.5L152.3 371.7L152.4 372L152.6 372L152.7 372.1L152.9 372.1L153 372.2L153.2 372.2L153.3 372.1L153.5 372.1L153.7 372.2L153.8 372.3L154 372.4L154.1 372.4L154.3 372.4L154.4 372.5L154.6 372.3L154.7 372.6L154.9 372.6L155 372.5L155.2 372.5L155.4 372.6L155.5 372.6L155.7 372.6L155.8 372.6L156 372.8L156.1 372.9L156.3 373.3L156.4 373.3L156.6 373.4L156.8 373.6L156.9 374L157.1 374L157.2 374L157.4 374.4L157.5 374.6L157.7 374.7L157.8 374.9L158 375.1L158.1 375.3L158.3 375.4L158.5 375.6L158.6 375.8L158.8 376L158.9 376.2L159.1 376.4L159.2 376.5L159.4 376.8L159.5 376.9L159.7 377.3L159.9 377.5L160 377.8L160.2 378.2L160.3 378.4L160.5 378.7L160.6 379L160.8 379.2L160.9 379.5L161.1 379.8L161.3 380.1L161.4 380.4L161.6 380.7L161.7 380.9L161.9 381.2L162 381.4L162.2 381.8L162.3 381.9L162.5 382L162.6 382L162.8 382L163 382L163.1 382L163.3 382.1L163.4 382.1L163.6 382.2L163.7 382.2L163.9 382.2L164 382.2L164.2 382.3L164.4 274.1L164.5 272.8L164.7 269.9L164.8 270.2L165 269.8L165.1 270L165.3 270.5L165.4 269.1L165.6 268.6L165.7 269.3L165.9 268.8L166.1 268.9L166.2 268.1L166.4 268L166.5 267.7L166.7 267.5L166.8 267.2L167 266.3L167.1 267.5L167.3 267.5L167.5 267L167.6 266.7L167.8 265.8L167.9 266.5L168.1 265.7L168.2 267.3L168.4 266.9L168.5 268.4L168.7 267.1L168.9 265.8L169 267.8L169.2 267L169.3 267L169.5 266.8L169.6 266.5L169.8 266.5L169.9 268.1L170.1 267.4L170.2 267.2L170.4 267.8L170.6 267.7L170.7 268L170.9 267.4L171 268.1L171.2 267.4L171.3 268.4L171.5 268.6L171.6 267.7L171.8 268.1L172 268.4L172.1 268.8L172.3 269.2L172.4 269.3L172.6 269.3L172.7 269.8L172.9 268.9L173 270.1L173.2 270.9L173.3 271.2L173.5 274.1L173.7 276.2L173.8 277L174 280.1L174.1 281.5L174.3 285.1L174.4 288.3L174.6 290.7L174.7 293.6L174.9 297.1L175.1 300.1L175.2 305L175.4 308.6L175.5 312.7L175.7 316.6L175.8 317.4L176 318.3L176.1 318.7L176.3 319.7L176.5 320.2L176.6 321L176.8 321.6L176.9 322.4L177.1 323.5L177.2 322.9L177.4 323.1L177.5 322.9L177.7 323.5L177.8 323.3L178 321.8L178.2 321.8L178.3 321L178.5 320.6L178.6 319.5L178.8 320.4L178.9 320.8L179.1 320.7L179.2 321.2L179.4 321.2L179.6 321.3L179.7 322.4L179.9 321.9L180 322.7L180.2 323.6L180.3 323.4L180.5 323L180.6 324.1L180.8 324.1L180.9 324.9L181.1 325.3L181.3 325.3L181.4 325.5L181.6 325.8L181.7 326.5L181.9 326.9L182 327.1L182.2 327.5L182.3 327.2L182.5 327.9L182.7 328.1L182.8 328.5L183 329L183.1 329.1L183.3 329.5L183.4 329.6L183.6 329.9L183.7 330.3L183.9 330.5L184.1 331.1L184.2 331.5L184.4 331.3L184.5 332.1L184.7 332.7L184.8 332.5L185 332.9L185.1 333.3L185.3 333.7L185.4 334.1L185.6 333.8L185.8 334.6L185.9 334.6L186.1 334.8L186.2 335.4L186.4 335.6L186.5 336.2L186.7 336L186.8 336.5L187 336.9L187.2 337.2L187.3 337.9L187.5 337.8L187.6 338.9L187.8 339.8L187.9 340.2L188.1 340.3L188.2 340.5L188.4 341.8L188.5 341.8L188.7 342.9L188.9 344.1L189 345.2L189.2 347.4L189.3 348.3L189.5 349.2L189.6 351.1L189.8 352.1L189.9 353.6L190.1 354.8L190.3 356.1L190.4 356.6L190.6 358L190.7 358.7L190.9 359.7L191 360.7L191.2 361.8L191.3 362.9L191.5 363.5L191.7 364.7L191.8 365.7L192 366.4L192.1 367.7L192.3 368.6L192.4 369.2L192.6 369.8L192.7 370.4L192.9 370.9L193 371.4L193.2 372L193.4 372.7L193.5 373.2L193.7 373.7L193.8 374.3L194 374.8L194.1 375.4L194.3 376.1L194.4 376.7L194.6 376.8L194.8 377.2L194.9 377.4L195.1 377.7L195.2 378L195.4 378.2L195.5 378.6L195.7 378.8L195.8 379.1L196 379.5L196.1 379.7L196.3 380L196.5 380.2L196.6 380.5L196.8 380.8L196.9 381L197.1 381.3L197.2 381.6L197.4 381.8L197.5 382.1L197.7 382.3L197.9 382.6L198 382.9L198.2 383.1L198.3 383.3L198.5 383.6L198.6 383.9L198.8 384.1L198.9 384.4L199.1 384.6L199.3 384.9L199.4 385.1L199.6 385.4L199.7 385.7L199.9 385.9L200 386.2L200.2 386.3L200.3 386.5L200.5 386.6L200.6 386.8L200.8 386.9L201 387L201.1 387.2L201.3 387.3L201.4 387.5L201.6 387.6L201.7 387.8L201.9 387.9L202 388.1L202.2 388.2L202.2 388.3Z" fill="#1FACFE"/>
<path d="M53 388.3L53 388.3L53.1 387.2L53.3 387L53.5 386.8L53.6 386.7L53.8 386.5L53.9 386.3L54.1 386.2L54.2 386L54.4 385.9L54.5 385.7L54.7 385.5L54.9 385.3L55 385.2L55.2 385.1L55.3 384.9L55.5 384.7L55.6 384.5L55.8 384.4L55.9 384.2L56.1 384.1L56.2 384.1L56.4 384L56.6 383.9L56.7 383.8L56.9 383.8L57 383.7L57.2 383.6L57.3 383.5L57.5 383.5L57.6 383.4L57.8 383.3L58 383.2L58.1 383.2L58.3 383L58.4 383L58.6 382.9L58.7 382.8L58.9 382.8L59 382.7L59.2 382.6L59.4 382.5L59.5 382.4L59.7 382.5L59.8 382.5L60 382.4L60.1 382.4L60.3 382.4L60.4 382.4L60.6 382.5L60.7 382.4L60.9 382.4L61.1 382.4L61.2 382.4L61.4 382.4L61.5 382.3L61.7 382.4L61.8 382.3L62 382.4L62.1 382.3L62.3 382.3L62.5 382.3L62.6 382.3L62.8 382.3L62.9 340.5L63.1 340.1L63.2 340.1L63.4 339.6L63.5 339.8L63.7 339.4L63.8 339.4L64 338.9L64.2 338.8L64.3 338.8L64.5 338.5L64.6 337.8L64.8 337.9L64.9 338.2L65.1 337.8L65.2 337.4L65.4 337.3L65.6 336.8L65.7 337L65.9 336.4L66 335.8L66.2 335L66.3 335.1L66.5 334.2L66.6 334.1L66.8 332.9L67 332.5L67.1 332.5L67.3 332.2L67.4 332.8L67.6 332.1L67.7 332.3L67.9 331.6L68 331.8L68.2 331.3L68.3 331.2L68.5 331.8L68.7 331.7L68.8 294.4L69 293.4L69.1 292.5L69.3 293.2L69.4 292.5L69.6 293.8L69.7 292.9L69.9 293.9L70.1 293.1L70.2 295.4L70.4 295.7L70.5 296.5L70.7 296.6L70.8 297.3L71 297.4L71.1 298.4L71.3 299.1L71.4 299.9L71.6 300.2L71.8 300.9L71.9 301.3L72.1 301.9L72.2 301.9L72.4 302.2L72.5 303.7L72.7 303.6L72.8 304.2L73 305.4L73.2 306L73.3 305.3L73.5 306L73.6 307.8L73.8 307.9L73.9 308L74.1 309L74.2 310.4L74.4 310.7L74.6 312L74.7 312.1L74.9 313.1L75 315.2L75.2 315.7L75.3 316.8L75.5 318.3L75.6 318.8L75.8 319.4L75.9 321.3L76.1 322.1L76.3 323.6L76.4 325.1L76.6 325.9L76.7 328.1L76.9 329.4L77 330.2L77.2 331.7L77.3 332.8L77.5 334.4L77.7 335.4L77.8 336.3L78 338.3L78.1 339.5L78.3 340.4L78.4 341.8L78.6 343.3L78.7 344.5L78.9 345.8L79 346.9L79.2 348.2L79.4 349.3L79.5 349.8L79.7 350.7L79.8 351.3L80 352.1L80.1 352.5L80.3 353.3L80.4 353.7L80.6 354.8L80.8 355.4L80.9 356.7L81.1 356.6L81.2 356.9L81.4 356.5L81.5 356.9L81.7 357.1L81.8 357.6L82 357.9L82.2 357.8L82.3 357.9L82.5 358.6L82.6 358.4L82.8 358.6L82.9 358.9L83.1 358.7L83.2 359L83.4 359.3L83.5 359.3L83.7 359.5L83.9 359.7L84 359.9L84.2 360L84.3 360.5L84.5 360.2L84.6 360.6L84.8 360.8L84.9 360.8L85.1 361.3L85.3 361.5L85.4 362L85.6 362.3L85.7 363L85.9 363.4L86 363.7L86.2 364.2L86.3 364.5L86.5 364.9L86.6 365.2L86.8 365.8L87 366.3L87.1 366.6L87.3 366.8L87.4 367.5L87.6 367.7L87.7 368.2L87.9 368.7L88 368.9L88.2 369.4L88.4 369.9L88.5 370.1L88.7 370.7L88.8 370.7L89 370.8L89.1 371L89.3 371.2L89.4 371.2L89.6 371.5L89.8 371.5L89.9 371.9L90.1 371.9L90.2 372.1L90.4 372.1L90.5 372.3L90.7 372.5L90.8 372.8L91 372.8L91.1 373.1L91.3 373.2L91.5 373.2L91.6 373.7L91.8 373.5L91.9 373.7L92.1 374L92.2 373.9L92.4 374L92.5 374.1L92.7 374L92.9 374L93 374.1L93.2 342.5L93.3 342.2L93.5 342.1L93.6 342.4L93.8 342.4L93.9 342.3L94.1 342.1L94.2 342.6L94.4 342.5L94.6 342.5L94.7 342.2L94.9 310.7L95 309.7L95.2 309.5L95.3 309.7L95.5 309.4L95.6 309.3L95.8 309.8L96 309.7L96.1 310.9L96.3 309.9L96.4 311.5L96.6 310.6L96.7 310.2L96.9 311.3L97 310.9L97.2 311.7L97.4 310.9L97.5 311.3L97.7 311L97.8 311.4L98 311.7L98.1 311.8L98.3 312.8L98.4 311.5L98.6 312.5L98.7 312.2L98.9 313.1L99.1 312.8L99.2 313.1L99.4 312.7L99.5 313.5L99.7 313.2L99.8 313.6L100 313.8L100.1 313.7L100.3 314L100.5 313.7L100.6 314L100.8 314.9L100.9 316L101.1 316.1L101.2 316.7L101.4 317.3L101.5 319L101.7 321L101.8 323.2L102 324.5L102.2 325.4L102.3 325.3L102.5 324.6L102.6 325.3L102.8 325.5L102.9 324.8L103.1 324.8L103.2 325.2L103.4 297.1L103.6 297.2L103.7 297L103.9 297.4L104 297.1L104.2 297.1L104.3 297.4L104.5 297L104.6 297.7L104.8 297.6L105 296.9L105.1 297.4L105.3 298.3L105.4 299.3L105.6 299.9L105.7 300.3L105.9 301.9L106 302.3L106.2 303.1L106.3 304.2L106.5 304.8L106.7 305.4L106.8 306L107 308L107.1 309.4L107.3 311L107.4 312.1L107.6 314.1L107.7 315L107.9 316.6L108.1 318.1L108.2 318.6L108.4 320.7L108.5 322.7L108.7 324.4L108.8 326.1L109 327.4L109.1 329.3L109.3 331.3L109.4 332.6L109.6 335.1L109.8 336.1L109.9 337.6L110.1 339.3L110.2 341.2L110.4 343.3L110.5 344.9L110.7 346.3L110.8 348L111 349.8L111.2 351.3L111.3 353.1L111.5 354.9L111.6 356.6L111.8 357.7L111.9 358.7L112.1 358.9L112.2 359.7L112.4 360.2L112.6 360.7L112.7 361.6L112.9 362.1L113 362.7L113.2 363.2L113.3 364.2L113.5 364.6L113.6 365.2L113.8 365.9L113.9 366.5L114.1 367.1L114.3 367.8L114.4 368.4L114.6 369L114.7 369.6L114.9 370.3L115 370.9L115.2 371.4L115.3 372.1L115.5 372.4L115.7 372.8L115.8 373.3L116 373.8L116.1 374.1L116.3 374.7L116.4 375.1L116.6 375.6L116.7 376L116.9 376.5L117 376.9L117.2 377.5L117.4 377.8L117.5 378.4L117.7 378.7L117.8 379.1L118 379.2L118.1 379.4L118.3 379.4L118.4 379.4L118.6 379.5L118.8 379.4L118.9 379.4L119.1 379.4L119.2 379.4L119.4 379.4L119.5 379.4L119.7 379.5L119.8 379.5L120 379.4L120.2 379.4L120.3 379.4L120.5 379.4L120.6 379.5L120.8 379.2L120.9 379.2L121.1 379.1L121.2 379L121.4 378.9L121.5 378.8L121.7 378.6L121.9 378.5L122 378.5L122.2 378.4L122.3 378.3L122.5 378.1L122.6 378.2L122.8 378.1L122.9 378L123.1 377.7L123.3 377.7L123.4 377.5L123.6 377.5L123.7 377.7L123.9 377.7L124 377.7L124.2 377.6L124.3 377.6L124.5 377.6L124.6 377.6L124.8 377.6L125 377.6L125.1 377.6L125.3 377.6L125.4 377.7L125.6 377.6L125.7 377.6L125.9 377.6L126 377.7L126.2 377.6L126.4 377.6L126.5 377.6L126.7 377.7L126.8 377.6L127 377.7L127.1 377.7L127.3 377.7L127.4 377.8L127.6 377.6L127.8 377.7L127.9 377.6L128.1 377.6L128.2 377.7L128.4 377.6L128.5 349L128.7 348.8L128.8 349L129 349L129.1 349L129.3 349L129.5 349.5L129.6 349.5L129.8 349.8L129.9 349.7L130.1 349.6L130.2 349.7L130.4 350.4L130.5 349.8L130.7 350.5L130.9 350.3L131 350.4L131.2 350.8L131.3 351L131.5 350.7L131.6 350.7L131.8 350.9L131.9 351.3L132.1 351.2L132.2 351.1L132.4 351.3L132.6 351.6L132.7 351.4L132.9 351.8L133 352.1L133.2 352.1L133.3 352.3L133.5 352.2L133.6 352.3L133.8 352.3L134 352.5L134.1 353.1L134.3 352.9L134.4 353.1L134.6 353.3L134.7 353.5L134.9 353.6L135 353.9L135.2 353.8L135.3 353.9L135.5 353.9L135.7 354.7L135.8 355.4L136 356L136.1 356.6L136.3 357.1L136.4 357.7L136.6 358.3L136.7 358.5L136.9 359.6L137.1 359.8L137.2 360.3L137.4 360.4L137.5 361L137.7 361.5L137.8 361.9L138 362L138.1 362.3L138.3 362.5L138.5 362.5L138.6 362.6L138.8 362.5L138.9 362.9L139.1 362.8L139.2 362.6L139.4 362.6L139.5 362.9L139.7 363L139.8 363L140 363.1L140.2 363.3L140.3 363.2L140.5 363.4L140.6 363.2L140.8 363.6L140.9 363.1L141.1 363.2L141.2 362.7L141.4 363L141.6 362.7L141.7 362.4L141.9 362.4L142 362L142.2 362.1L142.3 361.8L142.5 361.7L142.6 360.8L142.8 359.5L142.9 358.4L143.1 357.6L143.3 358.2L143.4 359L143.6 359.6L143.7 360.6L143.9 361.3L144 362L144.2 362.8L144.3 363.6L144.5 364.3L144.7 364.7L144.8 365.5L145 365.7L145.1 366L145.3 366.4L145.4 366.9L145.6 367L145.7 367.1L145.9 367.5L146.1 367.7L146.2 368L146.4 368.2L146.5 368.6L146.7 368.9L146.8 369.1L147 369.4L147.1 369.7L147.3 369.6L147.4 369.5L147.6 369.2L147.8 369L147.9 368.9L148.1 368.7L148.2 368.5L148.4 368.5L148.5 368.4L148.7 368.1L148.8 368L149 367.8L149.2 367.7L149.3 367.5L149.5 367.5L149.6 367.7L149.8 367.9L149.9 368.2L150.1 368.4L150.2 368.6L150.4 368.8L150.5 368.9L150.7 369.2L150.9 369.5L151 369.9L151.2 370L151.3 370.3L151.5 370.7L151.6 371L151.8 371L151.9 371.4L152.1 371.5L152.3 371.7L152.4 372L152.6 372L152.7 372.1L152.9 372.1L153 372.2L153.2 372.2L153.3 372.1L153.5 372.1L153.7 372.2L153.8 372.3L154 372.4L154.1 372.4L154.3 372.4L154.4 372.5L154.6 372.3L154.7 372.6L154.9 372.6L155 372.5L155.2 372.5L155.4 372.6L155.5 372.6L155.7 372.6L155.8 372.6L156 372.8L156.1 372.9L156.3 373.3L156.4 373.3L156.6 373.4L156.8 373.6L156.9 374L157.1 374L157.2 374L157.4 374.4L157.5 374.6L157.7 374.7L157.8 374.9L158 375.1L158.1 375.3L158.3 375.4L158.5 375.6L158.6 375.8L158.8 376L158.9 376.2L159.1 376.4L159.2 376.5L159.4 376.8L159.5 376.9L159.7 377.3L159.9 377.5L160 377.8L160.2 378.2L160.3 378.4L160.5 378.7L160.6 379L160.8 379.2L160.9 379.5L161.1 379.8L161.3 380.1L161.4 380.4L161.6 380.7L161.7 380.9L161.9 381.2L162 381.4L162.2 381.8L162.3 381.9L162.5 382L162.6 382L162.8 382L163 382L163.1 382L163.3 382.1L163.4 382.1L163.6 382.2L163.7 382.2L163.9 382.2L164 382.2L164.2 382.3L164.4 274.1L164.5 272.8L164.7 269.9L164.8 270.2L165 269.8L165.1 270L165.3 270.5L165.4 269.1L165.6 268.6L165.7 269.3L165.9 268.8L166.1 268.9L166.2 268.1L166.4 268L166.5 267.7L166.7 267.5L166.8 267.2L167 266.3L167.1 267.5L167.3 267.5L167.5 267L167.6 266.7L167.8 265.8L167.9 266.5L168.1 265.7L168.2 267.3L168.4 266.9L168.5 268.4L168.7 267.1L168.9 265.8L169 267.8L169.2 267L169.3 267L169.5 266.8L169.6 266.5L169.8 266.5L169.9 268.1L170.1 267.4L170.2 267.2L170.4 267.8L170.6 267.7L170.7 268L170.9 267.4L171 268.1L171.2 267.4L171.3 268.4L171.5 268.6L171.6 267.7L171.8 268.1L172 268.4L172.1 268.8L172.3 269.2L172.4 269.3L172.6 269.3L172.7 269.8L172.9 268.9L173 270.1L173.2 270.9L173.3 271.2L173.5 274.1L173.7 276.2L173.8 277L174 280.1L174.1 281.5L174.3 285.1L174.4 288.3L174.6 290.7L174.7 293.6L174.9 297.1L175.1 300.1L175.2 305L175.4 308.6L175.5 312.7L175.7 316.6L175.8 317.4L176 318.3L176.1 318.7L176.3 319.7L176.5 320.2L176.6 321L176.8 321.6L176.9 322.4L177.1 323.5L177.2 322.9L177.4 323.1L177.5 322.9L177.7 323.5L177.8 323.3L178 321.8L178.2 321.8L178.3 321L178.5 320.6L178.6 319.5L178.8 320.4L178.9 320.8L179.1 320.7L179.2 321.2L179.4 321.2L179.6 321.3L179.7 322.4L179.9 321.9L180 322.7L180.2 323.6L180.3 323.4L180.5 323L180.6 324.1L180.8 324.1L180.9 324.9L181.1 325.3L181.3 325.3L181.4 325.5L181.6 325.8L181.7 326.5L181.9 326.9L182 327.1L182.2 327.5L182.3 327.2L182.5 327.9L182.7 328.1L182.8 328.5L183 329L183.1 329.1L183.3 329.5L183.4 329.6L183.6 329.9L183.7 330.3L183.9 330.5L184.1 331.1L184.2 331.5L184.4 331.3L184.5 332.1L184.7 332.7L184.8 332.5L185 332.9L185.1 333.3L185.3 333.7L185.4 334.1L185.6 333.8L185.8 334.6L185.9 334.6L186.1 334.8L186.2 335.4L186.4 335.6L186.5 336.2L186.7 336L186.8 336.5L187 336.9L187.2 337.2L187.3 337.9L187.5 337.8L187.6 338.9L187.8 339.8L187.9 340.2L188.1 340.3L188.2 340.5L188.4 341.8L188.5 341.8L188.7 342.9L188.9 344.1L189 345.2L189.2 347.4L189.3 348.3L189.5 349.2L189.6 351.1L189.8 352.1L189.9 353.6L190.1 354.8L190.3 356.1L190.4 356.6L190.6 358L190.7 358.7L190.9 359.7L191 360.7L191.2 361.8L191.3 362.9L191.5 363.5L191.7 364.7L191.8 365.7L192 366.4L192.1 367.7L192.3 368.6L192.4 369.2L192.6 369.8L192.7 370.4L192.9 370.9L193 371.4L193.2 372L193.4 372.7L193.5 373.2L193.7 373.7L193.8 374.3L194 374.8L194.1 375.4L194.3 376.1L194.4 376.7L194.6 376.8L194.8 377.2L194.9 377.4L195.1 377.7L195.2 378L195.4 378.2L195.5 378.6L195.7 378.8L195.8 379.1L196 379.5L196.1 379.7L196.3 380L196.5 380.2L196.6 380.5L196.8 380.8L196.9 381L197.1 381.3L197.2 381.6L197.4 381.8L197.5 382.1L197.7 382.3L197.9 382.6L198 382.9L198.2 383.1L198.3 383.3L198.5 383.6L198.6 383.9L198.8 384.1L198.9 384.4L199.1 384.6L199.3 384.9L199.4 385.1L199.6 385.4L199.7 385.7L199.9 385.9L200 386.2L200.2 386.3L200.3 386.5L200.5 386.6L200.6 386.8L200.8 386.9L201 387L201.1 387.2L201.3 387.3L201.4 387.5L201.6 387.6L201.7 387.8L201.9 387.9L202 388.1L202.2 388.2L202.2 388.3Z" fill="url(#stripe)"/>
<polyline points="50.28,331.54 50.36,374.11 50.74,374.11 50.82,374.97 50.9,374.11 50.98,374.11 51.05,331.54 51.13,367.72 51.21,372.34 51.29,374.11 51.44,374.11 51.52,368.08 51.6,372.81 51.67,374.11 51.75,373.94 51.83,373.33 51.91,373 51.98,374.11 52.06,371.77 52.14,369.54 52.22,370.87 52.29,374.11 52.37,368.79 52.45,371.11 52.53,374.11 52.6,299.75 52.68,362.96 52.76,374.11 52.84,374.11 52.91,374.3 52.99,374.19 53.07,373.01 53.15,374.11 53.22,374.11 53.3,374.24 53.38,374.11 53.46,374.11 53.53,374.09 53.61,374.11 53.77,374.11 53.84,373.98 53.92,374.11 54.08,374.11 54.16,374.11 54.23,374.11 54.31,374.16 54.39,374.11 54.47,374.31 54.54,374.11 54.7,374.11 54.78,373.46 54.85,374.11 54.93,374.49 55.01,374.11 55.24,374.11 55.32,373.86 55.4,373.99 55.47,374.11 55.94,374.11 56.02,373.64 56.09,374.11 56.17,374.11 56.25,374.27 56.33,374.11 56.56,374.11 56.64,373.63 56.71,374.33 56.79,374.46 56.87,374.11 57.1,374.11 57.18,374.2 57.26,374.11 57.33,374.11 57.41,365.03 57.49,374.11 57.57,373.87 57.64,374.11 57.95,374.11 58.03,374.49 58.11,374.11 58.19,374.24 58.27,374.11 58.65,374.11 58.73,374.41 58.81,374.11 58.89,374.11 58.96,373.58 59.04,374.11 59.35,374.11 59.43,374.13 59.51,374.11 60.05,374.11 60.13,374.26 60.2,374.11 60.44,374.11 60.51,374.07 60.59,374.11 60.67,373.9 60.75,374.11 60.82,374.11 61.75,374.11 61.83,373.61 61.91,374.11 62.3,374.11 62.38,373.55 62.45,374.66 62.53,374.11 62.61,374.11 62.69,266.98 62.76,358.04 62.84,374.11 62.92,374.15 63,374.11 63.07,374.61 63.15,374.11 63.46,374.11 63.54,374.47 63.62,374.16 63.69,374.11 63.93,374.11 64,374.42 64.08,374.11 64.16,374.11 64.24,373.8 64.31,374.11 64.39,374.43 64.47,374.11 64.55,374.14 64.62,374.11 64.86,374.11 64.93,375.18 65.01,374.11 65.71,374.11 65.79,374.25 65.87,374.11 65.94,374.11 66.02,374.09 66.1,374.11 66.18,374.34 66.25,374.11 66.56,374.11 66.64,374.65 66.72,374.11 67.8,374.11 67.88,373.62 67.96,374.11 68.04,374.44 68.11,374 68.19,374.11 68.42,374.11 68.5,363.89 68.58,374.11 68.66,374.11 68.73,373.89 68.81,374.11 68.97,374.11 69.04,374.45 69.12,374.18 69.2,373.74 69.28,374.11 69.9,374.11 69.98,374.39 70.05,374.11 70.13,374.81 70.21,374.11 70.75,374.11 70.83,374.49 70.91,374.11 70.98,374.28 71.06,374.11 71.14,374.11 71.22,373.85 71.29,374.11 71.37,374.11 71.45,373.42 71.53,374.11 71.76,374.11 71.84,374.17 71.91,373.67 71.99,374.11 72.15,374.11 72.22,373.97 72.3,373.61 72.38,373.93 72.46,374.11 72.53,374.11 72.61,374.08 72.69,374.11 72.92,374.11 73,374.09 73.08,374.11 73.39,374.11 73.47,373.85 73.54,374.11 73.62,374.41 73.7,374.11 73.78,373.73 73.85,374.11 75.09,374.11 75.17,374.27 75.25,374.11 75.33,373.8 75.4,374.11 76.1,374.11 76.18,373.94 76.26,374.11 76.72,374.11 76.8,374.85 76.88,374.11 77.03,374.11 77.11,374.47 77.19,374.11 77.42,374.11 77.5,373.67 77.58,373.78 77.65,374.11 77.73,374.11 78.35,374.11 78.43,373.93 78.51,374.11 78.58,374.32 78.66,374.11 79.05,374.11 79.13,373.99 79.2,374.11 79.28,374.11 79.36,377.94 79.44,374.11 79.51,373.89 79.59,374.11 79.67,374.11 79.75,374.22 79.82,374.11 79.9,374.34 79.98,374.11 80.21,374.11 80.29,356.09 80.37,374.11 80.68,374.11 80.75,373.58 80.83,374.11 80.99,374.11 81.06,374.69 81.14,374.11 81.38,374.11 81.45,373.77 81.53,374.51 81.61,374.11 81.69,374.07 81.76,373.57 81.84,374.11 82,374.11 82.07,373.42 82.15,374.11 82.54,374.11 82.62,374.09 82.69,374.06 82.77,374.09 82.85,374.02 82.93,374.46 83,374.11 83.31,374.11 83.39,374.32 83.47,374.25 83.55,374.11 83.86,374.11 83.93,374.12 84.01,374.46 84.09,374.11 84.79,374.11 84.86,374.49 84.94,374.11 85.02,374.11 85.1,374.19 85.18,374.11 85.25,373.81 85.33,374.11 85.56,374.11 85.64,374.25 85.72,374.11 86.26,374.11 86.34,374.73 86.42,374.11 86.49,374.11 86.57,374.31 86.65,374.11 86.96,374.11 87.04,374.18 87.11,374.11 87.35,374.11 87.42,373.38 87.5,374.11 87.66,374.11 87.73,374.33 87.81,374.11 87.89,374.11 87.97,374.06 88.04,373.89 88.12,373.97 88.2,374.11 88.43,374.11 88.51,371.27 88.59,374.11 89.44,374.11 89.52,372.83 89.6,374.86 89.67,374.11 90.22,374.11 90.29,373.66 90.37,374.08 90.45,374.04 90.53,374.11 90.6,374.03 90.68,373.48 90.76,374.11 91.69,374.11 91.77,374.19 91.84,374.11 91.92,374.11 92,373.11 92.08,374.11 92.15,376.95 92.23,374.11 92.7,374.11 92.77,331.97 92.85,367.79 92.93,374.11 93.63,374.11 93.71,374.07 93.78,374.11 93.86,374.11 93.94,374.55 94.02,374.11 94.09,374.27 94.17,374.11 94.87,374.11 94.95,374.3 95.02,373.63 95.1,374.04 95.18,373.42 95.26,373.97 95.33,374.11 95.41,364.18 95.49,374.26 95.57,374.11 95.8,374.11 95.88,373.73 95.95,374.11 96.11,374.11 96.19,373.65 96.26,373.64 96.34,374.11 96.89,374.11 96.96,373.9 97.04,374.11 97.12,374.11 97.2,374.22 97.27,373.85 97.35,374.11 97.43,374.11 97.51,374.15 97.58,374.11 97.74,374.11 97.82,373.57 97.89,374.11 98.98,374.11 99.06,374.43 99.13,374.54 99.21,374.11 99.29,373.7 99.37,374.11 99.6,374.11 99.68,374.86 99.75,374.11 99.83,374.27 99.91,374.11 99.99,373.84 100.06,374.42 100.14,374.11 101.31,374.11 101.38,373.88 101.46,374.11 101.54,374.19 101.62,374.64 101.69,374.11 101.93,374.11 102,373.98 102.08,374.91 102.16,374.11 102.47,374.11 102.55,374.06 102.62,374.11 102.7,374.11 102.78,373.9 102.86,374.11 103.09,374.11 103.17,368.86 103.24,374.11 103.4,374.11 103.48,374.52 103.55,374.11 103.71,374.11 103.79,374.39 103.86,374.11 105.49,374.11 105.57,373.58 105.65,374.11 106.04,374.11 106.11,374.42 106.19,374.11 106.66,374.11 106.73,373.54 106.81,374.11 106.89,373.62 106.97,374.11 107.35,374.11 107.43,374.52 107.51,374.11 107.59,374.12 107.66,374.11 107.74,374.65 107.82,374.11 108.13,374.11 108.21,374.53 108.28,374.11 108.52,374.11 108.6,374.35 108.67,374.11 109.22,374.11 109.29,374.05 109.37,374.11 109.45,373.85 109.53,374.11 109.6,374.53 109.68,374.11 110.22,374.11 110.3,374.21 110.38,373.51 110.46,374.11 110.92,374.11 111,374.24 111.08,374.44 111.15,373.63 111.23,374.11 111.31,373.69 111.39,374.11 111.46,374.11 111.54,374.11 111.62,374.11 112.01,374.11 112.08,373.73 112.16,374.11 112.24,374.46 112.32,374.11 112.55,374.11 112.63,374.27 112.71,374.11 112.86,374.11 112.94,374.2 113.02,374.41 113.09,374.11 113.48,374.11 113.56,374.14 113.64,374.11 113.79,374.11 113.87,373.7 113.95,373.7 114.02,374.11 114.1,374.08 114.18,374.11 114.57,374.11 114.64,373.7 114.72,374.11 115.03,374.11 115.11,373.92 115.19,374.11 115.65,374.11 115.73,375.46 115.81,374.67 115.88,373.82 115.96,374.62 116.04,374.11 116.2,374.11 116.27,374.26 116.35,374.61 116.43,374.11 116.51,374.21 116.58,374.11 117.05,374.11 117.13,374.15 117.2,374.11 117.51,374.11 117.59,374.47 117.67,374.11 117.98,374.11 118.06,377.23 118.13,374.11 118.6,374.11 118.68,366.31 118.75,374.75 118.83,373.87 118.91,374.11 119.06,374.11 119.14,374.21 119.22,374.11 119.45,374.11 119.53,374.16 119.61,374.11 119.68,374.26 119.76,374.13 119.84,374.11 119.92,373.74 119.99,365.6 120.07,374.11 120.77,374.11 120.85,373.52 120.93,374.11 121,374.11 121.08,374.2 121.16,374.11 121.24,374.11 121.31,374.11 121.55,374.11 121.62,365.6 121.7,373.91 121.78,374.11 121.86,373.76 121.93,374.11 122.09,374.11 122.17,374 122.24,374.11 122.32,374.06 122.4,374.11 122.48,373.92 122.55,374.11 122.86,374.11 122.94,374.23 123.02,374.11 123.17,374.11 123.25,374.31 123.33,374.35 123.41,374.11 123.48,374.11 123.56,374.19 123.64,374.11 123.72,373.94 123.79,373.23 123.87,374.11 124.34,374.11 124.42,374.26 124.49,374.11 124.57,373.82 124.65,374.11 125.19,374.11 125.27,373.78 125.35,374.11 125.42,374.11 125.5,374.3 125.58,373.74 125.66,373.84 125.73,373.67 125.81,373.52 125.89,374.11 126.43,374.11 126.51,373.86 126.59,374.11 126.97,374.11 127.05,374.39 127.13,374.11 127.91,374.11 127.98,374.02 128.06,374.11 128.37,374.11 128.45,373.9 128.53,340.05 128.6,369 128.68,374.11 128.76,373.8 128.84,374.11 129.07,374.11 129.15,374.25 129.22,374.11 129.53,374.11 129.61,374.41 129.69,374.11 129.77,374.11 129.84,374.22 129.92,374.67 130,374.11 130.23,374.11 130.31,374.01 130.39,374.11 130.62,374.11 130.7,373.86 130.77,374.11 131.16,374.11 131.24,374.33 131.32,374.39 131.39,374.11 131.47,374.11 131.55,374.06 131.63,374.11 132.02,374.11 132.09,373.62 132.17,373.85 132.25,374.11 132.33,374.25 132.4,373.74 132.48,374.11 132.79,374.11 132.87,373.83 132.95,374.11 133.02,373.87 133.1,374.11 133.64,374.11 133.72,373.99 133.8,374.11 134.34,374.11 134.42,373.57 134.5,374.11 134.57,374.11 134.65,373.86 134.73,374.11 135.35,374.11 135.43,373.36 135.5,374.32 135.58,374.11 136.28,374.11 136.36,374.2 136.44,374.12 136.51,374.11 136.59,373.81 136.67,373.83 136.75,374.11 136.9,374.11 136.98,373.98 137.06,374.11 137.13,373.41 137.21,374.01 137.29,374.11 137.37,374.23 137.44,374.1 137.52,373.64 137.6,367.44 137.68,374.11 137.75,379.79 137.83,374.11 137.99,374.11 138.06,373.31 138.14,374.11 138.22,374.11 138.3,374.62 138.37,374.34 138.45,374.11 138.61,374.11 138.68,374.11 138.76,374.43 138.84,374.11 138.92,373.48 138.99,374.11 139.3,374.11 139.38,374.37 139.46,374.44 139.54,374.05 139.62,374.11 139.69,374.64 139.77,374.11 139.93,374.11 140,374.5 140.08,374.11 140.16,374.11 140.24,373.27 140.31,374.11 140.55,374.11 140.62,374.17 140.7,373.5 140.78,374.11 141.48,374.11 141.55,374.03 141.63,374.11 141.71,374.11 141.79,374.04 141.86,374.11 141.94,373.41 142.02,374.16 142.1,374.11 142.17,374.07 142.25,374.11 142.41,374.11 142.48,371.27 142.56,374.11 142.64,374.11 142.72,373.94 142.79,374.11 143.1,374.11 143.18,374.52 143.26,373.54 143.34,374.01 143.42,374.11 143.49,374.11 143.57,373.57 143.65,374.11 143.73,373.86 143.8,374.11 143.88,373.89 143.96,374.6 144.04,374.11 144.11,373.81 144.19,374.11 144.81,374.11 144.89,374.04 144.97,374.11 145.28,374.11 145.35,374.05 145.43,374.11 145.74,374.11 145.82,374.06 145.9,374.11 146.13,374.11 146.21,374.05 146.28,374.11 146.9,374.11 146.98,374.04 147.06,374.11 147.45,374.11 147.53,374.34 147.6,374.11 148.22,374.11 148.3,371.98 148.38,374.11 148.46,374.11 148.53,374.43 148.61,374.11 148.69,374.11 148.77,373.73 148.84,374.11 148.92,374.11 149,373.92 149.08,374.25 149.15,374.11 149.39,374.11 149.46,373.99 149.54,374.11 150.01,374.11 150.08,373.77 150.16,374.11 150.24,373.99 150.32,373.95 150.39,374.11 150.63,374.11 150.7,374.44 150.78,374.11 150.94,374.11 151.01,373.75 151.09,374.06 151.17,374.11 151.25,374.11 151.33,373.64 151.4,374.11 151.79,374.11 151.87,374.5 151.95,374.11 152.02,374.11 152.1,374.06 152.18,374.11 152.64,374.11 152.72,374.1 152.8,374.11 153.26,374.11 153.34,374.62 153.42,374.11 154.12,374.11 154.19,374.14 154.27,374.11 154.35,374.11 154.43,373.75 154.5,374.11 155.44,374.11 155.51,369.14 155.59,374.11 155.98,374.11 156.06,373.71 156.13,374.11 156.29,374.11 156.37,374.05 156.44,374.11 156.68,374.11 156.75,374.48 156.83,374.41 156.91,374.07 156.99,374.11 157.06,374.11 157.14,374.4 157.22,374.11 157.53,374.11 157.61,373.83 157.68,374.11 157.76,374.19 157.84,374.11 158.23,374.11 158.3,374.54 158.38,374.11 158.46,374.11 158.54,373.95 158.61,374.11 158.69,373.85 158.77,374.11 158.93,374.11 159,374.13 159.08,374.11 159.39,374.11 159.47,374.34 159.55,374.29 159.62,374.11 159.86,374.11 159.93,374.1 160.01,374.11 160.63,374.11 160.71,374.15 160.79,374.11 160.86,374.11 160.94,373.53 161.02,374.11 161.33,374.11 161.41,374.15 161.48,374.11 161.64,374.11 161.72,373.73 161.79,374.11 162.49,374.11 162.57,374.38 162.65,374.11 162.73,374.11 162.8,337.78 162.88,368.66 162.96,374.11 163.27,374.11 163.35,374.24 163.42,374.11 163.97,374.11 164.04,373.82 164.12,374.11 164.2,374.11 164.28,374.2 164.35,374.11 164.43,374.11 164.51,292.38 164.59,361.85 164.66,374.11 164.9,374.11 164.97,373.61 165.05,374.11 165.13,373.77 165.21,374.11 165.28,374.24 165.36,374.11 166.21,374.11 166.29,373.98 166.37,374.11 166.76,374.11 166.84,373.93 166.91,374.11 166.99,374.11 167.07,374.06 167.15,374.11 167.84,374.11 167.92,373.88 168,374.11 168.08,374.23 168.15,374.11 168.62,374.11 168.7,374.41 168.77,374.11 169.63,374.11 169.7,373.73 169.78,374.11 170.01,374.11 170.09,373.82 170.17,374.51 170.25,374.11 170.32,374.07 170.4,374.11 170.87,374.11 170.95,373.64 171.02,373.99 171.1,373.89 171.18,374.11 171.49,374.11 171.57,374.11 171.64,374.11 171.88,374.11 171.95,373.66 172.03,373.93 172.11,374.11 172.19,374.65 172.26,374.11 172.34,374.53 172.42,374.11 173.04,374.11 173.12,373.82 173.19,373.8 173.27,374.11 173.35,374.33 173.43,374.11 173.5,374.37 173.58,374.1 173.66,374.11 173.97,374.11 174.05,374.52 174.12,373.95 174.2,374.11 174.28,374.11 174.36,374.46 174.44,374.54 174.51,374.57 174.59,373.99 174.67,374.11 175.37,374.11 175.44,373.9 175.52,373.76 175.6,374.11 175.91,374.11 175.99,374.17 176.06,374.11 176.14,374.29 176.22,374.11 176.3,374.02 176.37,373.65 176.45,374.11 176.53,374.11 176.61,373.84 176.68,374.11 176.76,374.11 176.84,373.97 176.92,374.11 177.3,374.11 177.38,374.03 177.46,374.11 177.85,374.11 177.92,374.42 178,374.11 178.24,374.11 178.31,374.23 178.39,374.11 178.47,353.53 178.55,374.11 178.62,373.97 178.7,374.11 178.78,373.96 178.86,374.11 178.93,374.11 179.01,373.84 179.09,374.11 179.17,373.66 179.24,374.11 179.32,374.35 179.4,374.11 179.48,374.51 179.55,374.11 179.79,374.11 179.86,373.73 179.94,374.11 180.41,374.11 180.48,374.49 180.56,374.11 180.87,374.11 180.95,373.92 181.03,374.11 181.8,374.11 181.88,374.1 181.96,374.11 182.03,373.77 182.11,374.11 182.5,374.11 182.58,373.99 182.66,374.11 183.74,374.11 183.82,373.8 183.9,374.11 183.97,374.11 184.05,373.32 184.13,374.11 184.21,374.11 184.28,373.54 184.36,374.11 185.14,374.11 185.21,374.1 185.29,374.11 185.37,374.11 185.45,373.71 185.52,374.48 185.6,374.11 185.68,374.11 185.76,374.16 185.83,374.11 185.99,374.11 186.07,373.51 186.15,374.07 186.22,374.11 186.53,374.11 186.61,373.9 186.69,374.11 187,374.11 187.08,374.39 187.15,374.11 187.23,374.41 187.31,374.11 187.39,374.22 187.46,374.11 188.16,374.11 188.24,373.85 188.32,374.11 188.47,374.11 188.55,374.01 188.63,374.11 188.78,374.11 188.86,374.39 188.94,373.85 189.01,374.11 189.09,374.55 189.17,373.95 189.25,373.6 189.32,374.09 189.4,374.11 189.48,374.11 189.56,374.19 189.63,374.5 189.71,373.92 189.79,374.11 189.87,374.11 189.95,374.01 190.02,374.75 190.1,374.11 190.18,373.86 190.26,374.11 190.88,374.11 190.95,373.7 191.03,374.11 191.11,374.19 191.19,374.11 191.26,373.45 191.34,374.11 191.57,374.11 191.65,373.85 191.73,374.11 191.96,374.11 192.04,373.52 192.12,373.73 192.19,374.11 192.35,374.11 192.43,373.97 192.5,374.11 192.81,374.11 192.89,374.28 192.97,373.85 193.05,374.11 193.12,374.33 193.2,374.11 193.28,374.11 193.36,374.05 193.43,374.11 193.51,378.93 193.59,374.11 193.82,374.11 193.9,374.45 193.98,374.11 194.13,374.11 194.21,374.63 194.29,374.11 194.37,374.11 194.44,373.21 194.52,374.11 194.6,374.25 194.68,374.11 194.75,374.11 194.83,374.22 194.91,374.11 195.92,374.11 195.99,374.17 196.07,374.11 196.15,374.2 196.23,374.7 196.3,374.11 196.38,374.79 196.46,374.11 196.92,374.11 197,374.54 197.08,374.11 197.16,374.26 197.23,374.82 197.31,374.8 197.39,374.11 197.47,373.76 197.55,374.11 197.62,374.63 197.7,374.64 197.78,373.98 197.86,374.11 198.01,374.11 198.09,375.03 198.17,374.11 198.48,374.11 198.55,374.83 198.63,374.49 198.71,374.11 198.79,374.12 198.86,374.42 198.94,374.1 199.02,374.62 199.1,374.12 199.17,374.11 199.25,375.08 199.33,374.11 199.41,374.11 199.48,374.08 199.56,374.47 199.64,374.24 199.72,374.49 199.79,374.11 199.95,374.11 200.03,374.21 200.1,374.11 200.18,374.03 200.26,374.11 200.34,374.12 200.41,374.11 200.57,374.11 200.65,374.67 200.72,374.11 200.88,374.11 200.96,373.5 201.03,374.09 201.11,374.55 201.19,374.19 201.27,373.62 201.34,375.05 201.42,377.16 201.5,374.34 201.58,375.21 201.66,375.3 201.73,377.53 201.81,374.11 201.89,381.28 201.97,380.3 202.04,381.77 202.12,376.34 202.2,374.11 202.35,374.11 202.43,374.41 202.51,374.11 202.74,374.11 202.82,373.48 202.9,374.11 202.97,374.11 203.05,374.03 203.13,374.11 203.21,374.11 203.28,373.71 203.36,374.11 203.9,374.11 203.98,374.06 204.06,374.11 204.14,374.11 204.21,374.94 204.29,374.64 204.37,374.11 204.52,374.11 204.6,373.28 204.68,373.95 204.76,374.11 204.83,374.11 204.91,380.99 204.99,374.11 205.07,374.65 205.14,381.1 205.22,375.82 205.3,379.17 205.38,378.23 205.46,374.11 205.53,376.36 205.61,374.11 205.69,374.11 205.77,374.52 205.84,376.94 205.92,374.11 206,380.16 206.08,374.11 206.15,376.59 206.23,375.71 206.31,375.65 206.39,375.94 206.46,374.11 206.54,373.72 206.62,374.11 206.7,373.59 206.77,374.11 206.93,374.11 207.01,374.19 207.08,374.11 207.16,373.69 207.24,374.11 207.63,374.11" fill="none" stroke="#FF0000" stroke-width="0.75" stroke-linejoin="miter" stroke-miterlimit="2"/>
<path d="M50.28 374.11H207.63" fill="none" stroke="#FF0000" stroke-width="1.0"/>
<path d="M42.5 239.3V388.3H216V239.3M42.5 388.3h-1.9M42.5 352.82h-1.9M42.5 317.35h-1.9M42.5 281.88h-1.9M42.5 246.4h-1.9M216 388.3h1.9M216 352.82h1.9M216 317.35h1.9M216 281.88h1.9M216 246.4h1.9M50.2 388.3v1.9M88.97 388.3v1.9M127.75 388.3v1.9M166.52 388.3v1.9M205.3 388.3v1.9" fill="none" stroke="#333333" stroke-width="1"/>
<g font-size="10.8" fill="#4D4D4D"><text x="39.4" y="392.8" text-anchor="end">0</text><text x="39.4" y="357.32" text-anchor="end">1000</text><text x="39.4" y="321.85" text-anchor="end">2000</text><text x="39.4" y="286.38" text-anchor="end">3000</text><text x="39.4" y="250.9" text-anchor="end">4000</text><text x="219" y="392.8">0.0</text><text x="219" y="357.32">2.5</text><text x="219" y="321.85">5.0</text><text x="219" y="286.38">7.5</text><text x="219" y="250.9">10.0</text><text x="50.2" y="399.3" text-anchor="middle">0</text><text x="88.97" y="399.3" text-anchor="middle">500</text><text x="127.75" y="399.3" text-anchor="middle">1000</text><text x="166.52" y="399.3" text-anchor="middle">1500</text><text x="205.3" y="399.3" text-anchor="middle">2000</text></g>
<text x="116.99" y="232" font-size="14.2">2000-1</text>
<text x="129.25" y="413" font-size="14.0" text-anchor="middle">Position</text>
<text transform="translate(11 316) rotate(-90)" font-size="14.0" text-anchor="middle">Coverage (-)</text>
<text transform="translate(241.5 314.1) rotate(90)" font-size="14.0" text-anchor="middle">RCI (-)</text>
</g>
<g>
<path d="M314.3 388.3L314.3 388.3L314.4 354.7L314.6 354.7L314.7 354.4L314.9 354.4L315 354.6L315.2 354.1L315.3 354.4L315.5 354.4L315.6 354.3L315.8 354.1L316 354.3L316.1 354.4L316.3 354.2L316.4 354L316.6 354.1L316.7 353.9L316.9 354.1L317 353.9L317.2 354L317.4 352.7L317.5 350.6L317.7 349.1L317.8 348.9L318 348.9L318.1 348.9L318.3 348.9L318.4 348.7L318.6 348.5L318.7 348.4L318.9 348.7L319.1 348.6L319.2 348.3L319.4 348.4L319.5 348.7L319.7 348.6L319.8 348.4L320 348.4L320.1 348.7L320.3 348.6L320.5 348.3L320.6 348.6L320.8 348.6L320.9 348.4L321.1 348.4L321.2 348.5L321.4 348.5L321.5 348.4L321.7 348.4L321.8 348.2L322 348.7L322.2 348.1L322.3 348L322.5 348.1L322.6 348.3L322.8 347.2L322.9 346.3L323.1 345.7L323.2 345.9L323.4 345.9L323.6 346L323.7 345.9L323.9 345.8L324 346.2L324.2 346L324.3 345.6L324.5 346.1L324.6 345.7L324.8 345.6L324.9 345.8L325.1 346L325.3 345.7L325.4 346.5L325.6 347.6L325.7 348.8L325.9 350L326 350.8L326.2 352L326.3 353.1L326.5 354.2L326.7 355.2L326.8 356.4L327 357.2L327.1 358.6L327.3 359.4L327.4 360.5L327.6 361.6L327.7 362.6L327.9 363.6L328 364.8L328.2 365.8L328.4 365.6L328.5 365.8L328.7 365.8L328.8 366L329 366L329.1 365.9L329.3 366L329.4 365.9L329.6 366L329.8 366.2L329.9 366L330.1 366.1L330.2 366.4L330.4 366L330.5 366L330.7 366.1L330.8 366.2L331 366.3L331.1 366.2L331.3 366.5L331.5 366.6L331.6 366.8L331.8 379L331.9 379L332.1 379L332.2 379L332.4 378.8L332.5 379L332.7 379.1L332.9 379.1L333 379L333.2 379L333.3 379L333.5 379L333.6 379L333.8 379.1L333.9 378.9L334.1 379L334.2 379L334.4 378.9L334.6 378.9L334.7 379L334.9 379.1L335 377.8L335.2 375.3L335.3 372.7L335.5 371.5L335.6 371.7L335.8 371.7L336 371.8L336.1 372.1L336.3 372.2L336.4 372.2L336.6 372.4L336.7 372.5L336.9 372.5L337 372.6L337.2 372.7L337.3 372.9L337.5 373L337.7 373L337.8 373.3L338 373.3L338.1 373.2L338.3 373.5L338.4 373.5L338.6 373.7L338.7 373.6L338.9 373.5L339.1 373.7L339.2 373.7L339.4 373.8L339.5 373.9L339.7 373.7L339.8 373.9L340 373.9L340.1 374L340.3 374L340.4 374L340.6 373.9L340.8 374L340.9 374.1L341.1 379L341.2 379L341.4 379L341.5 379L341.7 379L341.8 378.9L342 379L342.2 379L342.3 379.1L342.5 379L342.6 379L342.8 379.1L342.9 368L343.1 356.8L343.2 357.1L343.4 357.3L343.5 357L343.7 357.2L343.9 357.2L344 357.4L344.2 357.1L344.3 357.3L344.5 357.5L344.6 357.3L344.8 357.6L344.9 357.6L345.1 357.7L345.3 358.1L345.4 357.9L345.6 358L345.7 358.2L345.9 358.2L346 358L346.2 358.2L346.3 358.4L346.5 358.5L346.6 358.3L346.8 358.5L347 358.5L347.1 358.4L347.3 358.3L347.4 358.5L347.6 358.5L347.7 358.7L347.9 281.8L348 280.9L348.2 281.2L348.4 281.6L348.5 282.5L348.7 282.8L348.8 283.3L349 284.4L349.1 283.9L349.3 283L349.4 285.3L349.6 285.4L349.7 285.5L349.9 285.9L350.1 287L350.2 286.8L350.4 287.1L350.5 288.2L350.7 288.6L350.8 287.7L351 288.6L351.1 289L351.3 289.2L351.5 290L351.6 290.7L351.8 290.8L351.9 290.3L352.1 291.1L352.2 292.2L352.4 290.9L352.5 292.7L352.7 293.1L352.8 292.8L353 293.6L353.2 293.5L353.3 295.5L353.5 296.4L353.6 298.3L353.8 298.7L353.9 299.8L354.1 301.1L354.2 301.7L354.4 302.6L354.6 302.9L354.7 304.1L354.9 305.4L355 306.8L355.2 306.6L355.3 306.3L355.5 307.4L355.6 307.1L355.8 308L355.9 306.9L356.1 307.3L356.3 307.1L356.4 307.7L356.6 307.7L356.7 308L356.9 308.2L357 308.2L357.2 309.2L357.3 311.8L357.5 312.7L357.7 313.8L357.8 315.3L358 317.4L358.1 318.3L358.3 320.1L358.4 321.2L358.6 321.8L358.7 324.3L358.9 328.1L359 330.4L359.2 333.7L359.4 337L359.5 339.8L359.7 342.5L359.8 344.6L360 346.2L360.1 348.9L360.3 349.9L360.4 350.1L360.6 350.3L360.8 351.1L360.9 351.3L361.1 351.3L361.2 351.5L361.4 351.6L361.5 351.9L361.7 352.2L361.8 352.6L362 352.5L362.1 352.7L362.3 352.9L362.5 353.5L362.6 353.5L362.8 353.5L362.9 354.2L363.1 354.1L363.2 354.1L363.4 354.5L363.5 354.9L363.7 354.8L363.9 348.2L364 341.5L364.2 341.5L364.3 341L364.5 348.2L364.6 355.4L364.8 357.1L364.9 358.7L365.1 360.2L365.2 361.7L365.4 363.3L365.6 363.8L365.7 364.6L365.9 365L366 365.7L366.2 366.4L366.3 367.1L366.5 367.6L366.6 368.4L366.8 369L367 369.9L367.1 370.3L367.3 369.8L367.4 369.5L367.6 368.8L367.7 368.4L367.9 368.1L368 367.6L368.2 367.2L368.3 366.4L368.5 365.9L368.7 365.6L368.8 365.3L369 364.8L369.1 364.1L369.3 363.7L369.4 363.3L369.6 363.3L369.7 363.7L369.9 363.6L370.1 363.7L370.2 363.9L370.4 364L370.5 364L370.7 364.1L370.8 364.2L371 364.3L371.1 364.4L371.3 364.6L371.4 364.5L371.6 364.8L371.8 365L371.9 365.3L372.1 365.7L372.2 366.3L372.4 366.6L372.5 366.9L372.7 367.3L372.8 367.9L373 368.3L373.2 368.6L373.3 369.2L373.5 369.5L373.6 370.1L373.8 370.6L373.9 370.7L374.1 371.3L374.2 371.2L374.4 371.2L374.5 371.4L374.7 371.3L374.9 371.4L375 371.6L375.2 371.6L375.3 371.5L375.5 371.6L375.6 371.6L375.8 371.7L375.9 360.7L376.1 360.4L376.3 360.7L376.4 360.6L376.6 360.9L376.7 361.1L376.9 361.1L377 361.1L377.2 361.4L377.3 361.5L377.5 361.6L377.6 361.6L377.8 361.9L378 362.1L378.1 362L378.3 362.2L378.4 362.3L378.6 362.8L378.7 362.8L378.9 363.1L379 363.2L379.2 363.6L379.4 363.9L379.5 364.2L379.7 364.5L379.8 364.6L380 364.9L380.1 365.3L380.3 365.3L380.4 365.5L380.6 366L380.7 366.2L380.9 366.5L381.1 366.6L381.2 367L381.4 367L381.5 367.4L381.7 367.7L381.8 368L382 368.1L382.1 368.5L382.3 368.6L382.5 368.6L382.6 368.6L382.8 368.5L382.9 368.8L383.1 368.6L383.2 368.7L383.4 368.7L383.5 324.7L383.7 325.2L383.8 325.1L384 326.1L384.2 327.5L384.3 326.9L384.5 327.3L384.6 327.6L384.8 328.5L384.9 328.4L385.1 329.2L385.2 329.3L385.4 329.6L385.6 330.8L385.7 330.9L385.9 331L386 330.9L386.2 331.6L386.3 331.5L386.5 331.2L386.6 331.8L386.8 331.7L386.9 331.5L387.1 331.6L387.3 331.5L387.4 331.9L387.6 331.8L387.7 331.5L387.9 332L388 331.9L388.2 331.8L388.3 332L388.5 332.2L388.7 332.5L388.8 332.3L389 332.9L389.1 333.3L389.3 333.9L389.4 334.3L389.6 335.5L389.7 335.8L389.9 336.5L390 337.6L390.2 338L390.4 338.9L390.5 339.5L390.7 340.3L390.8 340.3L391 341.4L391.1 342.5L391.3 344.1L391.4 345.1L391.6 346.8L391.8 348.2L391.9 349.7L392.1 350.5L392.2 351.7L392.4 353.1L392.5 354.5L392.7 355.9L392.8 357L393 358.2L393.1 359.7L393.3 361L393.5 361.5L393.6 362.2L393.8 363L393.9 363.3L394.1 363.8L394.2 364.4L394.4 364.9L394.5 337.7L394.7 337.5L394.9 336.4L395 335.2L395.2 335L395.3 334.6L395.5 334.8L395.6 333.8L395.8 333.3L395.9 332.9L396.1 332.5L396.2 332.5L396.4 331.9L396.6 332L396.7 331.2L396.9 331.5L397 331.7L397.2 331.4L397.3 332.3L397.5 332.5L397.6 332.6L397.8 333L398 333L398.1 333.5L398.3 333.2L398.4 333.8L398.6 333.6L398.7 333.8L398.9 334.2L399 334.3L399.2 334.4L399.3 335.4L399.5 336L399.7 337.5L399.8 338.9L400 341.6L400.1 342.4L400.3 344.7L400.4 346.9L400.6 348.4L400.7 350.2L400.9 351.9L401.1 352.6L401.2 352.9L401.4 353.6L401.5 354L401.7 354.8L401.8 355.4L402 356L402.1 356.5L402.3 357.1L402.4 357.7L402.6 358.7L402.8 358.8L402.9 359.7L403.1 360.2L403.2 360.9L403.4 361.3L403.5 362.1L403.7 362.6L403.8 363.4L404 363.1L404.2 363L404.3 362.8L404.5 362.7L404.6 362.7L404.8 362.5L404.9 362.5L405.1 362.3L405.2 362.2L405.4 362.1L405.5 361.8L405.7 362.9L405.9 363.5L406 364.2L406.2 364.7L406.3 365.3L406.5 366L406.6 366.8L406.8 367.4L406.9 368L407.1 368.7L407.3 369.3L407.4 369.7L407.6 369.3L407.7 369L407.9 368.7L408 368.6L408.2 368.4L408.3 368L408.5 367.7L408.6 367.6L408.8 367.4L409 367.1L409.1 367.3L409.3 367.5L409.4 367.3L409.6 367.7L409.7 367.8L409.9 368.1L410 368.1L410.2 368.4L410.4 368.8L410.5 368.7L410.7 368.8L410.8 369.2L411 369.4L411.1 369.6L411.3 369.8L411.4 369.6L411.6 369.3L411.7 369.1L411.9 368.8L412.1 368.7L412.2 368.5L412.4 368.2L412.5 367.9L412.7 368L412.8 368L413 368.1L413.1 368.2L413.3 368.2L413.5 368.3L413.6 368.3L413.8 368.2L413.9 368.4L414.1 368.1L414.2 368.4L414.4 368.3L414.5 368.5L414.7 368.4L414.8 368.5L415 368.5L415.2 368.4L415.3 368.7L415.5 368.8L415.6 368.5L415.8 368.8L415.9 368.7L416.1 368.8L416.2 368.7L416.4 368.8L416.6 369L416.7 368.9L416.9 369L417 368.9L417.2 369.1L417.3 369.1L417.5 368.9L417.6 369.1L417.8 369.2L417.9 369.3L418.1 369.5L418.3 369.6L418.4 370L418.6 370L418.7 370.1L418.9 370.4L419 370.3L419.2 370.4L419.3 371L419.5 370.9L419.7 371.1L419.8 371.3L420 371.3L420.1 371.5L420.3 371.6L420.4 371.9L420.6 372.1L420.7 371.9L420.9 371.9L421 372.1L421.2 372.1L421.4 372.2L421.5 372.2L421.7 372.2L421.8 372.3L422 372.4L422.1 359.4L422.3 359.2L422.4 359.5L422.6 359.5L422.8 359.6L422.9 359.7L423.1 359.4L423.2 359.9L423.4 359.9L423.5 359.5L423.7 360.2L423.8 360L424 360.1L424.1 360.1L424.3 360L424.5 360.1L424.6 360L424.8 360.1L424.9 360.2L425.1 360.3L425.2 360.5L425.4 360.6L425.5 360.5L425.7 360.5L425.9 360.5L426 360.7L426.2 361L426.3 361.1L426.5 361.4L426.6 361.5L426.8 361.5L426.9 361.9L427.1 362L427.2 362.2L427.4 362.4L427.6 362.5L427.7 362.5L427.9 362.9L428 363.1L428.2 363.2L428.3 363.2L428.5 363.5L428.6 363.8L428.8 364L429 364.2L429.1 364.4L429.3 364.4L429.4 364.6L429.6 364.8L429.7 364.8L429.9 365.1L430 365.4L430.2 366.1L430.3 366.5L430.5 367L430.7 367.5L430.8 367.7L431 368.4L431.1 368.8L431.3 369L431.4 369.7L431.6 370L431.7 370.6L431.9 371.5L432.1 372.2L432.2 372.8L432.4 373.6L432.5 374.3L432.7 375.1L432.8 375.8L433 376.6L433.1 377.3L433.3 378L433.4 378.7L433.6 379.7L433.8 380.5L433.9 381.4L434.1 382.3L434.2 383.1L434.4 383.1L434.5 383.1L434.7 383.1L434.8 383.1L435 261.5L435.2 261.9L435.3 260.4L435.5 259.2L435.6 261L435.8 261.9L435.9 261.5L436.1 260L436.2 262.1L436.4 259.8L436.5 261.2L436.7 261.3L436.9 259.6L437 259.9L437.2 260.8L437.3 262.3L437.5 261.5L437.6 260.8L437.8 261.3L437.9 261.4L438.1 262L438.3 261L438.4 261.7L438.6 260.7L438.7 261.7L438.9 262.7L439 260.7L439.2 261.8L439.3 262.2L439.5 261.5L439.6 261.7L439.8 262L440 262L440.1 263.4L440.3 262.1L440.4 264.4L440.6 263.2L440.7 263.6L440.9 264L441 263.9L441.2 264.4L441.4 264.8L441.5 265.7L441.7 267.2L441.8 265.4L442 268L442.1 268.2L442.3 269L442.4 269.4L442.6 268.9L442.7 269.4L442.9 269.5L443.1 270.3L443.2 271.4L443.4 271.6L443.5 274.1L443.7 275.5L443.8 275.6L444 278.7L444.1 279.7L444.3 280.5L444.5 281.9L444.6 283.9L444.8 285.8L444.9 286.4L445.1 287.5L445.2 288.9L445.4 290.3L445.5 289.9L445.7 290.8L445.8 291.4L446 292.8L446.2 292.8L446.3 292.9L446.5 292.7L446.6 292.4L446.8 293.4L446.9 294.6L447.1 295.3L447.2 295.3L447.4 295.8L447.6 297.1L447.7 298.1L447.9 298.4L448 300.4L448.2 300.9L448.3 302.7L448.5 303.8L448.6 305.1L448.8 307L448.9 308.3L449.1 309.9L449.3 311.8L449.4 311.4L449.6 312.1L449.7 311.4L449.9 311.2L450 312.6L450.2 311.6L450.3 312.1L450.5 312L450.7 312.6L450.8 312.7L451 313.7L451.1 313.8L451.3 314.5L451.4 315.6L451.6 316.1L451.7 317.4L451.9 333.4L452 349.2L452.2 349.2L452.4 349.3L452.5 349.1L452.7 349L452.8 349L453 349.5L453.1 349.4L453.3 330.1L453.4 310L453.6 309.3L453.8 309.7L453.9 309.3L454.1 309L454.2 308.3L454.4 308.4L454.5 308.4L454.7 307.8L454.8 308.2L455 307.2L455.1 307.2L455.3 307L455.5 307.3L455.6 306.5L455.8 306.4L455.9 306.5L456.1 306.3L456.2 306.1L456.4 305.9L456.5 306.1L456.7 306L456.9 305L457 305.2L457.2 304.9L457.3 305.7L457.5 304.6L457.6 305.2L457.8 305.4L457.9 305.2L458.1 306.2L458.2 306.9L458.4 307.3L458.6 306.7L458.7 307.2L458.9 308.4L459 308.6L459.2 309.1L459.3 308.7L459.5 309.7L459.6 309.9L459.8 310.4L460 310.8L460.1 311.2L460.3 311.9L460.4 312.4L460.6 313.2L460.7 313.6L460.9 313.3L461 313.8L461.2 315.9L461.3 318L461.5 319.8L461.7 322.5L461.8 323L462 325.4L462.1 327.5L462.3 329.5L462.4 331.4L462.6 333L462.7 334.1L462.9 335.1L463.1 336.4L463.2 337.1L463.4 338L463.5 339.5L463.7 340.5L463.8 342L464 342.7L464.1 343.9L464.3 344.9L464.4 345.5L464.6 347.2L464.8 348L464.9 348.8L465.1 350.1L465.2 351.3L465.4 352.5L465.5 354.5L465.7 355.9L465.8 357.6L466 359.5L466.2 361.2L466.3 362.8L466.5 364.4L466.6 366.5L466.8 368.1L466.9 369.7L467.1 371.6L467.2 373L467.4 374.7L467.5 376.1L467.7 377.6L467.9 379.2L468 380.7L468.2 382.4L468.3 383.9L468.5 385.4L468.6 386.9L468.8 388.3L468.8 388.3Z" fill="#1FACFE"/>
<path d="M314.3 388.3L314.3 388.3L314.4 354.7L314.6 354.7L314.7 354.4L314.9 354.4L315 354.6L315.2 354.1L315.3 354.4L315.5 354.4L315.6 354.3L315.8 354.1L316 354.3L316.1 354.4L316.3 354.2L316.4 354L316.6 354.1L316.7 353.9L316.9 354.1L317 353.9L317.2 354L317.4 352.7L317.5 350.6L317.7 349.1L317.8 348.9L318 348.9L318.1 348.9L318.3 348.9L318.4 348.7L318.6 348.5L318.7 348.4L318.9 348.7L319.1 348.6L319.2 348.3L319.4 348.4L319.5 348.7L319.7 348.6L319.8 348.4L320 348.4L320.1 348.7L320.3 348.6L320.5 348.3L320.6 348.6L320.8 348.6L320.9 348.4L321.1 348.4L321.2 348.5L321.4 348.5L321.5 348.4L321.7 348.4L321.8 348.2L322 348.7L322.2 348.1L322.3 348L322.5 348.1L322.6 348.3L322.8 347.2L322.9 346.3L323.1 345.7L323.2 345.9L323.4 345.9L323.6 346L323.7 345.9L323.9 345.8L324 346.2L324.2 346L324.3 345.6L324.5 346.1L324.6 345.7L324.8 345.6L324.9 345.8L325.1 346L325.3 345.7L325.4 346.5L325.6 347.6L325.7 348.8L325.9 350L326 350.8L326.2 352L326.3 353.1L326.5 354.2L326.7 355.2L326.8 356.4L327 357.2L327.1 358.6L327.3 359.4L327.4 360.5L327.6 361.6L327.7 362.6L327.9 363.6L328 364.8L328.2 365.8L328.4 365.6L328.5 365.8L328.7 365.8L328.8 366L329 366L329.1 365.9L329.3 366L329.4 365.9L329.6 366L329.8 366.2L329.9 366L330.1 366.1L330.2 366.4L330.4 366L330.5 366L330.7 366.1L330.8 366.2L331 366.3L331.1 366.2L331.3 366.5L331.5 366.6L331.6 366.8L331.8 379L331.9 379L332.1 379L332.2 379L332.4 378.8L332.5 379L332.7 379.1L332.9 379.1L333 379L333.2 379L333.3 379L333.5 379L333.6 379L333.8 379.1L333.9 378.9L334.1 379L334.2 379L334.4 378.9L334.6 378.9L334.7 379L334.9 379.1L335 377.8L335.2 375.3L335.3 372.7L335.5 371.5L335.6 371.7L335.8 371.7L336 371.8L336.1 372.1L336.3 372.2L336.4 372.2L336.6 372.4L336.7 372.5L336.9 372.5L337 372.6L337.2 372.7L337.3 372.9L337.5 373L337.7 373L337.8 373.3L338 373.3L338.1 373.2L338.3 373.5L338.4 373.5L338.6 373.7L338.7 373.6L338.9 373.5L339.1 373.7L339.2 373.7L339.4 373.8L339.5 373.9L339.7 373.7L339.8 373.9L340 373.9L340.1 374L340.3 374L340.4 374L340.6 373.9L340.8 374L340.9 374.1L341.1 379L341.2 379L341.4 379L341.5 379L341.7 379L341.8 378.9L342 379L342.2 379L342.3 379.1L342.5 379L342.6 379L342.8 379.1L342.9 368L343.1 356.8L343.2 357.1L343.4 357.3L343.5 357L343.7 357.2L343.9 357.2L344 357.4L344.2 357.1L344.3 357.3L344.5 357.5L344.6 357.3L344.8 357.6L344.9 357.6L345.1 357.7L345.3 358.1L345.4 357.9L345.6 358L345.7 358.2L345.9 358.2L346 358L346.2 358.2L346.3 358.4L346.5 358.5L346.6 358.3L346.8 358.5L347 358.5L347.1 358.4L347.3 358.3L347.4 358.5L347.6 358.5L347.7 358.7L347.9 281.8L348 280.9L348.2 281.2L348.4 281.6L348.5 282.5L348.7 282.8L348.8 283.3L349 284.4L349.1 283.9L349.3 283L349.4 285.3L349.6 285.4L349.7 285.5L349.9 285.9L350.1 287L350.2 286.8L350.4 287.1L350.5 288.2L350.7 288.6L350.8 287.7L351 288.6L351.1 289L351.3 289.2L351.5 290L351.6 290.7L351.8 290.8L351.9 290.3L352.1 291.1L352.2 292.2L352.4 290.9L352.5 292.7L352.7 293.1L352.8 292.8L353 293.6L353.2 293.5L353.3 295.5L353.5 296.4L353.6 298.3L353.8 298.7L353.9 299.8L354.1 301.1L354.2 301.7L354.4 302.6L354.6 302.9L354.7 304.1L354.9 305.4L355 306.8L355.2 306.6L355.3 306.3L355.5 307.4L355.6 307.1L355.8 308L355.9 306.9L356.1 307.3L356.3 307.1L356.4 307.7L356.6 307.7L356.7 308L356.9 308.2L357 308.2L357.2 309.2L357.3 311.8L357.5 312.7L357.7 313.8L357.8 315.3L358 317.4L358.1 318.3L358.3 320.1L358.4 321.2L358.6 321.8L358.7 324.3L358.9 328.1L359 330.4L359.2 333.7L359.4 337L359.5 339.8L359.7 342.5L359.8 344.6L360 346.2L360.1 348.9L360.3 349.9L360.4 350.1L360.6 350.3L360.8 351.1L360.9 351.3L361.1 351.3L361.2 351.5L361.4 351.6L361.5 351.9L361.7 352.2L361.8 352.6L362 352.5L362.1 352.7L362.3 352.9L362.5 353.5L362.6 353.5L362.8 353.5L362.9 354.2L363.1 354.1L363.2 354.1L363.4 354.5L363.5 354.9L363.7 354.8L363.9 348.2L364 341.5L364.2 341.5L364.3 341L364.5 348.2L364.6 355.4L364.8 357.1L364.9 358.7L365.1 360.2L365.2 361.7L365.4 363.3L365.6 363.8L365.7 364.6L365.9 365L366 365.7L366.2 366.4L366.3 367.1L366.5 367.6L366.6 368.4L366.8 369L367 369.9L367.1 370.3L367.3 369.8L367.4 369.5L367.6 368.8L367.7 368.4L367.9 368.1L368 367.6L368.2 367.2L368.3 366.4L368.5 365.9L368.7 365.6L368.8 365.3L369 364.8L369.1 364.1L369.3 363.7L369.4 363.3L369.6 363.3L369.7 363.7L369.9 363.6L370.1 363.7L370.2 363.9L370.4 364L370.5 364L370.7 364.1L370.8 364.2L371 364.3L371.1 364.4L371.3 364.6L371.4 364.5L371.6 364.8L371.8 365L371.9 365.3L372.1 365.7L372.2 366.3L372.4 366.6L372.5 366.9L372.7 367.3L372.8 367.9L373 368.3L373.2 368.6L373.3 369.2L373.5 369.5L373.6 370.1L373.8 370.6L373.9 370.7L374.1 371.3L374.2 371.2L374.4 371.2L374.5 371.4L374.7 371.3L374.9 371.4L375 371.6L375.2 371.6L375.3 371.5L375.5 371.6L375.6 371.6L375.8 371.7L375.9 360.7L376.1 360.4L376.3 360.7L376.4 360.6L376.6 360.9L376.7 361.1L376.9 361.1L377 361.1L377.2 361.4L377.3 361.5L377.5 361.6L377.6 361.6L377.8 361.9L378 362.1L378.1 362L378.3 362.2L378.4 362.3L378.6 362.8L378.7 362.8L378.9 363.1L379 363.2L379.2 363.6L379.4 363.9L379.5 364.2L379.7 364.5L379.8 364.6L380 364.9L380.1 365.3L380.3 365.3L380.4 365.5L380.6 366L380.7 366.2L380.9 366.5L381.1 366.6L381.2 367L381.4 367L381.5 367.4L381.7 367.7L381.8 368L382 368.1L382.1 368.5L382.3 368.6L382.5 368.6L382.6 368.6L382.8 368.5L382.9 368.8L383.1 368.6L383.2 368.7L383.4 368.7L383.5 324.7L383.7 325.2L383.8 325.1L384 326.1L384.2 327.5L384.3 326.9L384.5 327.3L384.6 327.6L384.8 328.5L384.9 328.4L385.1 329.2L385.2 329.3L385.4 329.6L385.6 330.8L385.7 330.9L385.9 331L386 330.9L386.2 331.6L386.3 331.5L386.5 331.2L386.6 331.8L386.8 331.7L386.9 331.5L387.1 331.6L387.3 331.5L387.4 331.9L387.6 331.8L387.7 331.5L387.9 332L388 331.9L388.2 331.8L388.3 332L388.5 332.2L388.7 332.5L388.8 332.3L389 332.9L389.1 333.3L389.3 333.9L389.4 334.3L389.6 335.5L389.7 335.8L389.9 336.5L390 337.6L390.2 338L390.4 338.9L390.5 339.5L390.7 340.3L390.8 340.3L391 341.4L391.1 342.5L391.3 344.1L391.4 345.1L391.6 346.8L391.8 348.2L391.9 349.7L392.1 350.5L392.2 351.7L392.4 353.1L392.5 354.5L392.7 355.9L392.8 357L393 358.2L393.1 359.7L393.3 361L393.5 361.5L393.6 362.2L393.8 363L393.9 363.3L394.1 363.8L394.2 364.4L394.4 364.9L394.5 337.7L394.7 337.5L394.9 336.4L395 335.2L395.2 335L395.3 334.6L395.5 334.8L395.6 333.8L395.8 333.3L395.9 332.9L396.1 332.5L396.2 332.5L396.4 331.9L396.6 332L396.7 331.2L396.9 331.5L397 331.7L397.2 331.4L397.3 332.3L397.5 332.5L397.6 332.6L397.8 333L398 333L398.1 333.5L398.3 333.2L398.4 333.8L398.6 333.6L398.7 333.8L398.9 334.2L399 334.3L399.2 334.4L399.3 335.4L399.5 336L399.7 337.5L399.8 338.9L400 341.6L400.1 342.4L400.3 344.7L400.4 346.9L400.6 348.4L400.7 350.2L400.9 351.9L401.1 352.6L401.2 352.9L401.4 353.6L401.5 354L401.7 354.8L401.8 355.4L402 356L402.1 356.5L402.3 357.1L402.4 357.7L402.6 358.7L402.8 358.8L402.9 359.7L403.1 360.2L403.2 360.9L403.4 361.3L403.5 362.1L403.7 362.6L403.8 363.4L404 363.1L404.2 363L404.3 362.8L404.5 362.7L404.6 362.7L404.8 362.5L404.9 362.5L405.1 362.3L405.2 362.2L405.4 362.1L405.5 361.8L405.7 362.9L405.9 363.5L406 364.2L406.2 364.7L406.3 365.3L406.5 366L406.6 366.8L406.8 367.4L406.9 368L407.1 368.7L407.3 369.3L407.4 369.7L407.6 369.3L407.7 369L407.9 368.7L408 368.6L408.2 368.4L408.3 368L408.5 367.7L408.6 367.6L408.8 367.4L409 367.1L409.1 367.3L409.3 367.5L409.4 367.3L409.6 367.7L409.7 367.8L409.9 368.1L410 368.1L410.2 368.4L410.4 368.8L410.5 368.7L410.7 368.8L410.8 369.2L411 369.4L411.1 369.6L411.3 369.8L411.4 369.6L411.6 369.3L411.7 369.1L411.9 368.8L412.1 368.7L412.2 368.5L412.4 368.2L412.5 367.9L412.7 368L412.8 368L413 368.1L413.1 368.2L413.3 368.2L413.5 368.3L413.6 368.3L413.8 368.2L413.9 368.4L414.1 368.1L414.2 368.4L414.4 368.3L414.5 368.5L414.7 368.4L414.8 368.5L415 368.5L415.2 368.4L415.3 368.7L415.5 368.8L415.6 368.5L415.8 368.8L415.9 368.7L416.1 368.8L416.2 368.7L416.4 368.8L416.6 369L416.7 368.9L416.9 369L417 368.9L417.2 369.1L417.3 369.1L417.5 368.9L417.6 369.1L417.8 369.2L417.9 369.3L418.1 369.5L418.3 369.6L418.4 370L418.6 370L418.7 370.1L418.9 370.4L419 370.3L419.2 370.4L419.3 371L419.5 370.9L419.7 371.1L419.8 371.3L420 371.3L420.1 371.5L420.3 371.6L420.4 371.9L420.6 372.1L420.7 371.9L420.9 371.9L421 372.1L421.2 372.1L421.4 372.2L421.5 372.2L421.7 372.2L421.8 372.3L422 372.4L422.1 359.4L422.3 359.2L422.4 359.5L422.6 359.5L422.8 359.6L422.9 359.7L423.1 359.4L423.2 359.9L423.4 359.9L423.5 359.5L423.7 360.2L423.8 360L424 360.1L424.1 360.1L424.3 360L424.5 360.1L424.6 360L424.8 360.1L424.9 360.2L425.1 360.3L425.2 360.5L425.4 360.6L425.5 360.5L425.7 360.5L425.9 360.5L426 360.7L426.2 361L426.3 361.1L426.5 361.4L426.6 361.5L426.8 361.5L426.9 361.9L427.1 362L427.2 362.2L427.4 362.4L427.6 362.5L427.7 362.5L427.9 362.9L428 363.1L428.2 363.2L428.3 363.2L428.5 363.5L428.6 363.8L428.8 364L429 364.2L429.1 364.4L429.3 364.4L429.4 364.6L429.6 364.8L429.7 364.8L429.9 365.1L430 365.4L430.2 366.1L430.3 366.5L430.5 367L430.7 367.5L430.8 367.7L431 368.4L431.1 368.8L431.3 369L431.4 369.7L431.6 370L431.7 370.6L431.9 371.5L432.1 372.2L432.2 372.8L432.4 373.6L432.5 374.3L432.7 375.1L432.8 375.8L433 376.6L433.1 377.3L433.3 378L433.4 378.7L433.6 379.7L433.8 380.5L433.9 381.4L434.1 382.3L434.2 383.1L434.4 383.1L434.5 383.1L434.7 383.1L434.8 383.1L435 261.5L435.2 261.9L435.3 260.4L435.5 259.2L435.6 261L435.8 261.9L435.9 261.5L436.1 260L436.2 262.1L436.4 259.8L436.5 261.2L436.7 261.3L436.9 259.6L437 259.9L437.2 260.8L437.3 262.3L437.5 261.5L437.6 260.8L437.8 261.3L437.9 261.4L438.1 262L438.3 261L438.4 261.7L438.6 260.7L438.7 261.7L438.9 262.7L439 260.7L439.2 261.8L439.3 262.2L439.5 261.5L439.6 261.7L439.8 262L440 262L440.1 263.4L440.3 262.1L440.4 264.4L440.6 263.2L440.7 263.6L440.9 264L441 263.9L441.2 264.4L441.4 264.8L441.5 265.7L441.7 267.2L441.8 265.4L442 268L442.1 268.2L442.3 269L442.4 269.4L442.6 268.9L442.7 269.4L442.9 269.5L443.1 270.3L443.2 271.4L443.4 271.6L443.5 274.1L443.7 275.5L443.8 275.6L444 278.7L444.1 279.7L444.3 280.5L444.5 281.9L444.6 283.9L444.8 285.8L444.9 286.4L445.1 287.5L445.2 288.9L445.4 290.3L445.5 289.9L445.7 290.8L445.8 291.4L446 292.8L446.2 292.8L446.3 292.9L446.5 292.7L446.6 292.4L446.8 293.4L446.9 294.6L447.1 295.3L447.2 295.3L447.4 295.8L447.6 297.1L447.7 298.1L447.9 298.4L448 300.4L448.2 300.9L448.3 302.7L448.5 303.8L448.6 305.1L448.8 307L448.9 308.3L449.1 309.9L449.3 311.8L449.4 311.4L449.6 312.1L449.7 311.4L449.9 311.2L450 312.6L450.2 311.6L450.3 312.1L450.5 312L450.7 312.6L450.8 312.7L451 313.7L451.1 313.8L451.3 314.5L451.4 315.6L451.6 316.1L451.7 317.4L451.9 333.4L452 349.2L452.2 349.2L452.4 349.3L452.5 349.1L452.7 349L452.8 349L453 349.5L453.1 349.4L453.3 330.1L453.4 310L453.6 309.3L453.8 309.7L453.9 309.3L454.1 309L454.2 308.3L454.4 308.4L454.5 308.4L454.7 307.8L454.8 308.2L455 307.2L455.1 307.2L455.3 307L455.5 307.3L455.6 306.5L455.8 306.4L455.9 306.5L456.1 306.3L456.2 306.1L456.4 305.9L456.5 306.1L456.7 306L456.9 305L457 305.2L457.2 304.9L457.3 305.7L457.5 304.6L457.6 305.2L457.8 305.4L457.9 305.2L458.1 306.2L458.2 306.9L458.4 307.3L458.6 306.7L458.7 307.2L458.9 308.4L459 308.6L459.2 309.1L459.3 308.7L459.5 309.7L459.6 309.9L459.8 310.4L460 310.8L460.1 311.2L460.3 311.9L460.4 312.4L460.6 313.2L460.7 313.6L460.9 313.3L461 313.8L461.2 315.9L461.3 318L461.5 319.8L461.7 322.5L461.8 323L462 325.4L462.1 327.5L462.3 329.5L462.4 331.4L462.6 333L462.7 334.1L462.9 335.1L463.1 336.4L463.2 337.1L463.4 338L463.5 339.5L463.7 340.5L463.8 342L464 342.7L464.1 343.9L464.3 344.9L464.4 345.5L464.6 347.2L464.8 348L464.9 348.8L465.1 350.1L465.2 351.3L465.4 352.5L465.5 354.5L465.7 355.9L465.8 357.6L466 359.5L466.2 361.2L466.3 362.8L466.5 364.4L466.6 366.5L466.8 368.1L466.9 369.7L467.1 371.6L467.2 373L467.4 374.7L467.5 376.1L467.7 377.6L467.9 379.2L468 380.7L468.2 382.4L468.3 383.9L468.5 385.4L468.6 386.9L468.8 388.3L468.8 388.3Z" fill="url(#stripe)"/>
<polyline points="313.48,359.9 313.55,373.72 313.63,374.1 313.71,359.9 313.79,374.1 313.94,374.1 314.02,374.51 314.1,374.04 314.17,374.43 314.25,374.04 314.33,374.1 314.41,374.1 314.48,373.65 314.56,373.59 314.64,374.1 314.95,374.1 315.03,373.58 315.1,373.5 315.18,374.1 315.57,374.1 315.65,374.59 315.72,374.1 315.8,374.1 315.88,373.47 315.96,374.1 316.19,374.1 316.27,374.35 316.34,374.1 316.42,374.1 316.58,374.1 316.65,374.46 316.73,374.15 316.81,374.1 317.35,374.1 317.43,374.5 317.51,374.1 317.58,373.92 317.66,374.1 317.74,374.1 317.82,374.17 317.89,374.1 318.2,374.1 318.28,374.13 318.36,374.1 318.44,374.1 318.51,373.95 318.59,374.1 318.75,374.1 318.82,374.07 318.9,374.1 319.06,374.1 319.13,373.91 319.21,374.1 320.45,374.1 320.53,374.18 320.61,374.6 320.69,373.96 320.76,374.53 320.84,374.1 320.92,374.12 321,374.28 321.07,375.31 321.15,374.1 321.23,374.1 321.3,373.75 321.38,374.1 321.46,374.1 321.54,373.83 321.61,374.1 322.31,374.1 322.39,374.18 322.47,374.1 323.4,374.1 323.47,374.17 323.55,374.95 323.63,374.1 323.71,374.1 323.78,374.7 323.86,374.1 323.94,373.57 324.02,374.1 324.48,374.1 324.56,373.79 324.64,374.1 324.71,374.1 324.79,374.25 324.87,374.1 324.95,374.1 325.02,373.83 325.1,374.1 325.72,374.1 325.8,373.94 325.88,374.1 326.03,374.1 326.11,373.79 326.19,374.12 326.26,374.1 326.34,374.33 326.42,374.1 326.65,374.1 326.73,374.51 326.81,374.1 326.88,374.46 326.96,374.1 327.04,374.17 327.12,374.1 327.5,374.1 327.58,374.38 327.66,374.1 327.74,374.65 327.81,374.49 327.89,373.75 327.97,373.68 328.05,374.16 328.12,374.1 328.28,374.1 328.36,373.85 328.44,374.1 328.51,374.71 328.59,374.1 328.98,374.1 329.05,374.23 329.13,373.75 329.21,373.6 329.29,374.1 329.36,374.1 329.44,373.78 329.52,374.36 329.6,374.1 330.76,374.1 330.84,374.31 330.91,374.1 330.99,374.24 331.07,374.1 331.15,374.1 331.22,374.14 331.3,373.68 331.38,374.1 331.46,374.1 331.53,374.58 331.61,374.1 331.69,366.29 331.77,374.1 331.84,380.21 331.92,374.1 332,374.5 332.08,374.1 333.16,374.1 333.24,374.56 333.32,374.66 333.39,374.1 333.78,374.1 333.86,374.03 333.94,374.1 334.01,374.44 334.09,374.1 334.32,374.1 334.4,374.6 334.48,374.1 334.87,374.1 334.94,374.1 335.02,374.1 335.1,374.21 335.18,374.57 335.25,373.88 335.33,374.1 335.41,365.15 335.49,373.54 335.56,374.83 335.64,374.1 335.72,374.1 335.8,374.37 335.88,374.1 335.95,374.54 336.03,373.85 336.11,374.1 336.19,374.1 336.26,374.19 336.34,374.1 336.42,374.5 336.5,374.1 336.57,374.1 336.65,374.03 336.73,373.4 336.8,374.1 337.19,374.1 337.27,373.97 337.35,373.2 337.42,374.1 337.5,374.1 337.58,373.44 337.66,374.1 338.66,374.1 338.74,374.54 338.82,374.1 339.05,374.1 339.13,374.18 339.21,374.11 339.28,374.1 339.44,374.1 339.52,373.79 339.59,374.05 339.67,374.04 339.75,374.03 339.83,374.1 339.9,374.22 339.98,374.1 340.21,374.1 340.29,374.26 340.37,374.1 340.83,374.1 340.91,374.22 340.99,374.1 341.07,374.56 341.14,374.1 341.45,374.1 341.53,374.6 341.61,374.1 341.69,374.1 341.76,374.35 341.84,374.56 341.92,374.09 342,374.1 342.07,374.22 342.15,377.65 342.23,374.1 342.31,374.1 342.38,341.87 342.46,369.26 342.54,374.1 342.93,374.1 343,374.48 343.08,373.69 343.16,374.1 343.55,374.1 343.62,374.83 343.7,374.1 343.78,374.1 343.86,374.5 343.94,373.69 344.01,374.12 344.09,373.74 344.17,374.1 344.25,374.1 344.32,373.55 344.4,374.15 344.48,374.1 345.48,374.1 345.56,374.74 345.64,374.1 346.1,374.1 346.18,373.8 346.26,374.1 346.34,374.1 346.41,374.14 346.49,374.1 346.65,374.1 346.72,374.36 346.8,374.11 346.88,374.1 347.19,374.1 347.27,373.57 347.34,374.1 347.42,374.2 347.5,374.1 347.58,330.79 347.65,367.6 347.73,373.26 347.81,374.1 348.51,374.1 348.58,374.37 348.66,374.1 348.74,373.41 348.82,374.1 348.97,374.1 349.05,373.86 349.13,374.1 349.2,374.57 349.28,374.1 349.44,374.1 349.51,374.2 349.59,374.1 349.67,374.81 349.75,373.6 349.82,374.1 350.13,374.1 350.21,374 350.29,374.24 350.37,374.1 350.6,374.1 350.68,373.75 350.75,374.1 350.83,374.1 350.91,372.99 350.99,374.48 351.06,374.1 351.14,374.35 351.22,374.1 351.38,374.1 351.45,373.75 351.53,374.1 351.92,374.1 352,374.18 352.07,374.1 352.15,374.1 352.23,374.31 352.3,374.1 352.77,374.1 352.85,373.74 352.92,374.1 353.47,374.1 353.54,373.89 353.62,374.1 354.24,374.1 354.32,374 354.4,374.1 354.47,373.99 354.55,374.1 354.63,373.7 354.71,374.17 354.78,374.1 354.94,374.1 355.02,373.68 355.09,374.1 355.17,373.74 355.25,374.1 355.33,373.52 355.4,373.97 355.48,374.1 355.71,374.1 355.79,374.77 355.87,374.1 357.11,374.1 357.19,374.16 357.26,374.1 358.04,374.1 358.12,373.85 358.19,374.1 358.27,374.03 358.35,374.16 358.43,374.1 358.66,374.1 358.74,373.77 358.81,373.65 358.89,373.49 358.97,374.1 359.2,374.1 359.28,376.94 359.36,374.1 359.51,374.1 359.59,374.34 359.67,374.18 359.75,373.33 359.82,374.1 360.05,374.1 360.13,373.66 360.21,374.1 360.29,374.14 360.36,374.1 360.44,373.88 360.52,374.1 360.67,374.1 360.75,374.26 360.83,373.66 360.91,374.1 361.99,374.1 362.07,374.07 362.15,374.1 362.92,374.1 363,374.12 363.08,374.1 363.62,374.1 363.7,368.42 363.77,374.1 364.01,374.1 364.08,374.24 364.16,374.1 364.39,374.1 364.47,373.64 364.55,374.1 365.01,374.1 365.09,374.6 365.17,374.1 365.25,374.03 365.32,373.68 365.4,374.1 365.48,374 365.56,374.1 366.1,374.1 366.18,373.94 366.25,374.1 366.33,374.1 366.41,374.9 366.49,374.1 366.56,374.1 366.64,374.52 366.72,374.1 366.8,373.78 366.88,374.1 367.03,374.1 367.11,374.03 367.18,374.1 367.42,374.1 367.5,373.37 367.57,374.1 368.19,374.1 368.27,374.34 368.35,371.26 368.42,373.69 368.5,374.1 368.58,374.1 368.66,374.35 368.73,374.25 368.81,374.15 368.89,374.1 368.97,374.1 369.04,374.79 369.12,374.1 369.9,374.1 369.97,374.12 370.05,374.1 370.9,374.1 370.98,374.45 371.06,374.1 371.52,374.1 371.6,374.23 371.68,374.1 371.83,374.1 371.91,374.24 371.99,374.1 372.22,374.1 372.3,374.12 372.38,374.1 372.53,374.1 372.61,374.08 372.69,374.1 372.84,374.1 372.92,374.05 373,374.1 373.07,373.82 373.15,374.1 373.31,374.1 373.38,374.17 373.46,374.1 373.54,373.94 373.62,374.1 373.69,374.1 373.77,374.07 373.85,374.1 374,374.1 374.08,374.17 374.16,374.1 374.24,373.99 374.31,374.1 374.62,374.1 374.7,360.47 374.78,374.1 374.86,373.97 374.93,374.1 375.01,376.66 375.09,374.67 375.17,374.1 375.25,374.1 375.32,374.52 375.4,374.1 375.48,374.2 375.55,373.77 375.63,370.55 375.71,374.29 375.79,374.1 376.02,374.1 376.1,374.27 376.17,374.1 376.41,374.1 376.48,373.87 376.56,373.89 376.64,374.1 376.72,374.1 376.79,374.78 376.87,374.1 376.95,373.86 377.03,374.13 377.1,374.1 377.18,373.5 377.26,374.1 377.49,374.1 377.57,374.31 377.65,374.1 378.03,374.1 378.11,373.73 378.19,374.21 378.27,373.8 378.34,374.1 378.42,373.68 378.5,374.1 378.89,374.1 378.96,373.94 379.04,374 379.12,374.18 379.2,374.1 379.51,374.1 379.58,373.7 379.66,374.1 379.74,374.1 379.82,373.62 379.89,374.1 379.97,374.1 380.05,374.4 380.13,374.1 380.2,374.1 380.28,373.39 380.36,374.1 380.44,374.1 380.51,374.44 380.59,374.1 380.67,374.1 380.75,374.31 380.82,374.1 381.91,374.1 381.99,374.29 382.06,374.1 382.22,374.1 382.3,374.92 382.38,374.1 382.84,374.1 382.92,373.83 383,374.13 383.07,374.1 383.54,374.1 383.62,374.26 383.69,340.16 383.77,369.01 383.85,374.1 384.31,374.1 384.39,374.17 384.47,374.1 384.54,374.1 384.62,374.29 384.7,374.1 384.93,374.1 385.01,374.82 385.09,374.62 385.16,374.09 385.24,374.1 385.71,374.1 385.78,374.04 385.86,373.99 385.94,374.1 386.56,374.1 386.64,374.74 386.71,374.1 387.02,374.1 387.1,373.65 387.18,374.1 387.41,374.1 387.49,374 387.57,374.55 387.64,374.1 387.8,374.1 387.88,374.14 387.95,374.1 388.03,374.1 388.11,374.04 388.19,374.1 388.26,374.1 388.34,373.58 388.42,374.1 388.5,374.82 388.57,374.1 388.81,374.1 388.88,373.71 388.96,374.1 389.43,374.1 389.5,373.89 389.58,374.1 389.66,374.36 389.74,374.1 389.81,374.44 389.89,374.1 389.97,374.18 390.05,374.1 390.2,374.1 390.28,373.64 390.36,373.65 390.43,374.1 391.21,374.1 391.29,373.37 391.37,374.09 391.44,374.67 391.52,374.38 391.6,374.1 392.06,374.1 392.14,374.07 392.22,374.1 392.29,374.1 392.37,374.14 392.45,373.85 392.53,374.1 392.68,374.1 392.76,373.79 392.84,374.1 392.91,373.98 392.99,374.1 393.15,374.1 393.22,374.3 393.3,374.1 393.53,374.1 393.61,374.28 393.69,374.1 394.46,374.1 394.54,374.42 394.62,374.73 394.7,374.1 395.01,374.1 395.08,354.08 395.16,374.1 395.94,374.1 396.01,373.42 396.09,373.91 396.17,374.1 396.25,373.74 396.32,374.1 396.4,374.47 396.48,374.34 396.56,374.1 396.63,374.2 396.71,374.1 396.79,374.03 396.87,374.1 397.33,374.1 397.41,374.37 397.49,374.1 397.8,374.1 397.88,374.01 397.95,373.3 398.03,374.1 398.11,373.75 398.18,373.88 398.26,374.1 398.34,374.48 398.42,374.1 398.5,374.1 398.57,374.32 398.65,374.5 398.73,374.1 399.58,374.1 399.66,374.18 399.73,374.1 401.05,374.1 401.13,373.88 401.21,374.27 401.28,374.1 401.52,374.1 401.59,374.72 401.67,374.1 401.75,374.1 401.83,373.65 401.9,374.1 402.14,374.1 402.21,373.97 402.29,374.1 402.91,374.1 402.99,373.92 403.07,374.1 403.14,374.1 403.22,373.63 403.3,374.1 403.76,374.1 403.84,373.74 403.92,374.1 404,374.33 404.07,373.85 404.15,374.8 404.23,374.1 405.55,374.1 405.62,374.41 405.7,374.1 406.09,374.1 406.17,374.75 406.25,374.1 406.32,373.69 406.4,374.1 406.48,374.1 406.55,374.16 406.63,374.1 406.94,374.1 407.02,373.48 407.1,374.29 407.17,374.1 407.25,374.1 407.33,373.87 407.41,374.1 407.48,374.1 407.56,374.76 407.64,374.1 408.26,374.1 408.34,373.95 408.41,374.47 408.49,374.1 408.72,374.1 408.8,374.52 408.88,374.05 408.96,374.1 409.03,367 409.11,374.1 409.27,374.1 409.34,374.45 409.42,374.88 409.5,374.1 410.04,374.1 410.12,373.69 410.2,374.1 410.66,374.1 410.74,373.91 410.82,374.11 410.89,374.1 410.97,374.45 411.05,374.1 411.82,374.1 411.9,369.84 411.98,373.84 412.06,374.09 412.13,374.1 412.21,374.09 412.29,374.1 412.37,374.1 412.44,374.34 412.52,374.1 412.6,374.46 412.68,374.1 412.75,374.21 412.83,374.1 413.06,374.1 413.14,374.3 413.22,374.1 413.38,374.1 413.45,373.9 413.53,374.1 413.61,374.1 413.68,374.32 413.76,374.1 413.84,374.1 413.92,374.18 414,374.1 414.38,374.1 414.46,374.05 414.54,374.39 414.62,374.1 414.69,374.24 414.77,374.1 415,374.1 415.08,374.04 415.16,373.98 415.23,374.1 416.32,374.1 416.4,373.97 416.47,373.76 416.55,374.02 416.63,373.92 416.71,374.16 416.78,374.26 416.86,374.47 416.94,373.56 417.02,374.1 417.25,374.1 417.33,374.18 417.4,374.1 417.71,374.1 417.79,374.04 417.87,373.68 417.95,374.1 418.18,374.1 418.26,374.28 418.33,374.1 419.11,374.1 419.19,373.51 419.26,374.1 419.34,374.42 419.42,374.1 419.5,374.27 419.57,374.1 419.73,374.1 419.81,374.5 419.88,374.1 420.5,374.1 420.58,374.25 420.66,374.29 420.74,374.1 420.81,374.1 420.89,374.34 420.97,374.1 421.05,374.1 421.12,373.46 421.2,374.1 421.28,372.55 421.36,374.21 421.43,376.94 421.51,374.1 422.13,374.1 422.21,374.11 422.29,374.1 422.37,362.74 422.44,374.1 422.6,374.1 422.67,373.88 422.75,374.1 422.83,374.1 422.91,374.85 422.98,374.1 423.14,374.1 423.22,374.2 423.29,374.1 423.37,374.1 423.45,374.53 423.53,374.1 424.22,374.1 424.3,374.85 424.38,374.1 424.53,374.1 424.61,374.25 424.69,371.97 424.77,374.1 424.84,374.28 424.92,373.85 425,374.1 425.39,374.1 425.46,373.78 425.54,374.1 425.62,374.1 425.7,374.61 425.77,374.1 425.85,373.97 425.93,374.1 426.24,374.1 426.32,373.78 426.39,374.1 426.55,374.1 426.63,374.55 426.7,374.1 426.78,373.95 426.86,374.01 426.94,373.97 427.01,374.08 427.09,374.1 427.17,374.1 427.25,374.42 427.32,373.4 427.4,374.1 427.63,374.1 427.71,374.01 427.79,374.1 427.94,374.1 428.02,374.41 428.1,374.1 428.18,374.07 428.25,374.1 428.56,374.1 428.64,373.71 428.72,374.25 428.8,374.22 428.88,374.1 429.18,374.1 429.26,374.03 429.34,374.33 429.42,374.11 429.5,374.1 429.73,374.1 429.8,374.53 429.88,374.1 430.5,374.1 430.58,373.76 430.66,374.1 430.73,374.1 430.81,373.57 430.89,374.11 430.97,374.05 431.04,374.1 431.12,374.56 431.2,374.1 431.82,374.1 431.9,374.22 431.97,373.77 432.05,374.1 432.21,374.1 432.28,373.78 432.36,374.7 432.44,374.1 432.75,374.1 432.83,378.36 432.9,374.1 432.98,374.1 433.06,374.14 433.14,374.1 433.21,374.1 433.29,373.61 433.37,373.79 433.45,374.1 433.52,374.1 433.6,373.56 433.68,374.1 434.14,374.1 434.22,374.56 434.3,374.1 434.45,374.1 434.53,374.43 434.61,373.34 434.69,374.1 435.23,374.1 435.31,373.4 435.38,374.1 435.46,374.48 435.54,374.1 435.62,374.43 435.69,374.1 435.77,374.1 435.85,373.33 435.93,374.29 436,374.1 436.16,374.1 436.24,374.16 436.31,374.1 436.39,374.32 436.47,374.1 436.55,374.26 436.62,374.1 437.17,374.1 437.25,374.25 437.32,374.1 437.4,374.1 437.48,373.49 437.55,374.1 438.41,374.1 438.48,374.23 438.56,374.1 438.64,374.1 438.72,374.36 438.79,374.44 438.87,374.1 438.95,374.1 439.03,374.44 439.1,374.1 439.18,374.1 439.26,374.23 439.34,374.1 439.41,374.24 439.49,374.16 439.57,374.1 439.8,374.1 439.88,373.75 439.96,374.1 440.19,374.1 440.27,374.55 440.34,374.1 440.42,374.77 440.5,374.1 440.58,374.1 440.65,374.85 440.73,374.1 440.81,373.66 440.89,374.1 440.96,373.74 441.04,374 441.12,374.1 441.43,374.1 441.51,374.28 441.58,374.1 441.66,373.9 441.74,374.1 441.89,374.1 441.97,373.87 442.05,374.1 442.13,373.57 442.2,374.54 442.28,374.1 442.36,374.1 442.44,373.54 442.51,374.1 442.67,374.1 442.75,374.07 442.82,374.1 442.9,374.1 442.98,374.32 443.06,374.1 443.13,374.12 443.21,374.1 443.29,374.1 443.37,374.46 443.44,374.27 443.52,374.1 443.6,373.91 443.68,374.1 444.14,374.1 444.22,374.64 444.3,374.1 444.61,374.1 444.68,374.46 444.76,374.1 445.07,374.1 445.15,373.95 445.23,374.1 445.3,374.22 445.38,374.1 445.46,374.1 445.54,373.98 445.62,371.97 445.69,374.1 445.92,374.1 446,373.55 446.08,374.1 446.24,374.1 446.31,373.46 446.39,374.1 446.47,373.93 446.54,374.1 446.62,374.09 446.7,374.1 446.78,374.03 446.86,374.26 446.93,374.1 447.55,374.1 447.63,374.2 447.71,373.71 447.78,374.1 447.94,374.1 448.02,373.9 448.09,374.1 448.17,374.34 448.25,374.1 448.56,374.1 448.64,373.89 448.71,374.1 448.79,374.1 448.87,373.88 448.95,374.2 449.02,374.1 449.33,374.1 449.41,371.26 449.49,374.1 449.95,374.1 450.03,374.01 450.11,374.1 450.26,374.1 450.34,374.03 450.42,374.1 450.5,374.1 450.57,374.08 450.65,374.1 450.73,374.1 450.81,374.55 450.88,374.1 451.19,374.1 451.27,373.88 451.35,374.1 451.43,376.66 451.5,374.1 452.12,374.1 452.2,374.06 452.28,374.1 452.43,374.1 452.51,373.68 452.59,374.1 452.67,374.28 452.75,374.1 452.82,374.53 452.9,374.16 452.98,374.1 453.44,374.1 453.52,359.9 453.6,374.23 453.67,374.1 453.75,373.5 453.83,374.1 453.91,374.1 453.99,374 454.06,374.1 454.53,374.1 454.61,374.55 454.68,373.42 454.76,374.1 454.84,374.1 454.91,373.92 454.99,374.11 455.07,374.1 455.15,374.1 455.22,374.21 455.3,374.1 455.46,374.1 455.53,374.14 455.61,374.1 455.77,374.1 455.84,373.29 455.92,374.1 456.15,374.1 456.23,373.79 456.31,374.1 456.39,374.19 456.46,374.1 456.93,374.1 457.01,374.2 457.08,374.1 457.16,374.13 457.24,374.1 457.32,373.91 457.39,374.24 457.47,374.1 457.63,374.1 457.7,374.4 457.78,374.1 457.86,374.1 457.94,373.91 458.01,374.1 458.79,374.1 458.87,373.85 458.94,374.1 459.1,374.1 459.18,374.99 459.25,374.34 459.33,374.1 459.8,374.1 459.88,373.27 459.95,374.1 460.42,374.1 460.5,374.36 460.57,374.5 460.65,374.1 461.19,374.1 461.27,374.8 461.35,374.1 461.66,374.1 461.74,374.09 461.81,373.65 461.89,374.1 461.97,374.76 462.04,374.1 462.12,374.1 462.2,374.43 462.28,374.1 462.36,374.1 462.43,374.88 462.51,373.41 462.59,374.1 462.66,374.1 462.74,373.63 462.82,374.1 462.9,374.1 462.97,373.7 463.05,374.29 463.13,374.1 463.28,374.1 463.36,374.02 463.44,374.1 463.52,373.62 463.59,374.1 463.67,373.93 463.75,374.1 463.83,374.1 463.9,374.93 463.98,373.58 464.06,374.1 464.37,374.1 464.45,374.58 464.52,374.1 464.6,374.05 464.68,374.1 464.76,374.1 464.83,373.74 464.91,374.1 465.14,374.1 465.22,373.88 465.3,374.1 465.38,374.29 465.45,374.1 465.53,373.7 465.61,374.1 465.69,374.27 465.76,374.1 465.84,374.1 465.92,374 466,373.59 466.07,374.1 466.46,374.1 466.54,374.13 466.62,374.33 466.69,374.1 466.77,376.92 466.85,374.1 466.93,374.95 467,376.51 467.08,374.1 467.16,374.81 467.24,373.44 467.31,374.1 467.39,374.45 467.47,375.1 467.55,375.2 467.62,374.1 467.7,374.47 467.78,374.02 467.86,374.1 467.93,374.71 468.01,374.1 468.09,374.1 468.17,376.15 468.25,374.48 468.32,374.1 468.4,377.96 468.48,376.09 468.55,379.97 468.63,374.1 468.71,378.24 468.79,374.96 468.87,381.58 468.94,380.2 469.02,374.1 469.64,374.1 469.72,373.76 469.79,374.47 469.87,374.1 470.03,374.1 470.11,374.22 470.18,374.1 470.26,374.1 470.34,374.13 470.41,374.1 470.49,374.1 470.57,377.79 470.65,379.96 470.72,376.63 470.8,378.32 470.88,381.25 470.96,374.1 471.03,375.39 471.11,378.6 471.19,378.29 471.27,374.1 471.42,374.1 471.5,373.61 471.58,374.1 471.73,374.1" fill="none" stroke="#FF0000" stroke-width="0.75" stroke-linejoin="miter" stroke-miterlimit="2"/>
<path d="M313.48 374.1H471.73" fill="none" stroke="#FF0000" stroke-width="1.0"/>
<path d="M305.5 239.3V388.3H479.6V239.3M305.5 388.3h-1.9M305.5 352.8h-1.9M305.5 317.3h-1.9M305.5 281.8h-1.9M305.5 246.3h-1.9M479.6 388.3h1.9M479.6 352.8h1.9M479.6 317.3h1.9M479.6 281.8h1.9M479.6 246.3h1.9M313.4 388.3v1.9M352.15 388.3v1.9M390.9 388.3v1.9M429.65 388.3v1.9M468.4 388.3v1.9" fill="none" stroke="#333333" stroke-width="1"/>
<g font-size="10.8" fill="#4D4D4D"><text x="302.4" y="392.8" text-anchor="end">0</text><text x="302.4" y="357.3" text-anchor="end">500</text><text x="302.4" y="321.8" text-anchor="end">1000</text><text x="302.4" y="286.3" text-anchor="end">1500</text><text x="302.4" y="250.8" text-anchor="end">2000</text><text x="482.6" y="392.8">0.0</text><text x="482.6" y="357.3">2.5</text><text x="482.6" y="321.8">5.0</text><text x="482.6" y="286.3">7.5</text><text x="482.6" y="250.8">10.0</text><text x="313.4" y="399.3" text-anchor="middle">0</text><text x="352.15" y="399.3" text-anchor="middle">500</text><text x="390.9" y="399.3" text-anchor="middle">1000</text><text x="429.65" y="399.3" text-anchor="middle">1500</text><text x="468.4" y="399.3" text-anchor="middle">2000</text></g>
<text x="363.06" y="232" font-size="14.2">L2000-1</text>
<text x="392.55" y="413" font-size="14.0" text-anchor="middle">Position</text>
<text transform="translate(274 316) rotate(-90)" font-size="14.0" text-anchor="middle">Coverage (-)</text>
<text transform="translate(505.1 314.1) rotate(90)" font-size="14.0" text-anchor="middle">RCI (-)</text>
</g>
<g>
<path d="M583.4 388.3L583.4 388.3L583.6 388.1L583.7 387.8L583.9 387.6L584 387.3L584.2 387.1L584.3 386.8L584.5 386.6L584.7 386.3L584.8 386.1L585 385.8L585.1 385.5L585.3 385.4L585.4 385.3L585.6 385.2L585.7 385.1L585.9 385L586 384.9L586.2 384.8L586.4 384.7L586.5 384.6L586.7 384.4L586.8 384.3L587 384.3L587.1 384.1L587.3 384L587.4 383.9L587.6 383.8L587.8 383.7L587.9 383.6L588.1 383.5L588.2 383.3L588.4 383.3L588.5 383.2L588.7 382.9L588.8 382.6L589 382.3L589.1 381.9L589.3 381.5L589.5 381.2L589.6 380.9L589.8 380.5L589.9 380.3L590.1 380.1L590.2 379.8L590.4 319.8L590.5 318.7L590.7 317.7L590.9 318.5L591 318.4L591.2 318L591.3 318.2L591.5 317.5L591.6 317.9L591.8 317.5L591.9 318.3L592.1 318.6L592.2 317.3L592.4 317.9L592.6 318L592.7 317.4L592.9 317.8L593 318.2L593.2 318L593.3 317.4L593.5 318L593.6 317.9L593.8 316.5L594 317.5L594.1 317.3L594.3 317.3L594.4 318.2L594.6 318.4L594.7 317.7L594.9 318.5L595 317.1L595.2 317.2L595.3 318.1L595.5 318.5L595.7 318.1L595.8 317.6L596 317.7L596.1 317.8L596.3 318.1L596.4 318.5L596.6 318.5L596.7 318.8L596.9 318.5L597.1 319.1L597.2 319L597.4 319L597.5 317.9L597.7 317.1L597.8 316.8L598 317.5L598.1 317.6L598.3 318.1L598.4 318.5L598.6 318.6L598.8 317.9L598.9 318.5L599.1 318.3L599.2 319.4L599.4 318.7L599.5 319.1L599.7 319.4L599.8 319.3L600 319.3L600.2 319.2L600.3 319L600.5 319.6L600.6 319L600.8 319.4L600.9 319.7L601.1 319.2L601.2 319.6L601.4 319.6L601.5 320.2L601.7 319.9L601.9 319.6L602 320.3L602.2 320.4L602.3 322L602.5 322.3L602.6 322.9L602.8 324.5L602.9 325.7L603.1 326.7L603.3 327.7L603.4 327.9L603.6 329.5L603.7 330.5L603.9 332.6L604 333.2L604.2 334.4L604.3 335.7L604.5 337L604.6 337.9L604.8 339.5L605 341.4L605.1 342.9L605.3 345.3L605.4 347.1L605.6 349L605.7 351.3L605.9 353.2L606 355.5L606.2 357.3L606.4 359.4L606.5 361.2L606.7 363.2L606.8 364.6L607 365.8L607.1 367L607.3 368L607.4 369L607.6 370.2L607.7 371.4L607.9 372.6L608.1 373.8L608.2 374.8L608.4 376.1L608.5 375.9L608.7 376L608.8 376L609 375.9L609.1 375.8L609.3 375.8L609.5 375.8L609.6 375.7L609.8 375.7L609.9 375.8L610.1 375.7L610.2 375.7L610.4 375.7L610.5 375.7L610.7 375.6L610.8 375.5L611 375.5L611.2 375.4L611.3 375.3L611.5 375.5L611.6 375.4L611.8 375.2L611.9 375.2L612.1 375.2L612.2 375.2L612.4 375.1L612.6 375.2L612.7 375L612.9 374.9L613 374.9L613.2 374.8L613.3 373.6L613.5 371.2L613.6 368.7L613.8 368.6L613.9 368.8L614.1 369.1L614.3 369.3L614.4 369.2L614.6 369.4L614.7 369.6L614.9 369.7L615 370L615.2 370.1L615.3 370.3L615.5 370.4L615.7 370.7L615.8 370.7L616 371L616.1 371.1L616.3 371.1L616.4 371.4L616.6 371.4L616.7 371.6L616.9 371.6L617 372L617.2 372.1L617.4 372.2L617.5 372.1L617.7 372.1L617.8 372.3L618 372.3L618.1 372.3L618.3 372.3L618.4 372.4L618.6 372.5L618.8 372.6L618.9 372.5L619.1 372.6L619.2 372.6L619.4 372.7L619.5 372.7L619.7 372.8L619.8 372.9L620 372.7L620.1 372.9L620.3 373L620.5 373.1L620.6 373L620.8 373L620.9 373.2L621.1 373.3L621.2 373.3L621.4 373.4L621.5 296.1L621.7 294.9L621.9 294.8L622 294.3L622.2 293.7L622.3 294.1L622.5 293.4L622.6 292.7L622.8 292.4L622.9 292.3L623.1 292.1L623.2 290.9L623.4 291.6L623.6 291.1L623.7 290.7L623.9 289.9L624 289.4L624.2 290.4L624.3 288.9L624.5 288.8L624.6 289.1L624.8 288.6L625 286.4L625.1 288.3L625.3 287L625.4 287.3L625.6 287.6L625.7 287.9L625.9 288.3L626 289.5L626.2 288.6L626.3 290.2L626.5 289.8L626.7 289.4L626.8 290.2L627 291.4L627.1 291.1L627.3 291.5L627.4 292.6L627.6 291.9L627.7 291.9L627.9 292.7L628.1 292.4L628.2 293.8L628.4 293.7L628.5 294.2L628.7 296.1L628.8 295.9L629 297.8L629.1 296.9L629.3 298.2L629.4 298.9L629.6 300.7L629.8 299.6L629.9 301L630.1 301.9L630.2 302.3L630.4 302.9L630.5 303.5L630.7 304.2L630.8 305.1L631 305.5L631.2 306.1L631.3 307.8L631.5 309.4L631.6 312.3L631.8 315.9L631.9 318.9L632.1 322.1L632.2 325.1L632.4 328.6L632.5 329.8L632.7 331.3L632.9 331.1L633 331.5L633.2 332.5L633.3 332.6L633.5 334.9L633.6 338.7L633.8 342.3L633.9 342.3L634.1 342.1L634.3 342L634.4 330.4L634.6 325.6L634.7 331.8L634.9 331.3L635 331.7L635.2 332.8L635.3 332.2L635.5 333.2L635.6 332.9L635.8 333.6L636 334.1L636.1 334.9L636.3 335.6L636.4 335.7L636.6 336.8L636.7 337.3L636.9 337.8L637 338.8L637.2 339.8L637.4 340.3L637.5 341L637.7 341.5L637.8 342.3L638 343.1L638.1 343.6L638.3 344.6L638.4 345.2L638.6 345.7L638.7 345.9L638.9 347L639.1 347.6L639.2 348.1L639.4 348.4L639.5 348.8L639.7 349.2L639.8 349.5L640 349.5L640.1 349.8L640.3 350.2L640.5 350.4L640.6 351.2L640.8 350.9L640.9 351.1L641.1 351.4L641.2 351.5L641.4 352.1L641.5 352.4L641.7 352.6L641.8 352.5L642 353.2L642.2 353.5L642.3 353.6L642.5 354L642.6 354.2L642.8 354.2L642.9 354.7L643.1 354.9L643.2 355.4L643.4 355.8L643.6 356.3L643.7 356.8L643.9 357.3L644 357.9L644.2 358.4L644.3 359.3L644.5 359.7L644.6 360.3L644.8 360.9L644.9 361.4L645.1 362L645.3 362.5L645.4 363.2L645.6 363.7L645.7 364.4L645.9 364.9L646 365.3L646.2 366L646.3 366.1L646.5 366.5L646.7 366.6L646.8 366.8L647 367.2L647.1 367.3L647.3 367.7L647.4 367.6L647.6 367.6L647.7 367.6L647.9 367.6L648 367.4L648.2 367.7L648.4 367.4L648.5 367.5L648.7 367.4L648.8 367.5L649 367.4L649.1 367.8L649.3 367.9L649.4 368.3L649.6 368.6L649.8 369L649.9 369.2L650.1 369.8L650.2 369.9L650.4 370.4L650.5 370.9L650.7 371L650.8 371.5L651 371.8L651.1 372.1L651.3 372.7L651.5 372.8L651.6 373.1L651.8 373.5L651.9 374L652.1 374.2L652.2 374.5L652.4 374.8L652.5 375.1L652.7 375.4L652.9 375.7L653 376L653.2 376.3L653.3 376.6L653.5 376.9L653.6 377.2L653.8 377.5L653.9 377.8L654.1 378.1L654.2 378.3L654.4 378.6L654.6 379L654.7 379.2L654.9 379.5L655 379.8L655.2 380.1L655.3 380.4L655.5 380.8L655.6 380.7L655.8 380.8L656 380.7L656.1 380.7L656.3 380.7L656.4 380.6L656.6 380.7L656.7 380.7L656.9 380.7L657 380.7L657.2 358.4L657.3 358.9L657.5 358.8L657.7 358.8L657.8 358.6L658 358.9L658.1 359.1L658.3 359.1L658.4 358.7L658.6 358.8L658.7 358.8L658.9 359.1L659.1 358.9L659.2 358.9L659.4 358.9L659.5 358.9L659.7 358.8L659.8 359.2L660 359.3L660.1 359.3L660.3 358.9L660.4 358.9L660.6 359.2L660.8 359L660.9 359.2L661.1 358.9L661.2 359L661.4 359.2L661.5 359.2L661.7 359.2L661.8 359.4L662 358.9L662.2 359.2L662.3 359.2L662.5 358.8L662.6 359.1L662.8 359.4L662.9 359.3L663.1 349.7L663.2 349.9L663.4 349.8L663.5 350L663.7 350.4L663.9 350L664 350.6L664.2 350.4L664.3 350.1L664.5 350L664.6 349.8L664.8 350L664.9 350.3L665.1 349.8L665.3 350.3L665.4 350.1L665.6 350.1L665.7 350L665.9 350.3L666 349.7L666.2 350L666.3 350.1L666.5 349.7L666.6 350.3L666.8 350.3L667 351L667.1 351.2L667.3 351.4L667.4 352L667.6 352L667.7 352.3L667.9 352.5L668 353.1L668.2 353.2L668.4 353.2L668.5 353.6L668.7 354L668.8 354.5L669 354.5L669.1 354.9L669.3 355.2L669.4 355.4L669.6 354.7L669.7 354L669.9 353.3L670.1 352.3L670.2 351.8L670.4 351.2L670.5 350.3L670.7 350.1L670.8 350.5L671 350.8L671.1 351.2L671.3 351.6L671.5 352L671.6 352.2L671.8 352.4L671.9 353.2L672.1 353.5L672.2 353.6L672.4 354.2L672.5 354.8L672.7 354.7L672.8 355L673 355.3L673.2 356.3L673.3 356.6L673.5 357.3L673.6 358L673.8 358.6L673.9 359.3L674.1 360L674.2 360.5L674.4 361.1L674.6 362L674.7 362.7L674.9 363L675 363.6L675.2 364.2L675.3 364.9L675.5 364.8L675.6 365.4L675.8 365.3L675.9 365.6L676.1 366L676.3 365.9L676.4 366.2L676.6 366.5L676.7 366.7L676.9 366.9L677 367.2L677.2 367.7L677.3 367.6L677.5 367.8L677.7 368.3L677.8 368.3L678 368.5L678.1 368.6L678.3 368.9L678.4 369.4L678.6 369.4L678.7 369.8L678.9 370.1L679 370.2L679.2 370.4L679.4 370.6L679.5 371L679.7 371.2L679.8 371.4L680 371.6L680.1 371.5L680.3 371.6L680.4 371.7L680.6 371.8L680.8 371.7L680.9 371.9L681.1 372.2L681.2 372L681.4 372.2L681.5 372.1L681.7 372.2L681.8 372.2L682 372.5L682.1 372.4L682.3 372.7L682.5 372.6L682.6 372.7L682.8 372.7L682.9 372.8L683.1 373L683.2 372.9L683.4 373L683.5 372.9L683.7 372.5L683.9 372.4L684 372L684.2 372L684.3 371.7L684.5 371.6L684.6 371.4L684.8 371L684.9 370.8L685.1 370.5L685.2 370.5L685.4 370.9L685.6 370.8L685.7 371L685.9 371.1L686 371.1L686.2 371.3L686.3 371.2L686.5 371.3L686.6 371.5L686.8 371.5L687 371.6L687.1 371.7L687.3 371.8L687.4 372.1L687.6 372.1L687.7 372.3L687.9 372.3L688 372.3L688.2 372.4L688.3 372.4L688.5 372.4L688.7 372.5L688.8 372.6L689 372.8L689.1 372.8L689.3 373L689.4 373L689.6 373.1L689.7 373.2L689.9 373.3L690.1 373.4L690.2 373.4L690.4 373.7L690.5 373.6L690.7 373.6L690.8 373.6L691 373.6L691.1 373.5L691.3 373.8L691.4 373.7L691.6 373.6L691.8 373.6L691.9 373.6L692.1 373.8L692.2 373.7L692.4 373.6L692.5 373.7L692.7 369.6L692.8 369.7L693 369.8L693.2 369.8L693.3 369.9L693.5 369.8L693.6 370L693.8 370L693.9 370.1L694.1 370.2L694.2 370.1L694.4 370.2L694.5 370.3L694.7 370.4L694.9 370.5L695 370.4L695.2 370.5L695.3 370.4L695.5 370.5L695.6 370.6L695.8 370.9L695.9 370.7L696.1 370.7L696.3 370.7L696.4 370.9L696.6 371L696.7 371.1L696.9 371L697 371.2L697.2 371.2L697.3 371.3L697.5 371.3L697.6 371.3L697.8 371.5L698 371.6L698.1 371.5L698.3 371.5L698.4 371.5L698.6 371.7L698.7 371.7L698.9 371.6L699 371.8L699.2 372L699.4 372.1L699.5 372.1L699.7 372.1L699.8 372.1L700 372.3L700.1 372.3L700.3 372.3L700.4 372.7L700.6 372.5L700.7 372.7L700.9 372.5L701.1 372.9L701.2 372.7L701.4 372.8L701.5 372.8L701.7 373L701.8 373.1L702 373.1L702.1 373.3L702.3 373.4L702.5 373.5L702.6 373.5L702.8 373.4L702.9 373.5L703.1 373.6L703.2 373.6L703.4 373.8L703.5 306.7L703.7 305.5L703.8 306.4L704 305.8L704.2 306.3L704.3 305.3L704.5 305.9L704.6 306.2L704.8 306.2L704.9 305.6L705.1 306.2L705.2 306.7L705.4 306.3L705.6 306.9L705.7 306L705.9 306.1L706 306.6L706.2 306.7L706.3 306.9L706.5 306.7L706.6 306.6L706.8 305.8L706.9 306.8L707.1 306.8L707.3 306.3L707.4 307.3L707.6 306.7L707.7 306.5L707.9 307.5L708 308.1L708.2 308.3L708.3 309L708.5 310.2L708.7 309.8L708.8 309.6L709 310.8L709.1 311.7L709.3 311.8L709.4 311.8L709.6 311.7L709.7 312.4L709.9 313.9L710 314.4L710.2 313.6L710.4 315.2L710.5 316.1L710.7 316L710.8 317.4L711 319.1L711.1 320.7L711.3 321.1L711.4 322.9L711.6 324.5L711.8 326.1L711.9 327.6L712.1 329.6L712.2 330.6L712.4 332.1L712.5 334L712.7 335.3L712.8 337.4L713 339.2L713.1 340.1L713.3 341.7L713.5 343.4L713.6 344.5L713.8 345.4L713.9 345.9L714.1 347.1L714.2 347L714.4 347.9L714.5 348.9L714.7 349.2L714.9 349.9L715 350.5L715.2 351.1L715.3 351.8L715.5 352.4L715.6 352.9L715.8 353.5L715.9 354.4L716.1 354.6L716.2 355.7L716.4 356.3L716.6 356.9L716.7 357.5L716.9 358.1L717 358.7L717.2 360L717.3 360.7L717.5 362L717.6 363.2L717.8 364.4L718 365.3L718.1 366.4L718.3 367.6L718.4 368.6L718.6 369.8L718.7 371L718.9 371.8L719 371.9L719.2 372.3L719.3 372.8L719.5 373.1L719.7 373.4L719.8 373.9L720 376.6L720.1 381.6L720.3 384L720.4 384L720.6 384L720.7 384L720.9 384L721.1 383L721.2 380.9L721.4 379L721.5 379L721.7 379.1L721.8 379.1L722 379.2L722.1 379.2L722.3 379.3L722.4 379.3L722.6 379.4L722.8 379.3L722.9 379.4L723.1 379.5L723.2 379.5L723.4 379.6L723.5 379.7L723.7 379.7L723.8 379.7L724 379.7L724.2 379.8L724.3 379.9L724.5 379.9L724.6 379.9L724.8 380L724.9 380.1L725.1 380.1L725.2 380.2L725.4 380.2L725.5 380.3L725.7 380.3L725.9 380.3L726 380.5L726.2 380.5L726.3 380.5L726.5 380.6L726.6 380.8L726.8 381L726.9 381L727.1 381.1L727.3 381.2L727.4 381.4L727.6 381.5L727.7 381.6L727.9 381.8L728 381.9L728.2 382L728.3 382.2L728.5 382.3L728.6 382.4L728.8 382.6L729 383.2L729.1 384.5L729.3 385.8L729.4 387L729.6 388.3L729.6 388.3Z" fill="#1FACFE"/>
<path d="M583.4 388.3L583.4 388.3L583.6 388.1L583.7 387.8L583.9 387.6L584 387.3L584.2 387.1L584.3 386.8L584.5 386.6L584.7 386.3L584.8 386.1L585 385.8L585.1 385.5L585.3 385.4L585.4 385.3L585.6 385.2L585.7 385.1L585.9 385L586 384.9L586.2 384.8L586.4 384.7L586.5 384.6L586.7 384.4L586.8 384.3L587 384.3L587.1 384.1L587.3 384L587.4 383.9L587.6 383.8L587.8 383.7L587.9 383.6L588.1 383.5L588.2 383.3L588.4 383.3L588.5 383.2L588.7 382.9L588.8 382.6L589 382.3L589.1 381.9L589.3 381.5L589.5 381.2L589.6 380.9L589.8 380.5L589.9 380.3L590.1 380.1L590.2 379.8L590.4 319.8L590.5 318.7L590.7 317.7L590.9 318.5L591 318.4L591.2 318L591.3 318.2L591.5 317.5L591.6 317.9L591.8 317.5L591.9 318.3L592.1 318.6L592.2 317.3L592.4 317.9L592.6 318L592.7 317.4L592.9 317.8L593 318.2L593.2 318L593.3 317.4L593.5 318L593.6 317.9L593.8 316.5L594 317.5L594.1 317.3L594.3 317.3L594.4 318.2L594.6 318.4L594.7 317.7L594.9 318.5L595 317.1L595.2 317.2L595.3 318.1L595.5 318.5L595.7 318.1L595.8 317.6L596 317.7L596.1 317.8L596.3 318.1L596.4 318.5L596.6 318.5L596.7 318.8L596.9 318.5L597.1 319.1L597.2 319L597.4 319L597.5 317.9L597.7 317.1L597.8 316.8L598 317.5L598.1 317.6L598.3 318.1L598.4 318.5L598.6 318.6L598.8 317.9L598.9 318.5L599.1 318.3L599.2 319.4L599.4 318.7L599.5 319.1L599.7 319.4L599.8 319.3L600 319.3L600.2 319.2L600.3 319L600.5 319.6L600.6 319L600.8 319.4L600.9 319.7L601.1 319.2L601.2 319.6L601.4 319.6L601.5 320.2L601.7 319.9L601.9 319.6L602 320.3L602.2 320.4L602.3 322L602.5 322.3L602.6 322.9L602.8 324.5L602.9 325.7L603.1 326.7L603.3 327.7L603.4 327.9L603.6 329.5L603.7 330.5L603.9 332.6L604 333.2L604.2 334.4L604.3 335.7L604.5 337L604.6 337.9L604.8 339.5L605 341.4L605.1 342.9L605.3 345.3L605.4 347.1L605.6 349L605.7 351.3L605.9 353.2L606 355.5L606.2 357.3L606.4 359.4L606.5 361.2L606.7 363.2L606.8 364.6L607 365.8L607.1 367L607.3 368L607.4 369L607.6 370.2L607.7 371.4L607.9 372.6L608.1 373.8L608.2 374.8L608.4 376.1L608.5 375.9L608.7 376L608.8 376L609 375.9L609.1 375.8L609.3 375.8L609.5 375.8L609.6 375.7L609.8 375.7L609.9 375.8L610.1 375.7L610.2 375.7L610.4 375.7L610.5 375.7L610.7 375.6L610.8 375.5L611 375.5L611.2 375.4L611.3 375.3L611.5 375.5L611.6 375.4L611.8 375.2L611.9 375.2L612.1 375.2L612.2 375.2L612.4 375.1L612.6 375.2L612.7 375L612.9 374.9L613 374.9L613.2 374.8L613.3 373.6L613.5 371.2L613.6 368.7L613.8 368.6L613.9 368.8L614.1 369.1L614.3 369.3L614.4 369.2L614.6 369.4L614.7 369.6L614.9 369.7L615 370L615.2 370.1L615.3 370.3L615.5 370.4L615.7 370.7L615.8 370.7L616 371L616.1 371.1L616.3 371.1L616.4 371.4L616.6 371.4L616.7 371.6L616.9 371.6L617 372L617.2 372.1L617.4 372.2L617.5 372.1L617.7 372.1L617.8 372.3L618 372.3L618.1 372.3L618.3 372.3L618.4 372.4L618.6 372.5L618.8 372.6L618.9 372.5L619.1 372.6L619.2 372.6L619.4 372.7L619.5 372.7L619.7 372.8L619.8 372.9L620 372.7L620.1 372.9L620.3 373L620.5 373.1L620.6 373L620.8 373L620.9 373.2L621.1 373.3L621.2 373.3L621.4 373.4L621.5 296.1L621.7 294.9L621.9 294.8L622 294.3L622.2 293.7L622.3 294.1L622.5 293.4L622.6 292.7L622.8 292.4L622.9 292.3L623.1 292.1L623.2 290.9L623.4 291.6L623.6 291.1L623.7 290.7L623.9 289.9L624 289.4L624.2 290.4L624.3 288.9L624.5 288.8L624.6 289.1L624.8 288.6L625 286.4L625.1 288.3L625.3 287L625.4 287.3L625.6 287.6L625.7 287.9L625.9 288.3L626 289.5L626.2 288.6L626.3 290.2L626.5 289.8L626.7 289.4L626.8 290.2L627 291.4L627.1 291.1L627.3 291.5L627.4 292.6L627.6 291.9L627.7 291.9L627.9 292.7L628.1 292.4L628.2 293.8L628.4 293.7L628.5 294.2L628.7 296.1L628.8 295.9L629 297.8L629.1 296.9L629.3 298.2L629.4 298.9L629.6 300.7L629.8 299.6L629.9 301L630.1 301.9L630.2 302.3L630.4 302.9L630.5 303.5L630.7 304.2L630.8 305.1L631 305.5L631.2 306.1L631.3 307.8L631.5 309.4L631.6 312.3L631.8 315.9L631.9 318.9L632.1 322.1L632.2 325.1L632.4 328.6L632.5 329.8L632.7 331.3L632.9 331.1L633 331.5L633.2 332.5L633.3 332.6L633.5 334.9L633.6 338.7L633.8 342.3L633.9 342.3L634.1 342.1L634.3 342L634.4 330.4L634.6 325.6L634.7 331.8L634.9 331.3L635 331.7L635.2 332.8L635.3 332.2L635.5 333.2L635.6 332.9L635.8 333.6L636 334.1L636.1 334.9L636.3 335.6L636.4 335.7L636.6 336.8L636.7 337.3L636.9 337.8L637 338.8L637.2 339.8L637.4 340.3L637.5 341L637.7 341.5L637.8 342.3L638 343.1L638.1 343.6L638.3 344.6L638.4 345.2L638.6 345.7L638.7 345.9L638.9 347L639.1 347.6L639.2 348.1L639.4 348.4L639.5 348.8L639.7 349.2L639.8 349.5L640 349.5L640.1 349.8L640.3 350.2L640.5 350.4L640.6 351.2L640.8 350.9L640.9 351.1L641.1 351.4L641.2 351.5L641.4 352.1L641.5 352.4L641.7 352.6L641.8 352.5L642 353.2L642.2 353.5L642.3 353.6L642.5 354L642.6 354.2L642.8 354.2L642.9 354.7L643.1 354.9L643.2 355.4L643.4 355.8L643.6 356.3L643.7 356.8L643.9 357.3L644 357.9L644.2 358.4L644.3 359.3L644.5 359.7L644.6 360.3L644.8 360.9L644.9 361.4L645.1 362L645.3 362.5L645.4 363.2L645.6 363.7L645.7 364.4L645.9 364.9L646 365.3L646.2 366L646.3 366.1L646.5 366.5L646.7 366.6L646.8 366.8L647 367.2L647.1 367.3L647.3 367.7L647.4 367.6L647.6 367.6L647.7 367.6L647.9 367.6L648 367.4L648.2 367.7L648.4 367.4L648.5 367.5L648.7 367.4L648.8 367.5L649 367.4L649.1 367.8L649.3 367.9L649.4 368.3L649.6 368.6L649.8 369L649.9 369.2L650.1 369.8L650.2 369.9L650.4 370.4L650.5 370.9L650.7 371L650.8 371.5L651 371.8L651.1 372.1L651.3 372.7L651.5 372.8L651.6 373.1L651.8 373.5L651.9 374L652.1 374.2L652.2 374.5L652.4 374.8L652.5 375.1L652.7 375.4L652.9 375.7L653 376L653.2 376.3L653.3 376.6L653.5 376.9L653.6 377.2L653.8 377.5L653.9 377.8L654.1 378.1L654.2 378.3L654.4 378.6L654.6 379L654.7 379.2L654.9 379.5L655 379.8L655.2 380.1L655.3 380.4L655.5 380.8L655.6 380.7L655.8 380.8L656 380.7L656.1 380.7L656.3 380.7L656.4 380.6L656.6 380.7L656.7 380.7L656.9 380.7L657 380.7L657.2 358.4L657.3 358.9L657.5 358.8L657.7 358.8L657.8 358.6L658 358.9L658.1 359.1L658.3 359.1L658.4 358.7L658.6 358.8L658.7 358.8L658.9 359.1L659.1 358.9L659.2 358.9L659.4 358.9L659.5 358.9L659.7 358.8L659.8 359.2L660 359.3L660.1 359.3L660.3 358.9L660.4 358.9L660.6 359.2L660.8 359L660.9 359.2L661.1 358.9L661.2 359L661.4 359.2L661.5 359.2L661.7 359.2L661.8 359.4L662 358.9L662.2 359.2L662.3 359.2L662.5 358.8L662.6 359.1L662.8 359.4L662.9 359.3L663.1 349.7L663.2 349.9L663.4 349.8L663.5 350L663.7 350.4L663.9 350L664 350.6L664.2 350.4L664.3 350.1L664.5 350L664.6 349.8L664.8 350L664.9 350.3L665.1 349.8L665.3 350.3L665.4 350.1L665.6 350.1L665.7 350L665.9 350.3L666 349.7L666.2 350L666.3 350.1L666.5 349.7L666.6 350.3L666.8 350.3L667 351L667.1 351.2L667.3 351.4L667.4 352L667.6 352L667.7 352.3L667.9 352.5L668 353.1L668.2 353.2L668.4 353.2L668.5 353.6L668.7 354L668.8 354.5L669 354.5L669.1 354.9L669.3 355.2L669.4 355.4L669.6 354.7L669.7 354L669.9 353.3L670.1 352.3L670.2 351.8L670.4 351.2L670.5 350.3L670.7 350.1L670.8 350.5L671 350.8L671.1 351.2L671.3 351.6L671.5 352L671.6 352.2L671.8 352.4L671.9 353.2L672.1 353.5L672.2 353.6L672.4 354.2L672.5 354.8L672.7 354.7L672.8 355L673 355.3L673.2 356.3L673.3 356.6L673.5 357.3L673.6 358L673.8 358.6L673.9 359.3L674.1 360L674.2 360.5L674.4 361.1L674.6 362L674.7 362.7L674.9 363L675 363.6L675.2 364.2L675.3 364.9L675.5 364.8L675.6 365.4L675.8 365.3L675.9 365.6L676.1 366L676.3 365.9L676.4 366.2L676.6 366.5L676.7 366.7L676.9 366.9L677 367.2L677.2 367.7L677.3 367.6L677.5 367.8L677.7 368.3L677.8 368.3L678 368.5L678.1 368.6L678.3 368.9L678.4 369.4L678.6 369.4L678.7 369.8L678.9 370.1L679 370.2L679.2 370.4L679.4 370.6L679.5 371L679.7 371.2L679.8 371.4L680 371.6L680.1 371.5L680.3 371.6L680.4 371.7L680.6 371.8L680.8 371.7L680.9 371.9L681.1 372.2L681.2 372L681.4 372.2L681.5 372.1L681.7 372.2L681.8 372.2L682 372.5L682.1 372.4L682.3 372.7L682.5 372.6L682.6 372.7L682.8 372.7L682.9 372.8L683.1 373L683.2 372.9L683.4 373L683.5 372.9L683.7 372.5L683.9 372.4L684 372L684.2 372L684.3 371.7L684.5 371.6L684.6 371.4L684.8 371L684.9 370.8L685.1 370.5L685.2 370.5L685.4 370.9L685.6 370.8L685.7 371L685.9 371.1L686 371.1L686.2 371.3L686.3 371.2L686.5 371.3L686.6 371.5L686.8 371.5L687 371.6L687.1 371.7L687.3 371.8L687.4 372.1L687.6 372.1L687.7 372.3L687.9 372.3L688 372.3L688.2 372.4L688.3 372.4L688.5 372.4L688.7 372.5L688.8 372.6L689 372.8L689.1 372.8L689.3 373L689.4 373L689.6 373.1L689.7 373.2L689.9 373.3L690.1 373.4L690.2 373.4L690.4 373.7L690.5 373.6L690.7 373.6L690.8 373.6L691 373.6L691.1 373.5L691.3 373.8L691.4 373.7L691.6 373.6L691.8 373.6L691.9 373.6L692.1 373.8L692.2 373.7L692.4 373.6L692.5 373.7L692.7 369.6L692.8 369.7L693 369.8L693.2 369.8L693.3 369.9L693.5 369.8L693.6 370L693.8 370L693.9 370.1L694.1 370.2L694.2 370.1L694.4 370.2L694.5 370.3L694.7 370.4L694.9 370.5L695 370.4L695.2 370.5L695.3 370.4L695.5 370.5L695.6 370.6L695.8 370.9L695.9 370.7L696.1 370.7L696.3 370.7L696.4 370.9L696.6 371L696.7 371.1L696.9 371L697 371.2L697.2 371.2L697.3 371.3L697.5 371.3L697.6 371.3L697.8 371.5L698 371.6L698.1 371.5L698.3 371.5L698.4 371.5L698.6 371.7L698.7 371.7L698.9 371.6L699 371.8L699.2 372L699.4 372.1L699.5 372.1L699.7 372.1L699.8 372.1L700 372.3L700.1 372.3L700.3 372.3L700.4 372.7L700.6 372.5L700.7 372.7L700.9 372.5L701.1 372.9L701.2 372.7L701.4 372.8L701.5 372.8L701.7 373L701.8 373.1L702 373.1L702.1 373.3L702.3 373.4L702.5 373.5L702.6 373.5L702.8 373.4L702.9 373.5L703.1 373.6L703.2 373.6L703.4 373.8L703.5 306.7L703.7 305.5L703.8 306.4L704 305.8L704.2 306.3L704.3 305.3L704.5 305.9L704.6 306.2L704.8 306.2L704.9 305.6L705.1 306.2L705.2 306.7L705.4 306.3L705.6 306.9L705.7 306L705.9 306.1L706 306.6L706.2 306.7L706.3 306.9L706.5 306.7L706.6 306.6L706.8 305.8L706.9 306.8L707.1 306.8L707.3 306.3L707.4 307.3L707.6 306.7L707.7 306.5L707.9 307.5L708 308.1L708.2 308.3L708.3 309L708.5 310.2L708.7 309.8L708.8 309.6L709 310.8L709.1 311.7L709.3 311.8L709.4 311.8L709.6 311.7L709.7 312.4L709.9 313.9L710 314.4L710.2 313.6L710.4 315.2L710.5 316.1L710.7 316L710.8 317.4L711 319.1L711.1 320.7L711.3 321.1L711.4 322.9L711.6 324.5L711.8 326.1L711.9 327.6L712.1 329.6L712.2 330.6L712.4 332.1L712.5 334L712.7 335.3L712.8 337.4L713 339.2L713.1 340.1L713.3 341.7L713.5 343.4L713.6 344.5L713.8 345.4L713.9 345.9L714.1 347.1L714.2 347L714.4 347.9L714.5 348.9L714.7 349.2L714.9 349.9L715 350.5L715.2 351.1L715.3 351.8L715.5 352.4L715.6 352.9L715.8 353.5L715.9 354.4L716.1 354.6L716.2 355.7L716.4 356.3L716.6 356.9L716.7 357.5L716.9 358.1L717 358.7L717.2 360L717.3 360.7L717.5 362L717.6 363.2L717.8 364.4L718 365.3L718.1 366.4L718.3 367.6L718.4 368.6L718.6 369.8L718.7 371L718.9 371.8L719 371.9L719.2 372.3L719.3 372.8L719.5 373.1L719.7 373.4L719.8 373.9L720 376.6L720.1 381.6L720.3 384L720.4 384L720.6 384L720.7 384L720.9 384L721.1 383L721.2 380.9L721.4 379L721.5 379L721.7 379.1L721.8 379.1L722 379.2L722.1 379.2L722.3 379.3L722.4 379.3L722.6 379.4L722.8 379.3L722.9 379.4L723.1 379.5L723.2 379.5L723.4 379.6L723.5 379.7L723.7 379.7L723.8 379.7L724 379.7L724.2 379.8L724.3 379.9L724.5 379.9L724.6 379.9L724.8 380L724.9 380.1L725.1 380.1L725.2 380.2L725.4 380.2L725.5 380.3L725.7 380.3L725.9 380.3L726 380.5L726.2 380.5L726.3 380.5L726.5 380.6L726.6 380.8L726.8 381L726.9 381L727.1 381.1L727.3 381.2L727.4 381.4L727.6 381.5L727.7 381.6L727.9 381.8L728 381.9L728.2 382L728.3 382.2L728.5 382.3L728.6 382.4L728.8 382.6L729 383.2L729.1 384.5L729.3 385.8L729.4 387L729.6 388.3L729.6 388.3Z" fill="url(#stripe)"/>
<polyline points="574.58,359.9 574.65,374.1 574.73,374.1 574.81,374.03 574.89,374.28 574.97,374.1 575.27,374.1 575.35,373.95 575.43,374.1 575.51,373.66 575.59,369.4 575.66,374.14 575.74,374.15 575.82,359.9 575.89,369.24 575.97,373.96 576.05,373.82 576.13,374.26 576.21,368.8 576.28,372.83 576.36,373.91 576.44,373.59 576.51,368.78 576.59,374.1 576.67,370.9 576.75,374.1 576.83,359.9 576.9,374.1 576.98,374.1 577.06,371.42 577.13,374.35 577.21,374.1 577.37,374.1 577.45,379.5 577.52,373.84 577.6,374.1 577.75,374.1 577.83,374 577.91,374.1 577.99,374.2 578.07,374 578.14,374.1 579.07,374.1 579.15,372.75 579.23,374.1 579.3,374.1 579.38,374.63 579.46,374.1 579.54,372.77 579.62,374.1 579.77,374.1 579.85,374.38 579.92,373.85 580,374.1 580.08,374.13 580.16,374.1 580.24,372.61 580.31,373.96 580.39,374.1 580.62,374.1 580.7,369.84 580.78,371.89 580.86,374.1 581.4,374.1 581.48,374.24 581.55,374.1 581.78,374.1 581.86,374.06 581.94,374.1 582.02,372.74 582.1,373.12 582.17,372.68 582.25,371.06 582.33,374.1 582.48,374.1 582.56,369.42 582.64,371.72 582.72,374.1 582.79,373.85 582.87,374.1 583.1,374.1 583.18,374.49 583.26,373.78 583.34,374.97 583.41,374.1 583.64,374.1 583.72,367.29 583.8,374.1 583.88,373.79 583.96,374.32 584.03,374.1 584.11,374.37 584.19,374.1 584.26,374.1 584.34,359.9 584.42,374.1 584.5,374.37 584.58,370.92 584.65,374.1 585.58,374.1 585.66,374.04 585.74,374.1 585.97,374.1 586.05,374.02 586.12,374.1 586.2,374.1 586.28,368.29 586.36,374.1 586.51,374.1 586.59,373.75 586.67,374.1 586.75,374.1 586.82,374.72 586.9,374.56 586.98,371.49 587.05,374.1 587.13,374.1 587.21,373.42 587.29,374.1 587.37,374.1 587.44,374.45 587.52,374.1 587.6,374.1 587.67,370.78 587.75,374.1 587.83,374.12 587.91,374.1 587.99,369.67 588.06,374.1 588.14,374.1 588.22,374.93 588.29,374.1 588.37,374.45 588.45,374.1 588.53,374.1 588.61,362.17 588.68,373.91 588.76,374.19 588.84,374.75 588.91,374.1 589.15,374.1 589.23,371.52 589.3,374.07 589.38,374.1 589.46,373.84 589.53,373.28 589.61,374.1 589.69,373.73 589.77,374.1 590.08,374.1 590.15,331.93 590.23,367.77 590.31,374.1 591.01,374.1 591.09,374.41 591.16,374.1 591.55,374.1 591.63,373.81 591.71,374.1 591.78,374.48 591.86,374.1 592.01,374.1 592.09,373.53 592.17,374.1 592.33,374.1 592.4,374.14 592.48,374 592.56,374.1 592.63,374.1 592.71,373.71 592.79,374.1 592.87,374.34 592.95,374.1 593.02,374.1 593.1,373.91 593.18,374.1 593.25,374.1 593.33,374.24 593.41,373.94 593.49,374.1 593.64,374.1 593.72,373.56 593.8,374.43 593.88,374.1 594.11,374.1 594.18,373.89 594.26,374.1 594.57,374.1 594.65,373.52 594.73,373.98 594.8,374.1 594.88,373.82 594.96,374.1 595.04,374.51 595.12,374.33 595.19,374.1 595.5,374.1 595.58,374.7 595.66,374.51 595.74,374.1 596.66,374.1 596.74,374.29 596.82,374.1 596.9,373.82 596.98,374.1 597.36,374.1 597.44,373.86 597.52,374.1 597.6,374.33 597.67,374.1 597.75,374.42 597.83,374.53 597.9,374.1 598.14,374.1 598.22,373.65 598.29,374.1 598.52,374.1 598.6,374.02 598.68,374.1 599.14,374.1 599.22,374.23 599.3,374.03 599.38,374.1 599.61,374.1 599.69,374.17 599.76,374.17 599.84,374.1 599.92,374.51 600,374.1 600.54,374.1 600.62,374.12 600.7,374.1 600.85,374.1 600.93,374.26 601,374.1 601.32,374.1 601.39,373.81 601.47,374.1 601.78,374.1 601.86,374.38 601.93,374.11 602.01,373.71 602.09,374.1 602.71,374.1 602.79,374.16 602.87,374.1 603.41,374.1 603.49,374.63 603.56,374.1 603.64,374.08 603.72,374.1 603.79,374.1 603.87,374.02 603.95,374.1 604.26,374.1 604.34,373.8 604.41,374.1 604.73,374.1 604.8,374.4 604.88,374.14 604.96,374.4 605.03,374.1 605.19,374.1 605.27,373.85 605.35,374.1 605.42,374.1 605.5,373.66 605.58,374.1 605.89,374.1 605.97,373.76 606.04,376.94 606.12,373.92 606.2,373.96 606.27,374.1 606.35,374.1 606.43,374.02 606.51,374.1 606.59,373.76 606.66,374.1 606.74,374.1 606.82,374.27 606.89,374.1 607.05,374.1 607.13,373.99 607.21,374.1 607.28,374.1 607.36,373.98 607.44,374.1 607.67,374.1 607.75,373.29 607.83,374.22 607.9,374.01 607.98,374.1 608.13,374.1 608.21,374.34 608.29,374.51 608.37,374.55 608.45,373.73 608.52,374.1 608.6,374.1 608.68,373.66 608.75,374.18 608.83,374.1 608.91,374.1 609.22,374.1 609.3,374.4 609.38,374.1 609.45,374.1 609.53,367.43 609.61,374.1 609.92,374.1 610,374.2 610.07,373.96 610.15,374.1 610.38,374.1 610.46,374.44 610.54,374.1 610.62,374.49 610.69,374.1 610.77,373.65 610.85,374.1 610.92,374.64 611,374.1 611.08,373.7 611.16,374.1 611.31,374.1 611.39,374.22 611.47,374.1 611.78,374.1 611.86,374.13 611.93,374.1 612.24,374.1 612.32,374.71 612.4,374.1 612.78,374.1 612.86,374.44 612.94,374.1 613.02,374.1 613.1,373.86 613.17,374.1 613.25,366.29 613.33,374.1 613.4,374.1 613.48,374.36 613.56,374.1 613.64,374.24 613.72,374.1 613.79,374.21 613.87,374.1 614.26,374.1 614.34,373.93 614.41,374.1 614.72,374.1 614.8,374.23 614.88,374.1 615.34,374.1 615.42,374.02 615.5,374.1 616.27,374.1 616.35,374.33 616.43,374.1 616.74,374.1 616.82,374.07 616.89,374.34 616.97,374.32 617.05,374.31 617.12,374.1 617.2,373.16 617.28,374.1 617.36,374.1 617.43,373.78 617.51,374.1 617.59,373.96 617.67,374.42 617.75,374.1 617.82,374.1 617.9,374 617.98,374.1 618.13,374.1 618.21,374.84 618.29,374.1 618.37,374.1 618.44,373.85 618.52,374.1 618.75,374.1 618.83,374.04 618.91,373.89 618.99,374.1 619.53,374.1 619.61,374.1 619.68,374.1 620.23,374.1 620.3,374.09 620.38,374.1 620.46,374.1 620.53,374.48 620.61,373.85 620.69,374.1 620.77,373.71 620.85,374.1 621.15,374.1 621.23,379.78 621.31,374.1 621.39,374.1 621.47,373.58 621.54,243.46 621.62,354.5 621.7,374.1 621.77,373.97 621.85,374.06 621.93,374.1 622.01,374.1 622.09,373.9 622.16,374.1 622.24,374.1 622.32,373.62 622.39,373.9 622.47,374.1 622.71,374.1 622.78,373.66 622.86,374.49 622.94,374.3 623.01,374.1 623.48,374.1 623.56,373.98 623.63,374.1 623.87,374.1 623.95,373.97 624.02,374.1 624.1,374.1 624.18,374.35 624.25,374.1 624.33,374.76 624.41,374.1 624.57,374.1 624.64,373.55 624.72,374.1 624.8,374.06 624.88,374.1 624.95,373.82 625.03,374.1 625.65,374.1 625.73,373.68 625.8,374.1 625.96,374.1 626.04,374.01 626.12,374.1 626.27,374.1 626.35,373.61 626.42,374.1 626.5,373.67 626.58,374.1 626.97,374.1 627.04,374.44 627.12,374.1 627.43,374.1 627.51,374.63 627.59,374.1 628.05,374.1 628.13,374.27 628.21,374.14 628.28,374.1 628.98,374.1 629.06,373.2 629.14,373.57 629.22,374.1 629.91,374.1 629.99,374.16 630.07,374.1 630.14,374.1 630.22,374.58 630.3,374.1 630.38,374.1 630.46,374.39 630.53,374.1 630.61,374.1 630.69,374.09 630.76,374.1 630.84,374.1 630.92,374.26 631,374.1 631.38,374.1 631.46,374.27 631.54,374.38 631.62,374.08 631.7,374.1 631.77,374.17 631.85,374.1 632.24,374.1 632.32,374.44 632.39,374.1 633.01,374.1 633.09,373.83 633.17,374.1 633.48,374.1 633.55,374.17 633.63,374.76 633.71,374.1 633.94,374.1 634.02,374.23 634.1,374.1 634.17,374.15 634.25,374.1 634.41,374.1 634.49,367 634.56,374.1 634.64,374.1 634.72,374.1 634.95,374.1 635.03,373.43 635.11,374.1 635.18,373.81 635.26,374.1 636.03,374.1 636.11,373.46 636.19,374.05 636.27,374.1 636.42,374.1 636.5,374.04 636.58,373.95 636.65,374.42 636.73,374.1 636.89,374.1 636.97,374.07 637.04,373.38 637.12,374.35 637.2,374.1 637.66,374.1 637.74,374.65 637.82,374.1 638.28,374.1 638.36,373.56 638.44,374.1 638.51,374.27 638.59,374.3 638.67,374.1 639.37,374.1 639.44,374.71 639.52,374.1 639.83,374.1 639.91,373.91 639.99,374.26 640.07,374.1 640.61,374.1 640.68,374.4 640.76,374.1 641.15,374.1 641.23,374.09 641.3,374.1 641.46,374.1 641.54,374.57 641.62,374.1 642.16,374.1 642.24,373.87 642.31,373.97 642.39,374.1 643.24,374.1 643.32,374.46 643.4,374.1 643.48,374.1 643.55,373.53 643.63,374.1 643.71,374.1 643.78,374.45 643.86,374.1 643.94,374.1 644.02,373.77 644.1,373.2 644.17,374.33 644.25,374.07 644.33,374.1 644.48,374.1 644.56,374.03 644.64,374.39 644.72,374.1 645.18,374.1 645.26,374.46 645.34,373.9 645.41,373.97 645.49,374.1 645.57,374.16 645.64,374.21 645.72,374.1 645.8,374.29 645.88,374.1 646.26,374.1 646.34,368.85 646.42,374.1 646.81,374.1 646.88,374.1 646.96,374.1 647.04,374.67 647.12,374.1 647.19,374.1 647.27,374.25 647.35,374.1 647.74,374.1 647.82,374.43 647.89,374.1 648.36,374.1 648.43,374.17 648.51,374.1 649.44,374.1 649.52,373.79 649.6,373.88 649.67,374.1 650.22,374.1 650.29,374.49 650.37,374.1 650.45,374.1 650.53,374.61 650.61,374.28 650.68,374.1 650.91,374.1 650.99,373.17 651.07,374.1 651.15,374.08 651.23,373.9 651.3,374.1 651.61,374.1 651.69,373.04 651.77,374.1 651.85,374.1 651.92,373.89 652,374.65 652.08,374.1 652.23,374.1 652.31,373.35 652.39,374.25 652.47,374.1 652.62,374.1 652.7,374.68 652.77,374.1 652.85,374.1 652.93,374.74 653.01,374.1 653.24,374.1 653.32,374.42 653.39,374.1 653.55,374.1 653.63,373.86 653.71,374.1 653.78,374.1 653.86,374.19 653.94,374.1 654.17,374.1 654.25,374.18 654.33,374.1 654.56,374.1 654.63,373.31 654.71,374.1 654.79,374.1 654.87,376.23 654.94,373.91 655.02,374.37 655.1,374.1 655.25,374.1 655.33,373.82 655.41,373.82 655.49,374.1 655.57,374.45 655.64,374.1 656.34,374.1 656.42,373.86 656.5,374.49 656.57,374.1 656.65,374.1 656.73,374.02 656.8,374.1 656.88,333.06 656.96,367.94 657.04,374.1 657.12,374.1 657.19,373.71 657.27,374.1 657.58,374.1 657.66,374.01 657.74,374.1 657.81,374.45 657.89,374.38 657.97,374.1 658.04,374.1 658.12,374.49 658.2,374.1 658.28,374.1 658.36,374.33 658.43,374.1 658.51,373.73 658.59,374.1 658.82,374.1 658.9,374.37 658.98,374.1 659.13,374.1 659.21,374.44 659.28,374.1 659.44,374.1 659.52,373.21 659.6,374.1 659.67,373.98 659.75,374.1 659.83,373.59 659.9,374.1 660.45,374.1 660.52,374.15 660.6,374.36 660.68,374.1 661.07,374.1 661.14,373.98 661.22,374.1 661.69,374.1 661.76,374.22 661.84,374.1 662,374.1 662.08,373.9 662.15,374.1 662.23,374.1 662.31,374.06 662.38,374.1 662.46,371.26 662.54,374.1 662.62,374.1 662.69,374.58 662.77,374.1 663.16,374.1 663.24,374 663.32,374.1 663.62,374.1 663.7,374.01 663.78,374.96 663.86,374.1 663.93,373.95 664.01,374.2 664.09,374.1 664.55,374.1 664.63,374.02 664.71,374.1 664.87,374.1 664.94,374.11 665.02,374.1 665.1,374.02 665.17,373.73 665.25,374.1 665.41,374.1 665.49,373.75 665.56,374.79 665.64,374.1 666.18,374.1 666.26,373.79 666.34,374.1 666.88,374.1 666.96,374.41 667.03,374.48 667.11,374.1 667.19,374.1 667.27,374.4 667.35,374.37 667.42,374.1 667.58,374.1 667.65,374 667.73,374.03 667.81,374.1 667.89,374.51 667.97,374.1 668.04,374.1 668.12,374.33 668.2,374.1 668.51,374.1 668.59,374.26 668.66,374.1 668.74,374.1 668.82,374.26 668.89,374.1 669.28,374.1 669.36,373.26 669.44,373.9 669.51,374.1 669.59,374.83 669.67,374.1 669.75,373.92 669.83,374.1 669.9,374.1 669.98,374.06 670.06,374.1 670.13,374.1 670.21,371.26 670.29,374.1 670.37,374.05 670.44,373.95 670.52,374.41 670.6,374.55 670.68,373.68 670.75,373.98 670.83,374.1 671.07,374.1 671.14,373.46 671.22,374.1 671.38,374.1 671.45,373.84 671.53,373.84 671.61,374.1 671.76,374.1 671.84,373.99 671.92,374.1 672,374.1 672.07,374.46 672.15,374.1 672.3,374.1 672.38,373.57 672.46,374.1 672.69,374.1 672.77,374.5 672.85,374.1 672.92,374.1 673,374.05 673.08,373.83 673.16,374.1 673.24,374.3 673.31,374.1 673.39,374.39 673.47,374.13 673.54,374.1 674.16,374.1 674.24,374.45 674.32,374.58 674.4,374.1 674.86,374.1 674.94,374.2 675.02,374.1 675.17,374.1 675.25,374.08 675.33,374.1 675.4,374.1 675.48,374.42 675.56,374.1 675.72,374.1 675.79,373.97 675.87,374.1 675.95,374.24 676.02,374.1 676.18,374.1 676.26,373.39 676.34,374.1 676.49,374.1 676.57,374.37 676.64,374.1 677.03,374.1 677.11,374.03 677.19,374.1 677.5,374.1 677.58,374.22 677.65,374.03 677.73,374.1 678.04,374.1 678.12,374.45 678.19,374.1 678.27,374.22 678.35,374.1 678.43,374.1 678.5,374.05 678.58,374.1 678.66,374.1 678.74,374.31 678.82,374.1 679.05,374.1 679.12,373.49 679.2,374.1 679.36,374.1 679.43,374.55 679.51,373.87 679.59,374.1 680.05,374.1 680.13,374.4 680.21,374.1 680.29,374.66 680.37,374.1 680.99,374.1 681.06,374.24 681.14,374.1 681.22,374.1 681.29,374.35 681.37,374.1 681.45,374.1 681.53,374.25 681.61,374.1 681.68,374.1 681.76,374.18 681.84,374.1 682.38,374.1 682.46,374.47 682.53,374.1 682.92,374.1 683,374.45 683.08,374.1 683.47,374.1 683.54,374.15 683.62,373.7 683.7,374.1 683.77,374.53 683.85,374.1 683.93,374.83 684.01,374.1 684.47,374.1 684.55,371.97 684.63,374.1 684.78,374.1 684.86,374.96 684.94,373.79 685.01,374.1 685.25,374.1 685.33,374.37 685.4,374.1 685.87,374.1 685.94,374.96 686.02,374.1 686.49,374.1 686.57,373.81 686.64,374.1 686.72,374.1 686.8,373.97 686.88,374.1 686.95,373.91 687.03,374.1 687.26,374.1 687.34,371.97 687.42,374.1 687.65,374.1 687.73,374.76 687.8,374.1 687.96,374.1 688.04,374.75 688.12,373.85 688.19,374.1 688.27,374.63 688.35,374.1 688.97,374.1 689.04,374.37 689.12,374.1 689.28,374.1 689.36,374.23 689.43,374.38 689.51,374.1 689.98,374.1 690.05,374.55 690.13,374.1 690.9,374.1 690.98,374.21 691.06,374.37 691.14,373.74 691.22,374.1 691.45,374.1 691.52,374.04 691.6,373.66 691.68,374.1 691.76,374.1 691.84,368.14 691.91,374.1 691.99,374.06 692.07,374.1 692.14,374.1 692.22,374.44 692.3,374.1 692.38,374.1 692.46,374.48 692.53,374.1 693.31,374.1 693.38,374.35 693.46,374.1 693.54,373.87 693.62,374.1 693.69,374.04 693.77,374.1 693.85,374.18 693.93,374.1 694,373.99 694.08,374.15 694.16,374.37 694.24,374.1 694.32,374.1 694.39,374.44 694.47,374.1 695.09,374.1 695.17,373.5 695.25,374.1 695.32,374.45 695.4,374.1 695.55,374.1 695.63,374.15 695.71,374.84 695.79,374.1 695.87,374.39 695.94,374.11 696.02,374.1 696.1,373.54 696.17,373.6 696.25,373.85 696.33,373.69 696.41,374.1 696.95,374.1 697.03,374.51 697.11,373.57 697.18,374.1 697.49,374.1 697.57,374.83 697.65,374.1 697.73,374.1 697.8,374.58 697.88,374.1 697.96,374.15 698.03,374.1 698.27,374.1 698.35,375.05 698.42,374.28 698.5,374.1 698.58,374.1 698.65,374.9 698.73,374.1 698.81,373.66 698.89,374.1 699.59,374.1 699.66,373.8 699.74,374.3 699.82,374.1 699.89,373.99 699.97,374.15 700.05,374.1 700.75,374.1 700.83,374.54 700.9,374.1 700.98,374.63 701.06,374.1 701.21,374.1 701.29,374.35 701.37,374.1 701.6,374.1 701.68,374.19 701.75,374.1 701.83,374.25 701.91,374.1 702.22,374.1 702.3,376.94 702.38,374.1 702.45,374.1 702.53,374.11 702.61,374.1 703,374.1 703.07,291.46 703.15,361.7 703.23,374 703.31,374.1 703.38,374.1 703.46,373.37 703.54,374.1 703.62,374.49 703.69,374.1 703.77,373.98 703.85,373.95 703.92,374.1 704,374.28 704.08,374.1 704.31,374.1 704.39,374.49 704.47,374.1 704.62,374.1 704.7,373.8 704.78,374.1 705.01,374.1 705.09,373.9 705.16,374.1 705.55,374.1 705.63,374.08 705.71,374.1 706.1,374.1 706.17,374.32 706.25,374.46 706.33,374.1 706.4,373.92 706.48,374.1 706.56,374.13 706.64,374.1 706.72,374.1 706.79,373.76 706.87,374.1 706.95,374.49 707.02,374.31 707.1,374.1 707.34,374.1 707.41,374.25 707.49,374.1 707.8,374.1 707.88,374.41 707.96,374.2 708.03,374.14 708.11,374.13 708.19,374.1 708.34,374.1 708.42,373.98 708.5,374.1 708.58,373.9 708.65,374.1 708.73,373.79 708.81,374.1 708.96,374.1 709.04,374.26 709.12,374.1 709.58,374.1 709.66,373.6 709.74,373.94 709.82,374.1 710.2,374.1 710.28,374.1 710.36,374.1 710.98,374.1 711.06,372.94 711.13,374.1 711.21,373.77 711.29,374.1 711.37,374.32 711.44,374.1 711.99,374.1 712.06,373.65 712.14,374.1 712.45,374.1 712.53,374.38 712.61,374.1 712.68,373.94 712.76,374.1 713.61,374.1 713.69,374.21 713.77,374.1 713.85,374.14 713.92,374.1 714.47,374.1 714.54,374.27 714.62,374.1 715.09,374.1 715.16,374.18 715.24,374.02 715.32,374.1 715.39,373.54 715.47,374.1 715.55,374.1 715.63,373.85 715.71,374.18 715.78,374.1 716.17,374.1 716.25,374.5 716.33,374.1 716.48,374.1 716.56,374.39 716.63,374.49 716.71,374.1 717.1,374.1 717.18,374.05 717.25,374.1 717.33,374.1 717.41,373.74 717.49,374.1 717.72,374.1 717.8,373.52 717.88,374.1 717.95,374.74 718.03,374.1 718.57,374.1 718.65,374.08 718.73,374.1 718.96,374.1 719.04,373.83 719.12,374.1 719.19,373.93 719.27,374.1 719.35,374.1 719.42,373.99 719.5,374.08 719.58,374.1 719.89,374.1 719.97,376.94 720.04,374.1 720.12,374.22 720.2,376.94 720.28,374.1 720.36,374.23 720.43,374.1 720.51,374.1 720.59,374.2 720.66,374.1 720.74,374.1 720.82,374.3 720.9,374.1 721.05,374.1 721.13,373.86 721.21,374.1 721.36,374.1 721.44,352.66 721.52,370.88 721.6,374.1 721.67,374.1 721.75,374.23 721.83,374.1 721.98,374.1 722.06,373.98 722.14,374.1 722.37,374.1 722.45,373.87 722.52,374.14 722.6,374.1 722.68,374.1 722.76,374.26 722.84,374.1 722.91,374.1 722.99,374.32 723.07,374.1 723.14,374.1 723.22,374.35 723.3,374.1 723.76,374.1 723.84,374.23 723.92,374.1 724,374.3 724.08,374.34 724.15,374.1 724.31,374.1 724.38,373.92 724.46,374.1 724.54,374.18 724.62,374.1 724.69,374.17 724.77,374.1 724.93,374.1 725,374.75 725.08,374.1 725.32,374.1 725.39,374.1 725.47,374.51 725.55,374.1 725.86,374.1 725.93,375.05 726.01,374.1 726.09,374.24 726.17,374.1 726.63,374.1 726.71,373.88 726.79,375.46 726.87,374.27 726.94,374.68 727.02,374.27 727.1,375.44 727.17,374.44 727.25,374.1 727.33,375.12 727.41,374.15 727.49,374.1 727.56,373.89 727.64,374.1 727.72,374.1 727.79,373.47 727.87,374.1 727.95,374.22 728.03,374.1 728.11,374.1 728.18,375.28 728.26,374.1 728.34,374.22 728.41,373.8 728.49,374.1 728.57,374.1 728.65,373.99 728.73,373.77 728.8,374.34 728.88,374.1 728.96,374.05 729.03,374.1 729.11,374.1 729.19,373.94 729.27,375.41 729.35,374.93 729.42,374.24 729.5,374.1 729.73,374.1 729.81,386.03 729.89,384.61 729.97,374.1 730.2,374.1 730.27,373.84 730.35,374.1 730.82,374.1 730.89,373.49 730.97,374.38 731.05,374.1 731.36,374.1 731.44,374.23 731.51,374.1 731.83,374.1 731.9,374.56 731.98,374.1 732.06,374.13 732.13,374.1" fill="none" stroke="#FF0000" stroke-width="0.75" stroke-linejoin="miter" stroke-miterlimit="2"/>
<path d="M574.58 374.1H732.13" fill="none" stroke="#FF0000" stroke-width="1.0"/>
<path d="M567.1 239.3V388.3H740.7V239.3M567.1 388.3h-1.9M567.1 352.8h-1.9M567.1 317.3h-1.9M567.1 281.8h-1.9M567.1 246.3h-1.9M740.7 388.3h1.9M740.7 352.8h1.9M740.7 317.3h1.9M740.7 281.8h1.9M740.7 246.3h1.9M574.5 388.3v1.9M613.25 388.3v1.9M652 388.3v1.9M690.75 388.3v1.9M729.5 388.3v1.9" fill="none" stroke="#333333" stroke-width="1"/>
<g font-size="10.8" fill="#4D4D4D"><text x="564" y="392.8" text-anchor="end">0</text><text x="564" y="357.3" text-anchor="end">500</text><text x="564" y="321.8" text-anchor="end">1000</text><text x="564" y="286.3" text-anchor="end">1500</text><text x="564" y="250.8" text-anchor="end">2000</text><text x="743.7" y="392.8">0.0</text><text x="743.7" y="357.3">2.5</text><text x="743.7" y="321.8">5.0</text><text x="743.7" y="286.3">7.5</text><text x="743.7" y="250.8">10.0</text><text x="574.5" y="399.3" text-anchor="middle">0</text><text x="613.25" y="399.3" text-anchor="middle">500</text><text x="652" y="399.3" text-anchor="middle">1000</text><text x="690.75" y="399.3" text-anchor="middle">1500</text><text x="729.5" y="399.3" text-anchor="middle">2000</text></g>
<text x="629.66" y="232" font-size="14.2">H2000-1</text>
<text x="653.9" y="413" font-size="14.0" text-anchor="middle">Position</text>
<text transform="translate(535.6 316) rotate(-90)" font-size="14.0" text-anchor="middle">Coverage (-)</text>
<text transform="translate(766.2 314.1) rotate(90)" font-size="14.0" text-anchor="middle">RCI (-)</text>
</g>
<g>
<path d="M233.4 452.1V534.9H607.4" fill="none" stroke="#4a4646" stroke-width="1"/>
<path d="M233.4 452.1h-5M233.4 493.5h-5M233.4 534.9h-5" fill="none" stroke="#333" stroke-width="1"/>
<g font-size="10" font-weight="bold" text-anchor="end" fill="#111" stroke="#111" stroke-width="0.3"><text x="228.3" y="455.8">2</text><text x="228.3" y="497.1">1</text><text x="228.3" y="538.7">0</text></g>
<text transform="translate(220.3 493.5) rotate(-90)" font-size="10" font-weight="bold" text-anchor="middle" fill="#111" stroke="#111" stroke-width="0.3">bits</text>
<text x="224.2" y="549.5" font-size="9.4" font-weight="bold" fill="#111" stroke="#111" stroke-width="0.2">5′</text>
<text x="603.0" y="549.5" font-size="9.4" font-weight="bold" fill="#111" stroke="#111" stroke-width="0.2">3′</text>
<text x="610.4" y="557.8" font-size="4.95" text-anchor="end" fill="#000">weblogo.berkeley.edu</text>
<g font-size="14.3" fill="#1a1a1a"><text x="252.95" y="550" text-anchor="middle">-5</text><text x="285.9" y="550" text-anchor="middle">-4</text><text x="314.85" y="550" text-anchor="middle">-3</text><text x="348.7" y="550" text-anchor="middle">-2</text><text x="380.85" y="550" text-anchor="middle">-1</text><text x="416.65" y="550" text-anchor="middle">+1</text><text x="450" y="550" text-anchor="middle">+2</text><text x="486.65" y="550" text-anchor="middle">+3</text><text x="519.5" y="550" text-anchor="middle">+4</text><text x="552.3" y="550" text-anchor="middle">+5</text><text x="581.3" y="550" text-anchor="middle">+6</text></g>
<text transform="matrix(0.5358 0 0 0.0473 330.99 531.25)" font-size="100" font-weight="bold" text-rendering="geometricPrecision" fill="#FF0000">U</text>
<path d="M334.3 532.4h32" stroke="#0000FF" stroke-width="0.6" opacity=".85"/>
<path d="M334.3 533.4h32" stroke="#00FF00" stroke-width="0.55" opacity=".9"/>
<text transform="matrix(0.5491 0 0 1.0688 363.91 532.73)" font-size="100" font-weight="bold" text-rendering="geometricPrecision" fill="#FF0000">U</text>
<path d="M375 534.3h12" stroke="#00FF00" stroke-width="0.6" opacity=".8"/>
<text transform="matrix(0.4888 0 0 1.1672 399.38 534.40)" font-size="100" font-weight="bold" text-rendering="geometricPrecision" fill="#00FF00">A</text>
<text transform="matrix(0.5015 0 0 1.0650 431.84 532.74)" font-size="100" font-weight="bold" text-rendering="geometricPrecision" fill="#0000FF">C</text>
<path d="M434 534.3h8M458 534.3h8.5" stroke="#FF0000" stroke-width="0.6" opacity=".8"/>
<text transform="matrix(0.4830 0 0 0.1229 465.12 524.18)" font-size="100" font-weight="bold" text-rendering="geometricPrecision" fill="#FFA500">G</text>
<text transform="matrix(0.5424 0 0 0.1218 463.85 532.88)" font-size="100" font-weight="bold" text-rendering="geometricPrecision" fill="#FF0000">U</text>
<path d="M468 533.7h31" stroke="#0000FF" stroke-width="0.8" opacity=".7"/>
<path d="M405.2 432.2V441" stroke="#000" stroke-width="1.5" fill="none"/>
<path d="M397.3 439.2L413.1 439.2L405.2 452.9Z" fill="#000"/>
</g>
</svg>
</body></html>
